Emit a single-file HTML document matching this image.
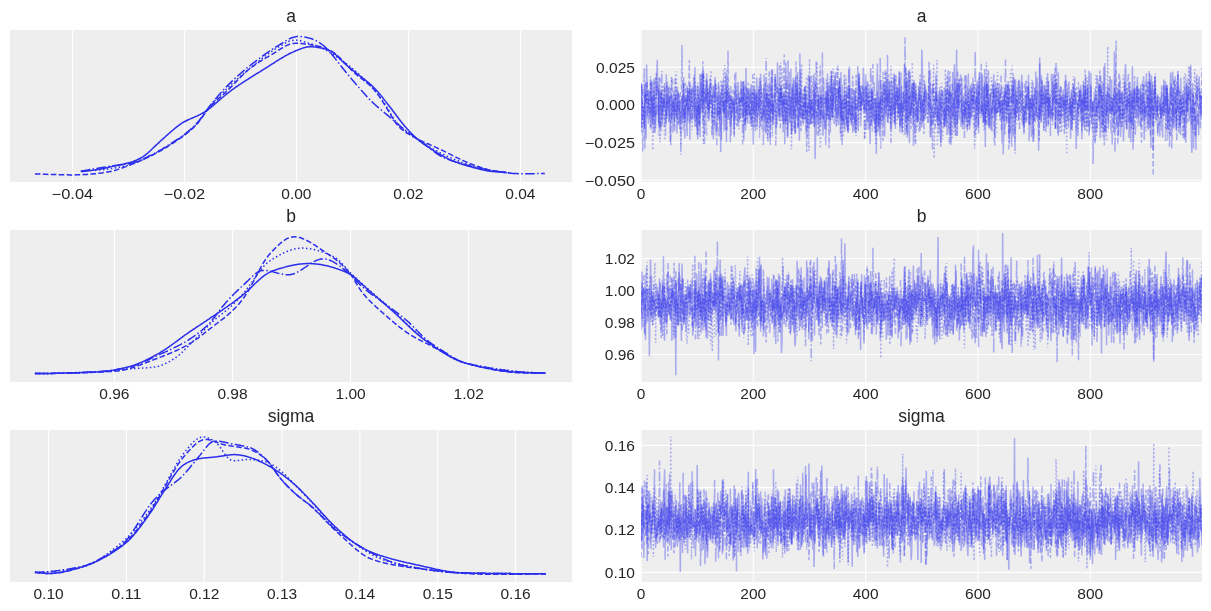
<!DOCTYPE html>
<html><head><meta charset="utf-8"><title>trace plot</title>
<style>html,body{margin:0;padding:0;background:#fff;width:1211px;height:611px;overflow:hidden}</style>
</head><body><svg width="1211" height="611" viewBox="0 0 1211 611" style="display:block;will-change:transform;font-family:'Liberation Sans',sans-serif"><defs><clipPath id="cL1"><rect x="10" y="30" width="562" height="152"/></clipPath><clipPath id="cR1"><rect x="641" y="30" width="561" height="152"/></clipPath><clipPath id="cL2"><rect x="10" y="230" width="562" height="152"/></clipPath><clipPath id="cR2"><rect x="641" y="230" width="561" height="152"/></clipPath><clipPath id="cL3"><rect x="10" y="430" width="562" height="152"/></clipPath><clipPath id="cR3"><rect x="641" y="430" width="561" height="152"/></clipPath></defs><rect x="10" y="30" width="562" height="152" fill="#eeeeee"/>
<line x1="72.40" y1="30" x2="72.40" y2="182" stroke="#fff" stroke-width="1.1"/>
<line x1="184.40" y1="30" x2="184.40" y2="182" stroke="#fff" stroke-width="1.1"/>
<line x1="296.40" y1="30" x2="296.40" y2="182" stroke="#fff" stroke-width="1.1"/>
<line x1="408.40" y1="30" x2="408.40" y2="182" stroke="#fff" stroke-width="1.1"/>
<line x1="520.40" y1="30" x2="520.40" y2="182" stroke="#fff" stroke-width="1.1"/>
<rect x="10" y="230" width="562" height="152" fill="#eeeeee"/>
<line x1="114.40" y1="230" x2="114.40" y2="382" stroke="#fff" stroke-width="1.1"/>
<line x1="232.50" y1="230" x2="232.50" y2="382" stroke="#fff" stroke-width="1.1"/>
<line x1="350.60" y1="230" x2="350.60" y2="382" stroke="#fff" stroke-width="1.1"/>
<line x1="468.70" y1="230" x2="468.70" y2="382" stroke="#fff" stroke-width="1.1"/>
<rect x="10" y="430" width="562" height="152" fill="#eeeeee"/>
<line x1="48.60" y1="430" x2="48.60" y2="582" stroke="#fff" stroke-width="1.1"/>
<line x1="126.43" y1="430" x2="126.43" y2="582" stroke="#fff" stroke-width="1.1"/>
<line x1="204.26" y1="430" x2="204.26" y2="582" stroke="#fff" stroke-width="1.1"/>
<line x1="282.09" y1="430" x2="282.09" y2="582" stroke="#fff" stroke-width="1.1"/>
<line x1="359.92" y1="430" x2="359.92" y2="582" stroke="#fff" stroke-width="1.1"/>
<line x1="437.75" y1="430" x2="437.75" y2="582" stroke="#fff" stroke-width="1.1"/>
<line x1="515.58" y1="430" x2="515.58" y2="582" stroke="#fff" stroke-width="1.1"/>
<rect x="641" y="30" width="561" height="152" fill="#eeeeee"/>
<line x1="641.00" y1="30" x2="641.00" y2="182" stroke="#fff" stroke-width="1.1"/>
<line x1="753.32" y1="30" x2="753.32" y2="182" stroke="#fff" stroke-width="1.1"/>
<line x1="865.64" y1="30" x2="865.64" y2="182" stroke="#fff" stroke-width="1.1"/>
<line x1="977.96" y1="30" x2="977.96" y2="182" stroke="#fff" stroke-width="1.1"/>
<line x1="1090.28" y1="30" x2="1090.28" y2="182" stroke="#fff" stroke-width="1.1"/>
<line x1="641" y1="67.38" x2="1202" y2="67.38" stroke="#fff" stroke-width="1.1"/>
<line x1="641" y1="105.00" x2="1202" y2="105.00" stroke="#fff" stroke-width="1.1"/>
<line x1="641" y1="142.62" x2="1202" y2="142.62" stroke="#fff" stroke-width="1.1"/>
<line x1="641" y1="180.25" x2="1202" y2="180.25" stroke="#fff" stroke-width="1.1"/>
<rect x="641" y="230" width="561" height="152" fill="#eeeeee"/>
<line x1="641.00" y1="230" x2="641.00" y2="382" stroke="#fff" stroke-width="1.1"/>
<line x1="753.32" y1="230" x2="753.32" y2="382" stroke="#fff" stroke-width="1.1"/>
<line x1="865.64" y1="230" x2="865.64" y2="382" stroke="#fff" stroke-width="1.1"/>
<line x1="977.96" y1="230" x2="977.96" y2="382" stroke="#fff" stroke-width="1.1"/>
<line x1="1090.28" y1="230" x2="1090.28" y2="382" stroke="#fff" stroke-width="1.1"/>
<line x1="641" y1="258.50" x2="1202" y2="258.50" stroke="#fff" stroke-width="1.1"/>
<line x1="641" y1="290.50" x2="1202" y2="290.50" stroke="#fff" stroke-width="1.1"/>
<line x1="641" y1="322.50" x2="1202" y2="322.50" stroke="#fff" stroke-width="1.1"/>
<line x1="641" y1="354.50" x2="1202" y2="354.50" stroke="#fff" stroke-width="1.1"/>
<rect x="641" y="430" width="561" height="152" fill="#eeeeee"/>
<line x1="641.00" y1="430" x2="641.00" y2="582" stroke="#fff" stroke-width="1.1"/>
<line x1="753.32" y1="430" x2="753.32" y2="582" stroke="#fff" stroke-width="1.1"/>
<line x1="865.64" y1="430" x2="865.64" y2="582" stroke="#fff" stroke-width="1.1"/>
<line x1="977.96" y1="430" x2="977.96" y2="582" stroke="#fff" stroke-width="1.1"/>
<line x1="1090.28" y1="430" x2="1090.28" y2="582" stroke="#fff" stroke-width="1.1"/>
<line x1="641" y1="445.33" x2="1202" y2="445.33" stroke="#fff" stroke-width="1.1"/>
<line x1="641" y1="487.67" x2="1202" y2="487.67" stroke="#fff" stroke-width="1.1"/>
<line x1="641" y1="530.00" x2="1202" y2="530.00" stroke="#fff" stroke-width="1.1"/>
<line x1="641" y1="572.33" x2="1202" y2="572.33" stroke="#fff" stroke-width="1.1"/>
<path d="M80.8 171.6 L81.8 171.5 L82.8 171.4 L83.8 171.4 L84.8 171.3 L85.8 171.2 L86.8 171.0 L87.8 170.9 L88.8 170.8 L89.8 170.7 L90.8 170.5 L91.8 170.4 L92.8 170.2 L93.8 170.1 L94.8 169.9 L95.8 169.8 L96.8 169.6 L97.8 169.5 L98.8 169.3 L99.8 169.1 L100.8 169.0 L101.8 168.8 L102.8 168.6 L103.8 168.4 L104.8 168.2 L105.8 168.0 L106.8 167.7 L107.8 167.5 L108.8 167.3 L109.8 167.1 L110.8 166.8 L111.8 166.6 L112.8 166.3 L113.8 166.1 L114.8 165.9 L115.8 165.6 L116.8 165.4 L117.8 165.2 L118.8 165.0 L119.8 164.8 L120.8 164.6 L121.8 164.4 L122.8 164.2 L123.8 164.0 L124.8 163.7 L125.8 163.5 L126.8 163.3 L127.8 163.1 L128.8 162.8 L129.8 162.6 L130.8 162.3 L131.8 161.9 L132.8 161.6 L133.8 161.2 L134.8 160.8 L135.8 160.4 L136.8 160.0 L137.8 159.5 L138.8 159.0 L139.8 158.5 L140.8 158.0 L141.8 157.4 L142.8 156.8 L143.8 156.1 L144.8 155.4 L145.8 154.6 L146.8 153.8 L147.8 153.0 L148.8 152.1 L149.8 151.2 L150.8 150.2 L151.8 149.3 L152.8 148.3 L153.8 147.3 L154.8 146.4 L155.8 145.4 L156.8 144.5 L157.8 143.6 L158.8 142.6 L159.8 141.7 L160.8 140.8 L161.8 139.9 L162.8 139.0 L163.8 138.1 L164.8 137.2 L165.8 136.3 L166.8 135.4 L167.8 134.5 L168.8 133.6 L169.8 132.8 L170.8 131.9 L171.8 131.0 L172.8 130.2 L173.8 129.3 L174.8 128.5 L175.8 127.7 L176.8 126.9 L177.8 126.1 L178.8 125.3 L179.8 124.6 L180.8 123.9 L181.8 123.2 L182.8 122.6 L183.8 122.0 L184.8 121.5 L185.8 121.0 L186.8 120.5 L187.8 120.0 L188.8 119.5 L189.8 119.1 L190.8 118.6 L191.8 118.2 L192.8 117.8 L193.8 117.4 L194.8 116.9 L195.8 116.5 L196.8 116.1 L197.8 115.6 L198.8 115.1 L199.8 114.7 L200.8 114.1 L201.8 113.6 L202.8 113.0 L203.8 112.5 L204.8 111.8 L205.8 111.2 L206.8 110.5 L207.8 109.8 L208.8 109.0 L209.8 108.3 L210.8 107.5 L211.8 106.7 L212.8 105.8 L213.8 105.0 L214.8 104.1 L215.8 103.3 L216.8 102.4 L217.8 101.5 L218.8 100.6 L219.8 99.8 L220.8 98.9 L221.8 98.0 L222.8 97.2 L223.8 96.3 L224.8 95.5 L225.8 94.6 L226.8 93.8 L227.8 93.1 L228.8 92.3 L229.8 91.5 L230.8 90.8 L231.8 90.0 L232.8 89.3 L233.8 88.6 L234.8 87.9 L235.8 87.2 L236.8 86.5 L237.8 85.9 L238.8 85.2 L239.8 84.5 L240.8 83.8 L241.8 83.2 L242.8 82.5 L243.8 81.9 L244.8 81.2 L245.8 80.6 L246.8 79.9 L247.8 79.3 L248.8 78.6 L249.8 78.0 L250.8 77.4 L251.8 76.7 L252.8 76.1 L253.8 75.5 L254.8 74.9 L255.8 74.2 L256.8 73.6 L257.8 73.0 L258.8 72.4 L259.8 71.8 L260.8 71.1 L261.8 70.5 L262.8 69.9 L263.8 69.3 L264.8 68.7 L265.8 68.0 L266.8 67.4 L267.8 66.8 L268.8 66.2 L269.8 65.5 L270.8 64.9 L271.8 64.2 L272.8 63.6 L273.8 63.0 L274.8 62.3 L275.8 61.7 L276.8 61.0 L277.8 60.4 L278.8 59.8 L279.8 59.2 L280.8 58.6 L281.8 58.0 L282.8 57.4 L283.8 56.8 L284.8 56.2 L285.8 55.6 L286.8 55.1 L287.8 54.6 L288.8 54.0 L289.8 53.5 L290.8 53.0 L291.8 52.6 L292.8 52.1 L293.8 51.7 L294.8 51.2 L295.8 50.8 L296.8 50.4 L297.8 50.0 L298.8 49.6 L299.8 49.2 L300.8 48.8 L301.8 48.4 L302.8 48.1 L303.8 47.8 L304.8 47.5 L305.8 47.3 L306.8 47.1 L307.8 46.9 L308.8 46.8 L309.8 46.8 L310.8 46.8 L311.8 46.8 L312.8 46.8 L313.8 46.9 L314.8 47.0 L315.8 47.1 L316.8 47.2 L317.8 47.4 L318.8 47.5 L319.8 47.7 L320.8 47.9 L321.8 48.1 L322.8 48.4 L323.8 48.6 L324.8 48.8 L325.8 49.1 L326.8 49.4 L327.8 49.8 L328.8 50.1 L329.8 50.6 L330.8 51.1 L331.8 51.7 L332.8 52.4 L333.8 53.1 L334.8 53.9 L335.8 54.8 L336.8 55.8 L337.8 56.8 L338.8 57.8 L339.8 58.8 L340.8 59.8 L341.8 60.8 L342.8 61.8 L343.8 62.7 L344.8 63.7 L345.8 64.5 L346.8 65.4 L347.8 66.3 L348.8 67.1 L349.8 67.9 L350.8 68.7 L351.8 69.5 L352.8 70.3 L353.8 71.1 L354.8 71.9 L355.8 72.7 L356.8 73.5 L357.8 74.2 L358.8 75.0 L359.8 75.8 L360.8 76.6 L361.8 77.4 L362.8 78.2 L363.8 78.9 L364.8 79.7 L365.8 80.5 L366.8 81.3 L367.8 82.1 L368.8 82.9 L369.8 83.7 L370.8 84.6 L371.8 85.5 L372.8 86.5 L373.8 87.5 L374.8 88.5 L375.8 89.6 L376.8 90.7 L377.8 91.8 L378.8 93.0 L379.8 94.1 L380.8 95.4 L381.8 96.6 L382.8 97.8 L383.8 99.1 L384.8 100.4 L385.8 101.6 L386.8 102.9 L387.8 104.2 L388.8 105.4 L389.8 106.7 L390.8 108.0 L391.8 109.3 L392.8 110.7 L393.8 112.0 L394.8 113.3 L395.8 114.7 L396.8 116.0 L397.8 117.3 L398.8 118.7 L399.8 120.0 L400.8 121.3 L401.8 122.5 L402.8 123.8 L403.8 125.0 L404.8 126.2 L405.8 127.3 L406.8 128.5 L407.8 129.6 L408.8 130.7 L409.8 131.7 L410.8 132.8 L411.8 133.8 L412.8 134.8 L413.8 135.8 L414.8 136.7 L415.8 137.6 L416.8 138.5 L417.8 139.4 L418.8 140.2 L419.8 141.1 L420.8 141.8 L421.8 142.6 L422.8 143.4 L423.8 144.1 L424.8 144.8 L425.8 145.5 L426.8 146.2 L427.8 146.8 L428.8 147.5 L429.8 148.2 L430.8 148.8 L431.8 149.4 L432.8 150.0 L433.8 150.7 L434.8 151.3 L435.8 151.9 L436.8 152.5 L437.8 153.1 L438.8 153.6 L439.8 154.2 L440.8 154.8 L441.8 155.4 L442.8 156.0 L443.8 156.5 L444.8 157.1 L445.8 157.6 L446.8 158.1 L447.8 158.6 L448.8 159.1 L449.8 159.6 L450.8 160.0 L451.8 160.5 L452.8 160.9 L453.8 161.3 L454.8 161.7 L455.8 162.1 L456.8 162.4 L457.8 162.8 L458.8 163.2 L459.8 163.5 L460.8 163.8 L461.8 164.2 L462.8 164.5 L463.8 164.8 L464.8 165.1 L465.8 165.4 L466.8 165.7 L467.8 166.0 L468.8 166.3 L469.8 166.6 L470.8 166.8 L471.8 167.1 L472.8 167.4 L473.8 167.6 L474.8 167.9 L475.8 168.1 L476.8 168.4 L477.8 168.6 L478.8 168.9 L479.8 169.2 L480.8 169.4 L481.8 169.6 L482.8 169.9 L483.8 170.1 L484.8 170.3 L485.8 170.5 L486.8 170.7 L487.8 170.9 L488.8 171.0 L489.8 171.2 L490.8 171.3 L491.8 171.4 L492.8 171.5 L493.8 171.6 L494.8 171.7 L495.8 171.7 L496.8 171.8 L497.8 171.8 L498.8 171.9 L499.8 171.9 L500.8 171.9 L501.8 171.9 L502.8 172.0 L503.8 172.0 L504.8 172.0 L505.7 172.0" fill="none" stroke="#2a2eec" stroke-width="1.5" clip-path="url(#cL1)"/>
<path d="M34.9 173.9 L35.9 173.9 L36.9 173.9 L37.9 174.0 L38.9 174.0 L39.9 174.0 L40.9 174.1 L41.9 174.1 L42.9 174.2 L43.9 174.2 L44.9 174.2 L45.9 174.3 L46.9 174.3 L47.9 174.4 L48.9 174.4 L49.9 174.4 L50.9 174.5 L51.9 174.5 L52.9 174.5 L53.9 174.5 L54.9 174.6 L55.9 174.6 L56.9 174.6 L57.9 174.6 L58.9 174.7 L59.9 174.7 L60.9 174.7 L61.9 174.7 L62.9 174.8 L63.9 174.8 L64.9 174.8 L65.9 174.8 L66.9 174.8 L67.9 174.8 L68.9 174.9 L69.9 174.9 L70.9 174.9 L71.9 174.9 L72.9 174.9 L73.9 174.9 L74.9 174.9 L75.9 174.8 L76.9 174.8 L77.9 174.8 L78.9 174.8 L79.9 174.7 L80.9 174.7 L81.9 174.6 L82.9 174.6 L83.9 174.5 L84.9 174.5 L85.9 174.4 L86.9 174.4 L87.9 174.3 L88.9 174.2 L89.9 174.2 L90.9 174.1 L91.9 174.0 L92.9 173.9 L93.9 173.8 L94.9 173.8 L95.9 173.7 L96.9 173.5 L97.9 173.4 L98.9 173.3 L99.9 173.2 L100.9 173.1 L101.9 172.9 L102.9 172.8 L103.9 172.6 L104.9 172.5 L105.9 172.3 L106.9 172.1 L107.9 172.0 L108.9 171.8 L109.9 171.6 L110.9 171.4 L111.9 171.1 L112.9 170.9 L113.9 170.6 L114.9 170.4 L115.9 170.1 L116.9 169.8 L117.9 169.4 L118.9 169.1 L119.9 168.8 L120.9 168.4 L121.9 168.1 L122.9 167.7 L123.9 167.3 L124.9 166.9 L125.9 166.6 L126.9 166.2 L127.9 165.8 L128.9 165.4 L129.9 165.0 L130.9 164.6 L131.9 164.3 L132.9 163.9 L133.9 163.5 L134.9 163.1 L135.9 162.6 L136.9 162.2 L137.9 161.8 L138.9 161.4 L139.9 161.0 L140.9 160.5 L141.9 160.1 L142.9 159.6 L143.9 159.2 L144.9 158.7 L145.9 158.2 L146.9 157.8 L147.9 157.3 L148.9 156.8 L149.9 156.3 L150.9 155.9 L151.9 155.4 L152.9 154.9 L153.9 154.4 L154.9 153.8 L155.9 153.3 L156.9 152.8 L157.9 152.2 L158.9 151.7 L159.9 151.1 L160.9 150.6 L161.9 150.0 L162.9 149.4 L163.9 148.8 L164.9 148.2 L165.9 147.6 L166.9 147.0 L167.9 146.4 L168.9 145.7 L169.9 145.1 L170.9 144.5 L171.9 143.8 L172.9 143.2 L173.9 142.6 L174.9 141.9 L175.9 141.2 L176.9 140.6 L177.9 139.9 L178.9 139.2 L179.9 138.5 L180.9 137.8 L181.9 137.1 L182.9 136.3 L183.9 135.6 L184.9 134.8 L185.9 134.0 L186.9 133.2 L187.9 132.4 L188.9 131.6 L189.9 130.8 L190.9 129.9 L191.9 129.0 L192.9 128.1 L193.9 127.1 L194.9 126.1 L195.9 125.1 L196.9 124.0 L197.9 122.9 L198.9 121.7 L199.9 120.4 L200.9 119.1 L201.9 117.8 L202.9 116.4 L203.9 114.9 L204.9 113.5 L205.9 112.2 L206.9 110.8 L207.9 109.6 L208.9 108.3 L209.9 107.2 L210.9 106.0 L211.9 105.0 L212.9 103.9 L213.9 102.9 L214.9 102.0 L215.9 101.0 L216.9 100.1 L217.9 99.1 L218.9 98.2 L219.9 97.3 L220.9 96.4 L221.9 95.6 L222.9 94.7 L223.9 93.8 L224.9 92.9 L225.9 91.9 L226.9 91.0 L227.9 90.1 L228.9 89.1 L229.9 88.1 L230.9 87.1 L231.9 86.1 L232.9 85.1 L233.9 84.0 L234.9 83.0 L235.9 81.9 L236.9 80.9 L237.9 79.8 L238.9 78.8 L239.9 77.7 L240.9 76.7 L241.9 75.7 L242.9 74.7 L243.9 73.8 L244.9 72.8 L245.9 71.9 L246.9 71.0 L247.9 70.2 L248.9 69.3 L249.9 68.6 L250.9 67.8 L251.9 67.0 L252.9 66.3 L253.9 65.6 L254.9 64.9 L255.9 64.2 L256.9 63.5 L257.9 62.9 L258.9 62.2 L259.9 61.6 L260.9 60.9 L261.9 60.3 L262.9 59.7 L263.9 59.1 L264.9 58.5 L265.9 57.9 L266.9 57.4 L267.9 56.8 L268.9 56.2 L269.9 55.6 L270.9 55.0 L271.9 54.4 L272.9 53.8 L273.9 53.2 L274.9 52.6 L275.9 52.0 L276.9 51.3 L277.9 50.7 L278.9 50.0 L279.9 49.4 L280.9 48.7 L281.9 48.1 L282.9 47.5 L283.9 46.9 L284.9 46.4 L285.9 45.8 L286.9 45.4 L287.9 44.9 L288.9 44.5 L289.9 44.2 L290.9 43.9 L291.9 43.7 L292.9 43.5 L293.9 43.4 L294.9 43.3 L295.9 43.2 L296.9 43.2 L297.9 43.3 L298.9 43.3 L299.9 43.4 L300.9 43.5 L301.9 43.6 L302.9 43.7 L303.9 43.8 L304.9 43.9 L305.9 44.0 L306.9 44.1 L307.9 44.3 L308.9 44.4 L309.9 44.6 L310.9 44.7 L311.9 44.9 L312.9 45.1 L313.9 45.2 L314.9 45.4 L315.9 45.7 L316.9 45.9 L317.9 46.1 L318.9 46.4 L319.9 46.6 L320.9 46.9 L321.9 47.2 L322.9 47.5 L323.9 47.9 L324.9 48.2 L325.9 48.6 L326.9 49.0 L327.9 49.4 L328.9 49.9 L329.9 50.3 L330.9 50.9 L331.9 51.5 L332.9 52.1 L333.9 52.8 L334.9 53.5 L335.9 54.3 L336.9 55.2 L337.9 56.0 L338.9 57.0 L339.9 57.9 L340.9 58.9 L341.9 59.9 L342.9 60.9 L343.9 62.0 L344.9 63.0 L345.9 64.1 L346.9 65.2 L347.9 66.2 L348.9 67.3 L349.9 68.3 L350.9 69.4 L351.9 70.4 L352.9 71.3 L353.9 72.3 L354.9 73.2 L355.9 74.1 L356.9 75.0 L357.9 75.8 L358.9 76.6 L359.9 77.4 L360.9 78.2 L361.9 78.9 L362.9 79.7 L363.9 80.4 L364.9 81.2 L365.9 82.0 L366.9 82.8 L367.9 83.6 L368.9 84.4 L369.9 85.3 L370.9 86.3 L371.9 87.3 L372.9 88.3 L373.9 89.4 L374.9 90.6 L375.9 91.8 L376.9 93.1 L377.9 94.5 L378.9 95.9 L379.9 97.4 L380.9 98.8 L381.9 100.4 L382.9 101.9 L383.9 103.5 L384.9 105.1 L385.9 106.7 L386.9 108.3 L387.9 110.0 L388.9 111.7 L389.9 113.4 L390.9 115.1 L391.9 116.9 L392.9 118.5 L393.9 120.2 L394.9 121.7 L395.9 123.1 L396.9 124.4 L397.9 125.6 L398.9 126.7 L399.9 127.7 L400.9 128.6 L401.9 129.4 L402.9 130.2 L403.9 130.9 L404.9 131.7 L405.9 132.3 L406.9 133.0 L407.9 133.6 L408.9 134.2 L409.9 134.8 L410.9 135.4 L411.9 136.0 L412.9 136.5 L413.9 137.1 L414.9 137.6 L415.9 138.1 L416.9 138.7 L417.9 139.2 L418.9 139.7 L419.9 140.2 L420.9 140.6 L421.9 141.1 L422.9 141.6 L423.9 142.0 L424.9 142.5 L425.9 142.9 L426.9 143.4 L427.9 143.8 L428.9 144.2 L429.9 144.7 L430.9 145.1 L431.9 145.5 L432.9 146.0 L433.9 146.4 L434.9 146.9 L435.9 147.4 L436.9 147.8 L437.9 148.3 L438.9 148.8 L439.9 149.3 L440.9 149.7 L441.9 150.2 L442.9 150.7 L443.9 151.2 L444.9 151.7 L445.9 152.2 L446.9 152.7 L447.9 153.2 L448.9 153.7 L449.9 154.2 L450.9 154.7 L451.9 155.2 L452.9 155.7 L453.9 156.2 L454.9 156.6 L455.9 157.1 L456.9 157.6 L457.9 158.1 L458.9 158.6 L459.9 159.0 L460.9 159.5 L461.9 160.0 L462.9 160.5 L463.9 160.9 L464.9 161.4 L465.9 161.8 L466.9 162.3 L467.9 162.7 L468.9 163.1 L469.9 163.5 L470.9 163.9 L471.9 164.3 L472.9 164.7 L473.9 165.0 L474.9 165.4 L475.9 165.8 L476.9 166.1 L477.9 166.5 L478.9 166.8 L479.9 167.2 L480.9 167.5 L481.9 167.8 L482.9 168.1 L483.9 168.4 L484.9 168.8 L485.9 169.0 L486.9 169.3 L487.9 169.6 L488.9 169.9 L489.9 170.1 L490.9 170.3 L491.9 170.6 L492.9 170.8 L493.9 171.0 L494.9 171.1 L495.9 171.3 L496.9 171.5 L497.9 171.6 L498.9 171.8 L499.9 171.9 L500.9 172.1 L501.9 172.2 L502.9 172.3 L503.9 172.5 L504.9 172.6 L505.9 172.7 L506.9 172.7 L507.9 172.8 L508.9 172.9 L509.9 172.9" fill="none" stroke="#2a2eec" stroke-width="1.5" stroke-dasharray="5.55 2.4" clip-path="url(#cL1)"/>
<path d="M95.0 170.4 L96.0 170.3 L97.0 170.3 L98.0 170.2 L99.0 170.1 L100.0 170.0 L101.0 169.9 L102.0 169.8 L103.0 169.7 L104.0 169.5 L105.0 169.4 L106.0 169.3 L107.0 169.2 L108.0 169.0 L109.0 168.9 L110.0 168.7 L111.0 168.6 L112.0 168.4 L113.0 168.3 L114.0 168.1 L115.0 167.9 L116.0 167.7 L117.0 167.6 L118.0 167.4 L119.0 167.2 L120.0 167.0 L121.0 166.8 L122.0 166.5 L123.0 166.3 L124.0 166.1 L125.0 165.9 L126.0 165.6 L127.0 165.4 L128.0 165.1 L129.0 164.8 L130.0 164.5 L131.0 164.2 L132.0 163.9 L133.0 163.6 L134.0 163.3 L135.0 162.9 L136.0 162.5 L137.0 162.1 L138.0 161.7 L139.0 161.3 L140.0 160.9 L141.0 160.4 L142.0 160.0 L143.0 159.5 L144.0 159.0 L145.0 158.5 L146.0 158.0 L147.0 157.6 L148.0 157.0 L149.0 156.5 L150.0 156.0 L151.0 155.5 L152.0 155.0 L153.0 154.5 L154.0 153.9 L155.0 153.4 L156.0 152.9 L157.0 152.3 L158.0 151.8 L159.0 151.2 L160.0 150.7 L161.0 150.1 L162.0 149.5 L163.0 148.9 L164.0 148.3 L165.0 147.7 L166.0 147.1 L167.0 146.4 L168.0 145.8 L169.0 145.2 L170.0 144.6 L171.0 143.9 L172.0 143.3 L173.0 142.7 L174.0 142.0 L175.0 141.4 L176.0 140.7 L177.0 140.1 L178.0 139.4 L179.0 138.8 L180.0 138.1 L181.0 137.4 L182.0 136.7 L183.0 135.9 L184.0 135.2 L185.0 134.4 L186.0 133.7 L187.0 132.9 L188.0 132.1 L189.0 131.2 L190.0 130.4 L191.0 129.5 L192.0 128.6 L193.0 127.7 L194.0 126.8 L195.0 125.8 L196.0 124.7 L197.0 123.6 L198.0 122.5 L199.0 121.3 L200.0 120.0 L201.0 118.7 L202.0 117.3 L203.0 115.9 L204.0 114.4 L205.0 113.0 L206.0 111.6 L207.0 110.2 L208.0 108.9 L209.0 107.6 L210.0 106.4 L211.0 105.2 L212.0 104.0 L213.0 102.8 L214.0 101.7 L215.0 100.6 L216.0 99.5 L217.0 98.5 L218.0 97.4 L219.0 96.4 L220.0 95.4 L221.0 94.4 L222.0 93.4 L223.0 92.4 L224.0 91.4 L225.0 90.4 L226.0 89.5 L227.0 88.5 L228.0 87.6 L229.0 86.6 L230.0 85.7 L231.0 84.7 L232.0 83.8 L233.0 82.9 L234.0 82.0 L235.0 81.1 L236.0 80.2 L237.0 79.3 L238.0 78.4 L239.0 77.5 L240.0 76.6 L241.0 75.7 L242.0 74.9 L243.0 74.0 L244.0 73.2 L245.0 72.3 L246.0 71.5 L247.0 70.7 L248.0 69.8 L249.0 69.0 L250.0 68.2 L251.0 67.4 L252.0 66.6 L253.0 65.8 L254.0 65.0 L255.0 64.2 L256.0 63.4 L257.0 62.6 L258.0 61.8 L259.0 61.0 L260.0 60.2 L261.0 59.4 L262.0 58.6 L263.0 57.8 L264.0 57.0 L265.0 56.2 L266.0 55.5 L267.0 54.7 L268.0 54.0 L269.0 53.2 L270.0 52.5 L271.0 51.8 L272.0 51.1 L273.0 50.5 L274.0 49.8 L275.0 49.2 L276.0 48.5 L277.0 47.9 L278.0 47.3 L279.0 46.7 L280.0 46.1 L281.0 45.6 L282.0 45.0 L283.0 44.4 L284.0 43.8 L285.0 43.3 L286.0 42.7 L287.0 42.2 L288.0 41.8 L289.0 41.3 L290.0 41.0 L291.0 40.7 L292.0 40.4 L293.0 40.3 L294.0 40.1 L295.0 40.1 L296.0 40.1 L297.0 40.2 L298.0 40.3 L299.0 40.4 L300.0 40.6 L301.0 40.9 L302.0 41.1 L303.0 41.4 L304.0 41.7 L305.0 42.0 L306.0 42.3 L307.0 42.6 L308.0 42.9 L309.0 43.3 L310.0 43.6 L311.0 43.9 L312.0 44.2 L313.0 44.5 L314.0 44.9 L315.0 45.2 L316.0 45.6 L317.0 46.0 L318.0 46.4 L319.0 46.8 L320.0 47.2 L321.0 47.7 L322.0 48.1 L323.0 48.6 L324.0 49.1 L325.0 49.7 L326.0 50.2 L327.0 50.8 L328.0 51.3 L329.0 51.9 L330.0 52.6 L331.0 53.2 L332.0 53.8 L333.0 54.4 L334.0 55.1 L335.0 55.8 L336.0 56.4 L337.0 57.1 L338.0 57.8 L339.0 58.5 L340.0 59.2 L341.0 59.9 L342.0 60.6 L343.0 61.3 L344.0 62.0 L345.0 62.8 L346.0 63.5 L347.0 64.3 L348.0 65.1 L349.0 65.9 L350.0 66.7 L351.0 67.5 L352.0 68.3 L353.0 69.1 L354.0 70.0 L355.0 70.8 L356.0 71.7 L357.0 72.6 L358.0 73.5 L359.0 74.4 L360.0 75.3 L361.0 76.2 L362.0 77.2 L363.0 78.1 L364.0 79.1 L365.0 80.1 L366.0 81.1 L367.0 82.1 L368.0 83.1 L369.0 84.2 L370.0 85.3 L371.0 86.3 L372.0 87.5 L373.0 88.6 L374.0 89.7 L375.0 90.9 L376.0 92.1 L377.0 93.3 L378.0 94.6 L379.0 95.8 L380.0 97.1 L381.0 98.4 L382.0 99.8 L383.0 101.2 L384.0 102.6 L385.0 104.1 L386.0 105.7 L387.0 107.3 L388.0 108.9 L389.0 110.6 L390.0 112.3 L391.0 114.1 L392.0 115.7 L393.0 117.4 L394.0 118.9 L395.0 120.4 L396.0 121.8 L397.0 123.1 L398.0 124.3 L399.0 125.4 L400.0 126.4 L401.0 127.3 L402.0 128.3 L403.0 129.1 L404.0 130.0 L405.0 130.8 L406.0 131.5 L407.0 132.3 L408.0 133.0 L409.0 133.7 L410.0 134.4 L411.0 135.1 L412.0 135.8 L413.0 136.5 L414.0 137.2 L415.0 137.9 L416.0 138.5 L417.0 139.2 L418.0 139.9 L419.0 140.5 L420.0 141.2 L421.0 141.8 L422.0 142.4 L423.0 143.0 L424.0 143.6 L425.0 144.3 L426.0 144.9 L427.0 145.4 L428.0 146.0 L429.0 146.6 L430.0 147.2 L431.0 147.8 L432.0 148.3 L433.0 148.9 L434.0 149.4 L435.0 150.0 L436.0 150.5 L437.0 151.0 L438.0 151.6 L439.0 152.1 L440.0 152.6 L441.0 153.1 L442.0 153.6 L443.0 154.1 L444.0 154.6 L445.0 155.1 L446.0 155.6 L447.0 156.1 L448.0 156.6 L449.0 157.0 L450.0 157.5 L451.0 157.9 L452.0 158.4 L453.0 158.8 L454.0 159.2 L455.0 159.6 L456.0 160.0 L457.0 160.4 L458.0 160.8 L459.0 161.2 L460.0 161.6 L461.0 162.0 L462.0 162.4 L463.0 162.7 L464.0 163.1 L465.0 163.4 L466.0 163.8 L467.0 164.1 L468.0 164.5 L469.0 164.8 L470.0 165.1 L471.0 165.4 L472.0 165.7 L473.0 166.0 L474.0 166.3 L475.0 166.6 L476.0 166.8 L477.0 167.1 L478.0 167.4 L479.0 167.6 L480.0 167.9 L481.0 168.2 L482.0 168.4 L483.0 168.6 L484.0 168.9 L485.0 169.1 L486.0 169.3 L487.0 169.6 L488.0 169.8 L489.0 170.0 L490.0 170.2 L491.0 170.4 L492.0 170.6 L493.0 170.7 L494.0 170.9 L495.0 171.1 L496.0 171.2 L497.0 171.4 L498.0 171.5 L499.0 171.7 L500.0 171.8 L501.0 172.0 L502.0 172.1 L503.0 172.2 L504.0 172.4 L505.0 172.5 L506.0 172.6 L507.0 172.7 L508.0 172.8 L509.0 172.8 L510.0 172.9" fill="none" stroke="#2a2eec" stroke-width="1.5" stroke-dasharray="1.5 2.475" clip-path="url(#cL1)"/>
<path d="M80.8 171.1 L81.8 171.0 L82.8 170.8 L83.8 170.7 L84.8 170.5 L85.8 170.3 L86.8 170.2 L87.8 170.0 L88.8 169.8 L89.8 169.6 L90.8 169.4 L91.8 169.3 L92.8 169.1 L93.8 168.9 L94.8 168.7 L95.8 168.5 L96.8 168.4 L97.8 168.2 L98.8 168.0 L99.8 167.9 L100.8 167.7 L101.8 167.5 L102.8 167.4 L103.8 167.2 L104.8 167.1 L105.8 166.9 L106.8 166.7 L107.8 166.6 L108.8 166.4 L109.8 166.3 L110.8 166.1 L111.8 166.0 L112.8 165.9 L113.8 165.7 L114.8 165.6 L115.8 165.5 L116.8 165.4 L117.8 165.3 L118.8 165.1 L119.8 165.0 L120.8 164.9 L121.8 164.8 L122.8 164.6 L123.8 164.5 L124.8 164.3 L125.8 164.2 L126.8 164.0 L127.8 163.9 L128.8 163.7 L129.8 163.5 L130.8 163.2 L131.8 163.0 L132.8 162.7 L133.8 162.5 L134.8 162.2 L135.8 161.8 L136.8 161.5 L137.8 161.1 L138.8 160.7 L139.8 160.4 L140.8 159.9 L141.8 159.5 L142.8 159.1 L143.8 158.6 L144.8 158.2 L145.8 157.7 L146.8 157.2 L147.8 156.7 L148.8 156.2 L149.8 155.7 L150.8 155.2 L151.8 154.7 L152.8 154.2 L153.8 153.7 L154.8 153.2 L155.8 152.7 L156.8 152.1 L157.8 151.6 L158.8 151.0 L159.8 150.4 L160.8 149.9 L161.8 149.3 L162.8 148.6 L163.8 148.0 L164.8 147.4 L165.8 146.7 L166.8 146.1 L167.8 145.5 L168.8 144.8 L169.8 144.2 L170.8 143.6 L171.8 142.9 L172.8 142.3 L173.8 141.6 L174.8 141.0 L175.8 140.4 L176.8 139.7 L177.8 139.1 L178.8 138.4 L179.8 137.7 L180.8 137.0 L181.8 136.3 L182.8 135.6 L183.8 134.8 L184.8 134.1 L185.8 133.3 L186.8 132.5 L187.8 131.7 L188.8 130.8 L189.8 130.0 L190.8 129.1 L191.8 128.2 L192.8 127.3 L193.8 126.3 L194.8 125.3 L195.8 124.3 L196.8 123.2 L197.8 122.1 L198.8 120.9 L199.8 119.6 L200.8 118.3 L201.8 117.0 L202.8 115.6 L203.8 114.2 L204.8 112.8 L205.8 111.4 L206.8 110.0 L207.8 108.6 L208.8 107.3 L209.8 106.0 L210.8 104.7 L211.8 103.4 L212.8 102.2 L213.8 101.0 L214.8 99.8 L215.8 98.6 L216.8 97.4 L217.8 96.2 L218.8 95.1 L219.8 94.0 L220.8 92.8 L221.8 91.7 L222.8 90.6 L223.8 89.5 L224.8 88.5 L225.8 87.4 L226.8 86.4 L227.8 85.4 L228.8 84.4 L229.8 83.4 L230.8 82.4 L231.8 81.4 L232.8 80.5 L233.8 79.5 L234.8 78.6 L235.8 77.7 L236.8 76.8 L237.8 75.9 L238.8 75.0 L239.8 74.1 L240.8 73.2 L241.8 72.4 L242.8 71.5 L243.8 70.7 L244.8 69.9 L245.8 69.0 L246.8 68.2 L247.8 67.4 L248.8 66.6 L249.8 65.8 L250.8 65.0 L251.8 64.2 L252.8 63.4 L253.8 62.6 L254.8 61.9 L255.8 61.1 L256.8 60.3 L257.8 59.6 L258.8 58.8 L259.8 58.1 L260.8 57.3 L261.8 56.6 L262.8 55.8 L263.8 55.1 L264.8 54.4 L265.8 53.7 L266.8 53.0 L267.8 52.3 L268.8 51.6 L269.8 50.9 L270.8 50.2 L271.8 49.6 L272.8 48.9 L273.8 48.3 L274.8 47.7 L275.8 47.0 L276.8 46.4 L277.8 45.8 L278.8 45.2 L279.8 44.6 L280.8 44.0 L281.8 43.4 L282.8 42.7 L283.8 42.1 L284.8 41.5 L285.8 40.9 L286.8 40.3 L287.8 39.7 L288.8 39.2 L289.8 38.7 L290.8 38.2 L291.8 37.8 L292.8 37.5 L293.8 37.2 L294.8 36.9 L295.8 36.7 L296.8 36.6 L297.8 36.5 L298.8 36.5 L299.8 36.5 L300.8 36.6 L301.8 36.7 L302.8 36.8 L303.8 36.9 L304.8 37.1 L305.8 37.2 L306.8 37.4 L307.8 37.7 L308.8 37.9 L309.8 38.2 L310.8 38.4 L311.8 38.8 L312.8 39.2 L313.8 39.6 L314.8 40.0 L315.8 40.5 L316.8 41.1 L317.8 41.7 L318.8 42.3 L319.8 42.9 L320.8 43.6 L321.8 44.3 L322.8 45.0 L323.8 45.8 L324.8 46.7 L325.8 47.6 L326.8 48.5 L327.8 49.6 L328.8 50.7 L329.8 51.8 L330.8 53.0 L331.8 54.2 L332.8 55.5 L333.8 56.8 L334.8 58.1 L335.8 59.4 L336.8 60.7 L337.8 62.0 L338.8 63.3 L339.8 64.6 L340.8 65.8 L341.8 67.1 L342.8 68.3 L343.8 69.5 L344.8 70.7 L345.8 71.9 L346.8 73.1 L347.8 74.4 L348.8 75.6 L349.8 76.8 L350.8 78.0 L351.8 79.2 L352.8 80.4 L353.8 81.5 L354.8 82.7 L355.8 83.9 L356.8 85.0 L357.8 86.2 L358.8 87.4 L359.8 88.5 L360.8 89.7 L361.8 90.8 L362.8 92.0 L363.8 93.1 L364.8 94.2 L365.8 95.3 L366.8 96.4 L367.8 97.5 L368.8 98.6 L369.8 99.6 L370.8 100.6 L371.8 101.6 L372.8 102.6 L373.8 103.5 L374.8 104.5 L375.8 105.4 L376.8 106.3 L377.8 107.1 L378.8 108.0 L379.8 108.8 L380.8 109.7 L381.8 110.5 L382.8 111.3 L383.8 112.1 L384.8 113.0 L385.8 113.8 L386.8 114.6 L387.8 115.4 L388.8 116.3 L389.8 117.1 L390.8 118.0 L391.8 118.8 L392.8 119.7 L393.8 120.6 L394.8 121.4 L395.8 122.3 L396.8 123.2 L397.8 124.0 L398.8 124.9 L399.8 125.7 L400.8 126.6 L401.8 127.4 L402.8 128.2 L403.8 129.0 L404.8 129.8 L405.8 130.6 L406.8 131.3 L407.8 132.1 L408.8 132.8 L409.8 133.5 L410.8 134.2 L411.8 134.9 L412.8 135.6 L413.8 136.3 L414.8 137.0 L415.8 137.7 L416.8 138.4 L417.8 139.0 L418.8 139.7 L419.8 140.5 L420.8 141.2 L421.8 141.9 L422.8 142.7 L423.8 143.4 L424.8 144.2 L425.8 145.0 L426.8 145.8 L427.8 146.6 L428.8 147.4 L429.8 148.3 L430.8 149.1 L431.8 149.9 L432.8 150.7 L433.8 151.5 L434.8 152.2 L435.8 152.9 L436.8 153.6 L437.8 154.3 L438.8 154.9 L439.8 155.5 L440.8 156.1 L441.8 156.6 L442.8 157.1 L443.8 157.6 L444.8 158.0 L445.8 158.4 L446.8 158.8 L447.8 159.2 L448.8 159.6 L449.8 160.0 L450.8 160.3 L451.8 160.7 L452.8 161.0 L453.8 161.3 L454.8 161.6 L455.8 161.9 L456.8 162.3 L457.8 162.5 L458.8 162.8 L459.8 163.1 L460.8 163.4 L461.8 163.7 L462.8 164.0 L463.8 164.2 L464.8 164.5 L465.8 164.8 L466.8 165.0 L467.8 165.3 L468.8 165.6 L469.8 165.8 L470.8 166.1 L471.8 166.3 L472.8 166.6 L473.8 166.8 L474.8 167.1 L475.8 167.3 L476.8 167.6 L477.8 167.8 L478.8 168.0 L479.8 168.3 L480.8 168.5 L481.8 168.7 L482.8 168.9 L483.8 169.1 L484.8 169.3 L485.8 169.5 L486.8 169.7 L487.8 169.9 L488.8 170.1 L489.8 170.3 L490.8 170.4 L491.8 170.6 L492.8 170.7 L493.8 170.9 L494.8 171.0 L495.8 171.2 L496.8 171.3 L497.8 171.5 L498.8 171.6 L499.8 171.8 L500.8 171.9 L501.8 172.1 L502.8 172.2 L503.8 172.3 L504.8 172.5 L505.8 172.6 L506.8 172.7 L507.8 172.8 L508.8 173.0 L509.8 173.1 L510.8 173.2 L511.8 173.3 L512.8 173.4 L513.8 173.4 L514.8 173.5 L515.8 173.6 L516.8 173.6 L517.8 173.7 L518.8 173.7 L519.8 173.7 L520.8 173.8 L521.8 173.8 L522.8 173.8 L523.8 173.8 L524.8 173.8 L525.8 173.8 L526.8 173.8 L527.8 173.8 L528.8 173.8 L529.8 173.8 L530.8 173.8 L531.8 173.7 L532.8 173.7 L533.8 173.7 L534.8 173.7 L535.8 173.7 L536.8 173.6 L537.8 173.6 L538.8 173.6 L539.8 173.5 L540.8 173.5 L541.8 173.5 L542.8 173.4 L543.8 173.4 L544.8 173.4" fill="none" stroke="#2a2eec" stroke-width="1.5" stroke-dasharray="9.6 2.4 1.5 2.4" clip-path="url(#cL1)"/>
<path d="M34.9 373.5 L35.9 373.5 L36.9 373.5 L37.9 373.5 L38.9 373.5 L39.9 373.5 L40.9 373.5 L41.9 373.5 L42.9 373.5 L43.9 373.5 L44.9 373.5 L45.9 373.4 L46.9 373.4 L47.9 373.4 L48.9 373.4 L49.9 373.4 L50.9 373.4 L51.9 373.4 L52.9 373.4 L53.9 373.3 L54.9 373.3 L55.9 373.3 L56.9 373.3 L57.9 373.3 L58.9 373.3 L59.9 373.2 L60.9 373.2 L61.9 373.2 L62.9 373.2 L63.9 373.1 L64.9 373.1 L65.9 373.1 L66.9 373.1 L67.9 373.0 L68.9 373.0 L69.9 373.0 L70.9 373.0 L71.9 372.9 L72.9 372.9 L73.9 372.9 L74.9 372.8 L75.9 372.8 L76.9 372.8 L77.9 372.7 L78.9 372.7 L79.9 372.7 L80.9 372.6 L81.9 372.6 L82.9 372.6 L83.9 372.5 L84.9 372.5 L85.9 372.4 L86.9 372.4 L87.9 372.4 L88.9 372.3 L89.9 372.3 L90.9 372.2 L91.9 372.2 L92.9 372.1 L93.9 372.1 L94.9 372.0 L95.9 372.0 L96.9 371.9 L97.9 371.9 L98.9 371.8 L99.9 371.8 L100.9 371.7 L101.9 371.6 L102.9 371.6 L103.9 371.5 L104.9 371.4 L105.9 371.3 L106.9 371.1 L107.9 371.0 L108.9 370.9 L109.9 370.7 L110.9 370.6 L111.9 370.4 L112.9 370.3 L113.9 370.1 L114.9 369.9 L115.9 369.7 L116.9 369.5 L117.9 369.3 L118.9 369.1 L119.9 368.9 L120.9 368.7 L121.9 368.4 L122.9 368.2 L123.9 368.0 L124.9 367.7 L125.9 367.5 L126.9 367.2 L127.9 367.0 L128.9 366.7 L129.9 366.4 L130.9 366.2 L131.9 365.9 L132.9 365.5 L133.9 365.2 L134.9 364.9 L135.9 364.5 L136.9 364.1 L137.9 363.8 L138.9 363.3 L139.9 362.9 L140.9 362.5 L141.9 362.1 L142.9 361.6 L143.9 361.1 L144.9 360.7 L145.9 360.2 L146.9 359.7 L147.9 359.2 L148.9 358.7 L149.9 358.1 L150.9 357.6 L151.9 357.1 L152.9 356.6 L153.9 356.0 L154.9 355.5 L155.9 354.9 L156.9 354.4 L157.9 353.8 L158.9 353.3 L159.9 352.7 L160.9 352.1 L161.9 351.5 L162.9 350.9 L163.9 350.2 L164.9 349.6 L165.9 348.9 L166.9 348.3 L167.9 347.6 L168.9 346.9 L169.9 346.2 L170.9 345.5 L171.9 344.7 L172.9 344.0 L173.9 343.3 L174.9 342.5 L175.9 341.8 L176.9 341.1 L177.9 340.3 L178.9 339.6 L179.9 338.8 L180.9 338.1 L181.9 337.4 L182.9 336.6 L183.9 335.9 L184.9 335.2 L185.9 334.5 L186.9 333.8 L187.9 333.1 L188.9 332.4 L189.9 331.7 L190.9 331.0 L191.9 330.4 L192.9 329.7 L193.9 329.0 L194.9 328.4 L195.9 327.7 L196.9 327.0 L197.9 326.4 L198.9 325.7 L199.9 325.1 L200.9 324.4 L201.9 323.7 L202.9 323.1 L203.9 322.4 L204.9 321.7 L205.9 321.1 L206.9 320.4 L207.9 319.7 L208.9 319.1 L209.9 318.4 L210.9 317.7 L211.9 317.0 L212.9 316.4 L213.9 315.7 L214.9 315.0 L215.9 314.3 L216.9 313.7 L217.9 313.0 L218.9 312.3 L219.9 311.6 L220.9 310.9 L221.9 310.3 L222.9 309.6 L223.9 308.9 L224.9 308.2 L225.9 307.5 L226.9 306.8 L227.9 306.1 L228.9 305.4 L229.9 304.7 L230.9 304.0 L231.9 303.3 L232.9 302.6 L233.9 301.9 L234.9 301.1 L235.9 300.4 L236.9 299.7 L237.9 298.9 L238.9 298.2 L239.9 297.4 L240.9 296.6 L241.9 295.8 L242.9 295.0 L243.9 294.1 L244.9 293.2 L245.9 292.3 L246.9 291.4 L247.9 290.5 L248.9 289.5 L249.9 288.6 L250.9 287.6 L251.9 286.6 L252.9 285.7 L253.9 284.7 L254.9 283.7 L255.9 282.8 L256.9 281.9 L257.9 280.9 L258.9 280.0 L259.9 279.1 L260.9 278.3 L261.9 277.4 L262.9 276.6 L263.9 275.9 L264.9 275.2 L265.9 274.5 L266.9 273.8 L267.9 273.2 L268.9 272.7 L269.9 272.1 L270.9 271.7 L271.9 271.2 L272.9 270.8 L273.9 270.5 L274.9 270.1 L275.9 269.8 L276.9 269.5 L277.9 269.1 L278.9 268.8 L279.9 268.5 L280.9 268.2 L281.9 267.9 L282.9 267.7 L283.9 267.4 L284.9 267.1 L285.9 266.8 L286.9 266.6 L287.9 266.3 L288.9 266.1 L289.9 265.9 L290.9 265.6 L291.9 265.4 L292.9 265.2 L293.9 265.0 L294.9 264.8 L295.9 264.7 L296.9 264.5 L297.9 264.3 L298.9 264.2 L299.9 264.1 L300.9 264.0 L301.9 263.9 L302.9 263.8 L303.9 263.7 L304.9 263.7 L305.9 263.6 L306.9 263.6 L307.9 263.6 L308.9 263.6 L309.9 263.6 L310.9 263.6 L311.9 263.7 L312.9 263.7 L313.9 263.8 L314.9 263.9 L315.9 264.0 L316.9 264.1 L317.9 264.2 L318.9 264.3 L319.9 264.5 L320.9 264.6 L321.9 264.8 L322.9 265.0 L323.9 265.2 L324.9 265.4 L325.9 265.6 L326.9 265.8 L327.9 266.1 L328.9 266.3 L329.9 266.6 L330.9 266.9 L331.9 267.1 L332.9 267.4 L333.9 267.7 L334.9 268.0 L335.9 268.4 L336.9 268.7 L337.9 269.0 L338.9 269.4 L339.9 269.7 L340.9 270.1 L341.9 270.5 L342.9 270.9 L343.9 271.3 L344.9 271.7 L345.9 272.1 L346.9 272.5 L347.9 273.0 L348.9 273.5 L349.9 274.0 L350.9 274.6 L351.9 275.2 L352.9 275.9 L353.9 276.7 L354.9 277.6 L355.9 278.5 L356.9 279.4 L357.9 280.4 L358.9 281.3 L359.9 282.3 L360.9 283.2 L361.9 284.1 L362.9 285.1 L363.9 285.9 L364.9 286.8 L365.9 287.7 L366.9 288.6 L367.9 289.5 L368.9 290.4 L369.9 291.2 L370.9 292.1 L371.9 293.0 L372.9 293.8 L373.9 294.7 L374.9 295.6 L375.9 296.4 L376.9 297.3 L377.9 298.2 L378.9 299.0 L379.9 299.9 L380.9 300.8 L381.9 301.7 L382.9 302.5 L383.9 303.4 L384.9 304.3 L385.9 305.1 L386.9 306.0 L387.9 306.9 L388.9 307.8 L389.9 308.6 L390.9 309.5 L391.9 310.4 L392.9 311.3 L393.9 312.2 L394.9 313.1 L395.9 314.0 L396.9 315.0 L397.9 315.9 L398.9 316.8 L399.9 317.8 L400.9 318.7 L401.9 319.7 L402.9 320.7 L403.9 321.6 L404.9 322.6 L405.9 323.5 L406.9 324.5 L407.9 325.5 L408.9 326.4 L409.9 327.4 L410.9 328.3 L411.9 329.2 L412.9 330.1 L413.9 331.1 L414.9 332.0 L415.9 332.8 L416.9 333.7 L417.9 334.6 L418.9 335.4 L419.9 336.2 L420.9 337.0 L421.9 337.8 L422.9 338.6 L423.9 339.3 L424.9 340.1 L425.9 340.8 L426.9 341.5 L427.9 342.2 L428.9 342.9 L429.9 343.6 L430.9 344.3 L431.9 345.0 L432.9 345.7 L433.9 346.4 L434.9 347.1 L435.9 347.7 L436.9 348.4 L437.9 349.1 L438.9 349.7 L439.9 350.4 L440.9 351.0 L441.9 351.7 L442.9 352.3 L443.9 352.9 L444.9 353.5 L445.9 354.1 L446.9 354.7 L447.9 355.3 L448.9 355.9 L449.9 356.4 L450.9 357.0 L451.9 357.5 L452.9 358.0 L453.9 358.5 L454.9 359.0 L455.9 359.5 L456.9 359.9 L457.9 360.4 L458.9 360.8 L459.9 361.2 L460.9 361.6 L461.9 361.9 L462.9 362.3 L463.9 362.6 L464.9 362.9 L465.9 363.2 L466.9 363.5 L467.9 363.8 L468.9 364.1 L469.9 364.3 L470.9 364.6 L471.9 364.8 L472.9 365.1 L473.9 365.3 L474.9 365.6 L475.9 365.8 L476.9 366.0 L477.9 366.3 L478.9 366.5 L479.9 366.7 L480.9 367.0 L481.9 367.2 L482.9 367.4 L483.9 367.6 L484.9 367.8 L485.9 368.0 L486.9 368.2 L487.9 368.4 L488.9 368.6 L489.9 368.8 L490.9 369.0 L491.9 369.2 L492.9 369.4 L493.9 369.5 L494.9 369.7 L495.9 369.9 L496.9 370.0 L497.9 370.2 L498.9 370.3 L499.9 370.5 L500.9 370.6 L501.9 370.8 L502.9 370.9 L503.9 371.0 L504.9 371.2 L505.9 371.3 L506.9 371.4 L507.9 371.5 L508.9 371.6 L509.9 371.7 L510.9 371.8 L511.9 371.9 L512.9 372.0 L513.9 372.0 L514.9 372.1 L515.9 372.2 L516.9 372.2 L517.9 372.3 L518.9 372.3 L519.9 372.4 L520.9 372.4 L521.9 372.5 L522.9 372.5 L523.9 372.5 L524.9 372.6 L525.9 372.6 L526.9 372.6 L527.9 372.7 L528.9 372.7 L529.9 372.7 L530.9 372.8 L531.9 372.8 L532.9 372.8 L533.9 372.8 L534.9 372.9 L535.9 372.9 L536.9 372.9 L537.9 372.9 L538.9 372.9 L539.9 372.9 L540.9 373.0 L541.9 373.0 L542.9 373.0 L543.9 373.0 L544.9 373.0 L545.9 373.0" fill="none" stroke="#2a2eec" stroke-width="1.5" clip-path="url(#cL2)"/>
<path d="M34.9 373.5 L35.9 373.5 L36.9 373.5 L37.9 373.5 L38.9 373.5 L39.9 373.5 L40.9 373.5 L41.9 373.5 L42.9 373.5 L43.9 373.5 L44.9 373.5 L45.9 373.5 L46.9 373.4 L47.9 373.4 L48.9 373.4 L49.9 373.4 L50.9 373.4 L51.9 373.4 L52.9 373.4 L53.9 373.4 L54.9 373.4 L55.9 373.3 L56.9 373.3 L57.9 373.3 L58.9 373.3 L59.9 373.3 L60.9 373.3 L61.9 373.2 L62.9 373.2 L63.9 373.2 L64.9 373.2 L65.9 373.2 L66.9 373.1 L67.9 373.1 L68.9 373.1 L69.9 373.1 L70.9 373.0 L71.9 373.0 L72.9 373.0 L73.9 373.0 L74.9 372.9 L75.9 372.9 L76.9 372.9 L77.9 372.9 L78.9 372.8 L79.9 372.8 L80.9 372.8 L81.9 372.7 L82.9 372.7 L83.9 372.7 L84.9 372.6 L85.9 372.6 L86.9 372.6 L87.9 372.5 L88.9 372.5 L89.9 372.4 L90.9 372.4 L91.9 372.4 L92.9 372.3 L93.9 372.3 L94.9 372.2 L95.9 372.2 L96.9 372.2 L97.9 372.1 L98.9 372.1 L99.9 372.0 L100.9 372.0 L101.9 371.9 L102.9 371.9 L103.9 371.8 L104.9 371.8 L105.9 371.7 L106.9 371.7 L107.9 371.6 L108.9 371.6 L109.9 371.5 L110.9 371.5 L111.9 371.4 L112.9 371.4 L113.9 371.3 L114.9 371.2 L115.9 371.1 L116.9 371.0 L117.9 370.9 L118.9 370.8 L119.9 370.7 L120.9 370.5 L121.9 370.3 L122.9 370.1 L123.9 369.9 L124.9 369.7 L125.9 369.5 L126.9 369.2 L127.9 369.0 L128.9 368.7 L129.9 368.4 L130.9 368.1 L131.9 367.8 L132.9 367.5 L133.9 367.2 L134.9 366.8 L135.9 366.5 L136.9 366.1 L137.9 365.8 L138.9 365.4 L139.9 365.1 L140.9 364.7 L141.9 364.3 L142.9 363.9 L143.9 363.5 L144.9 363.1 L145.9 362.8 L146.9 362.4 L147.9 362.0 L148.9 361.6 L149.9 361.2 L150.9 360.8 L151.9 360.4 L152.9 360.0 L153.9 359.6 L154.9 359.2 L155.9 358.8 L156.9 358.5 L157.9 358.1 L158.9 357.7 L159.9 357.3 L160.9 356.9 L161.9 356.6 L162.9 356.2 L163.9 355.8 L164.9 355.4 L165.9 355.0 L166.9 354.6 L167.9 354.2 L168.9 353.8 L169.9 353.4 L170.9 353.0 L171.9 352.5 L172.9 352.1 L173.9 351.7 L174.9 351.2 L175.9 350.8 L176.9 350.3 L177.9 349.9 L178.9 349.4 L179.9 348.9 L180.9 348.4 L181.9 347.9 L182.9 347.4 L183.9 346.9 L184.9 346.4 L185.9 345.8 L186.9 345.3 L187.9 344.7 L188.9 344.1 L189.9 343.5 L190.9 342.9 L191.9 342.3 L192.9 341.6 L193.9 340.9 L194.9 340.3 L195.9 339.5 L196.9 338.8 L197.9 338.1 L198.9 337.3 L199.9 336.6 L200.9 335.8 L201.9 335.0 L202.9 334.3 L203.9 333.5 L204.9 332.7 L205.9 331.9 L206.9 331.1 L207.9 330.3 L208.9 329.6 L209.9 328.8 L210.9 328.0 L211.9 327.3 L212.9 326.5 L213.9 325.7 L214.9 325.0 L215.9 324.2 L216.9 323.5 L217.9 322.7 L218.9 322.0 L219.9 321.2 L220.9 320.4 L221.9 319.7 L222.9 318.9 L223.9 318.1 L224.9 317.3 L225.9 316.5 L226.9 315.6 L227.9 314.8 L228.9 313.9 L229.9 313.0 L230.9 312.1 L231.9 311.2 L232.9 310.2 L233.9 309.2 L234.9 308.2 L235.9 307.2 L236.9 306.1 L237.9 305.0 L238.9 303.9 L239.9 302.7 L240.9 301.5 L241.9 300.3 L242.9 299.0 L243.9 297.6 L244.9 296.2 L245.9 294.7 L246.9 293.2 L247.9 291.6 L248.9 289.9 L249.9 288.1 L250.9 286.3 L251.9 284.4 L252.9 282.5 L253.9 280.6 L254.9 278.6 L255.9 276.7 L256.9 274.7 L257.9 272.8 L258.9 270.8 L259.9 269.0 L260.9 267.1 L261.9 265.3 L262.9 263.6 L263.9 262.0 L264.9 260.4 L265.9 258.9 L266.9 257.6 L267.9 256.2 L268.9 255.0 L269.9 253.8 L270.9 252.7 L271.9 251.6 L272.9 250.6 L273.9 249.6 L274.9 248.5 L275.9 247.5 L276.9 246.6 L277.9 245.6 L278.9 244.7 L279.9 243.8 L280.9 242.9 L281.9 242.1 L282.9 241.3 L283.9 240.6 L284.9 239.9 L285.9 239.3 L286.9 238.7 L287.9 238.2 L288.9 237.8 L289.9 237.5 L290.9 237.2 L291.9 237.0 L292.9 236.9 L293.9 236.8 L294.9 236.8 L295.9 236.9 L296.9 237.0 L297.9 237.2 L298.9 237.4 L299.9 237.6 L300.9 237.9 L301.9 238.3 L302.9 238.7 L303.9 239.1 L304.9 239.5 L305.9 240.0 L306.9 240.5 L307.9 241.0 L308.9 241.6 L309.9 242.1 L310.9 242.7 L311.9 243.3 L312.9 244.0 L313.9 244.6 L314.9 245.2 L315.9 245.9 L316.9 246.6 L317.9 247.2 L318.9 247.9 L319.9 248.6 L320.9 249.3 L321.9 250.0 L322.9 250.6 L323.9 251.3 L324.9 252.0 L325.9 252.6 L326.9 253.3 L327.9 254.0 L328.9 254.6 L329.9 255.3 L330.9 256.0 L331.9 256.7 L332.9 257.5 L333.9 258.2 L334.9 258.9 L335.9 259.7 L336.9 260.5 L337.9 261.3 L338.9 262.2 L339.9 263.0 L340.9 263.9 L341.9 264.8 L342.9 265.8 L343.9 266.7 L344.9 267.7 L345.9 268.8 L346.9 269.8 L347.9 271.0 L348.9 272.1 L349.9 273.4 L350.9 274.7 L351.9 276.2 L352.9 277.7 L353.9 279.3 L354.9 281.0 L355.9 282.7 L356.9 284.4 L357.9 286.0 L358.9 287.6 L359.9 289.2 L360.9 290.6 L361.9 291.9 L362.9 293.2 L363.9 294.5 L364.9 295.6 L365.9 296.8 L366.9 297.9 L367.9 299.0 L368.9 300.0 L369.9 301.0 L370.9 302.0 L371.9 303.0 L372.9 304.0 L373.9 304.9 L374.9 305.8 L375.9 306.8 L376.9 307.7 L377.9 308.6 L378.9 309.5 L379.9 310.3 L380.9 311.2 L381.9 312.1 L382.9 313.0 L383.9 313.9 L384.9 314.8 L385.9 315.6 L386.9 316.5 L387.9 317.4 L388.9 318.3 L389.9 319.1 L390.9 320.0 L391.9 320.8 L392.9 321.7 L393.9 322.5 L394.9 323.4 L395.9 324.2 L396.9 325.0 L397.9 325.8 L398.9 326.6 L399.9 327.4 L400.9 328.1 L401.9 328.9 L402.9 329.6 L403.9 330.4 L404.9 331.1 L405.9 331.8 L406.9 332.5 L407.9 333.1 L408.9 333.8 L409.9 334.4 L410.9 335.1 L411.9 335.7 L412.9 336.3 L413.9 336.9 L414.9 337.4 L415.9 338.0 L416.9 338.5 L417.9 339.1 L418.9 339.6 L419.9 340.1 L420.9 340.7 L421.9 341.2 L422.9 341.7 L423.9 342.2 L424.9 342.7 L425.9 343.2 L426.9 343.7 L427.9 344.2 L428.9 344.7 L429.9 345.2 L430.9 345.7 L431.9 346.3 L432.9 346.8 L433.9 347.3 L434.9 347.8 L435.9 348.4 L436.9 348.9 L437.9 349.5 L438.9 350.0 L439.9 350.6 L440.9 351.1 L441.9 351.7 L442.9 352.3 L443.9 352.9 L444.9 353.4 L445.9 354.0 L446.9 354.6 L447.9 355.1 L448.9 355.7 L449.9 356.3 L450.9 356.8 L451.9 357.3 L452.9 357.9 L453.9 358.4 L454.9 358.9 L455.9 359.4 L456.9 359.8 L457.9 360.3 L458.9 360.7 L459.9 361.1 L460.9 361.5 L461.9 361.9 L462.9 362.3 L463.9 362.6 L464.9 362.9 L465.9 363.2 L466.9 363.5 L467.9 363.8 L468.9 364.0 L469.9 364.3 L470.9 364.6 L471.9 364.8 L472.9 365.0 L473.9 365.3 L474.9 365.5 L475.9 365.8 L476.9 366.0 L477.9 366.3 L478.9 366.5 L479.9 366.7 L480.9 366.9 L481.9 367.2 L482.9 367.4 L483.9 367.6 L484.9 367.8 L485.9 368.1 L486.9 368.3 L487.9 368.5 L488.9 368.7 L489.9 368.9 L490.9 369.1 L491.9 369.3 L492.9 369.5 L493.9 369.7 L494.9 369.8 L495.9 370.0 L496.9 370.2 L497.9 370.4 L498.9 370.5 L499.9 370.7 L500.9 370.9 L501.9 371.0 L502.9 371.2 L503.9 371.3 L504.9 371.4 L505.9 371.6 L506.9 371.7 L507.9 371.8 L508.9 371.9 L509.9 372.0 L510.9 372.2 L511.9 372.2 L512.9 372.3 L513.9 372.4 L514.9 372.5 L515.9 372.6 L516.9 372.7 L517.9 372.7 L518.9 372.8 L519.9 372.8 L520.9 372.9 L521.9 372.9 L522.9 372.9 L523.9 373.0 L524.9 373.0 L525.9 373.0 L526.9 373.0 L527.9 373.0 L528.9 373.0 L529.9 373.0 L530.9 373.0 L531.9 373.0 L532.9 373.0 L533.9 373.0 L534.9 373.0 L535.9 373.0 L536.9 373.0 L537.9 373.0 L538.9 373.0 L539.9 373.0 L540.9 373.0 L541.9 373.0 L542.9 373.0 L543.9 373.0 L544.9 373.0 L545.9 373.0" fill="none" stroke="#2a2eec" stroke-width="1.5" stroke-dasharray="5.55 2.4" clip-path="url(#cL2)"/>
<path d="M34.9 373.5 L35.9 373.5 L36.9 373.5 L37.9 373.5 L38.9 373.5 L39.9 373.5 L40.9 373.5 L41.9 373.5 L42.9 373.5 L43.9 373.5 L44.9 373.4 L45.9 373.4 L46.9 373.4 L47.9 373.4 L48.9 373.4 L49.9 373.4 L50.9 373.4 L51.9 373.4 L52.9 373.3 L53.9 373.3 L54.9 373.3 L55.9 373.3 L56.9 373.3 L57.9 373.2 L58.9 373.2 L59.9 373.2 L60.9 373.2 L61.9 373.2 L62.9 373.1 L63.9 373.1 L64.9 373.1 L65.9 373.1 L66.9 373.0 L67.9 373.0 L68.9 373.0 L69.9 372.9 L70.9 372.9 L71.9 372.9 L72.9 372.9 L73.9 372.8 L74.9 372.8 L75.9 372.8 L76.9 372.7 L77.9 372.7 L78.9 372.7 L79.9 372.6 L80.9 372.6 L81.9 372.5 L82.9 372.5 L83.9 372.5 L84.9 372.4 L85.9 372.4 L86.9 372.4 L87.9 372.3 L88.9 372.3 L89.9 372.2 L90.9 372.2 L91.9 372.1 L92.9 372.1 L93.9 372.1 L94.9 372.0 L95.9 372.0 L96.9 371.9 L97.9 371.9 L98.9 371.8 L99.9 371.8 L100.9 371.7 L101.9 371.7 L102.9 371.6 L103.9 371.5 L104.9 371.5 L105.9 371.4 L106.9 371.3 L107.9 371.2 L108.9 371.1 L109.9 371.0 L110.9 370.9 L111.9 370.8 L112.9 370.6 L113.9 370.5 L114.9 370.4 L115.9 370.3 L116.9 370.2 L117.9 370.0 L118.9 369.9 L119.9 369.8 L120.9 369.7 L121.9 369.6 L122.9 369.5 L123.9 369.4 L124.9 369.2 L125.9 369.1 L126.9 369.1 L127.9 369.0 L128.9 368.9 L129.9 368.8 L130.9 368.7 L131.9 368.6 L132.9 368.6 L133.9 368.5 L134.9 368.5 L135.9 368.4 L136.9 368.4 L137.9 368.3 L138.9 368.3 L139.9 368.2 L140.9 368.2 L141.9 368.1 L142.9 368.1 L143.9 368.0 L144.9 367.9 L145.9 367.9 L146.9 367.8 L147.9 367.7 L148.9 367.7 L149.9 367.6 L150.9 367.5 L151.9 367.4 L152.9 367.3 L153.9 367.1 L154.9 367.0 L155.9 366.8 L156.9 366.6 L157.9 366.4 L158.9 366.1 L159.9 365.8 L160.9 365.4 L161.9 365.1 L162.9 364.7 L163.9 364.2 L164.9 363.8 L165.9 363.3 L166.9 362.8 L167.9 362.3 L168.9 361.8 L169.9 361.3 L170.9 360.7 L171.9 360.1 L172.9 359.5 L173.9 358.9 L174.9 358.3 L175.9 357.5 L176.9 356.8 L177.9 356.0 L178.9 355.2 L179.9 354.3 L180.9 353.4 L181.9 352.5 L182.9 351.5 L183.9 350.5 L184.9 349.5 L185.9 348.5 L186.9 347.5 L187.9 346.5 L188.9 345.5 L189.9 344.5 L190.9 343.5 L191.9 342.5 L192.9 341.5 L193.9 340.5 L194.9 339.5 L195.9 338.5 L196.9 337.5 L197.9 336.5 L198.9 335.4 L199.9 334.4 L200.9 333.4 L201.9 332.3 L202.9 331.3 L203.9 330.3 L204.9 329.2 L205.9 328.2 L206.9 327.2 L207.9 326.2 L208.9 325.2 L209.9 324.2 L210.9 323.3 L211.9 322.3 L212.9 321.4 L213.9 320.5 L214.9 319.6 L215.9 318.8 L216.9 317.9 L217.9 317.1 L218.9 316.3 L219.9 315.5 L220.9 314.7 L221.9 313.9 L222.9 313.2 L223.9 312.4 L224.9 311.6 L225.9 310.8 L226.9 310.0 L227.9 309.1 L228.9 308.3 L229.9 307.4 L230.9 306.5 L231.9 305.5 L232.9 304.6 L233.9 303.6 L234.9 302.6 L235.9 301.6 L236.9 300.5 L237.9 299.5 L238.9 298.4 L239.9 297.3 L240.9 296.2 L241.9 295.1 L242.9 293.9 L243.9 292.7 L244.9 291.5 L245.9 290.3 L246.9 289.0 L247.9 287.7 L248.9 286.3 L249.9 284.9 L250.9 283.5 L251.9 282.1 L252.9 280.6 L253.9 279.2 L254.9 277.8 L255.9 276.3 L256.9 274.9 L257.9 273.5 L258.9 272.1 L259.9 270.8 L260.9 269.5 L261.9 268.3 L262.9 267.1 L263.9 266.0 L264.9 265.0 L265.9 264.0 L266.9 263.1 L267.9 262.3 L268.9 261.5 L269.9 260.8 L270.9 260.1 L271.9 259.4 L272.9 258.8 L273.9 258.2 L274.9 257.6 L275.9 257.0 L276.9 256.5 L277.9 255.9 L278.9 255.3 L279.9 254.8 L280.9 254.3 L281.9 253.8 L282.9 253.3 L283.9 252.8 L284.9 252.3 L285.9 251.9 L286.9 251.5 L287.9 251.1 L288.9 250.7 L289.9 250.3 L290.9 250.0 L291.9 249.7 L292.9 249.4 L293.9 249.1 L294.9 248.9 L295.9 248.7 L296.9 248.5 L297.9 248.4 L298.9 248.3 L299.9 248.2 L300.9 248.1 L301.9 248.1 L302.9 248.1 L303.9 248.2 L304.9 248.2 L305.9 248.3 L306.9 248.4 L307.9 248.5 L308.9 248.6 L309.9 248.8 L310.9 248.9 L311.9 249.1 L312.9 249.3 L313.9 249.6 L314.9 249.8 L315.9 250.1 L316.9 250.3 L317.9 250.6 L318.9 250.9 L319.9 251.2 L320.9 251.5 L321.9 251.9 L322.9 252.2 L323.9 252.6 L324.9 253.0 L325.9 253.4 L326.9 253.7 L327.9 254.2 L328.9 254.6 L329.9 255.0 L330.9 255.4 L331.9 255.9 L332.9 256.4 L333.9 256.9 L334.9 257.5 L335.9 258.2 L336.9 258.9 L337.9 259.7 L338.9 260.5 L339.9 261.5 L340.9 262.5 L341.9 263.5 L342.9 264.6 L343.9 265.7 L344.9 266.8 L345.9 268.0 L346.9 269.1 L347.9 270.2 L348.9 271.3 L349.9 272.3 L350.9 273.4 L351.9 274.3 L352.9 275.3 L353.9 276.3 L354.9 277.2 L355.9 278.1 L356.9 279.1 L357.9 280.0 L358.9 280.9 L359.9 281.8 L360.9 282.7 L361.9 283.6 L362.9 284.5 L363.9 285.4 L364.9 286.3 L365.9 287.1 L366.9 288.0 L367.9 288.9 L368.9 289.8 L369.9 290.6 L370.9 291.5 L371.9 292.4 L372.9 293.2 L373.9 294.1 L374.9 295.0 L375.9 295.8 L376.9 296.7 L377.9 297.6 L378.9 298.4 L379.9 299.3 L380.9 300.2 L381.9 301.0 L382.9 301.9 L383.9 302.8 L384.9 303.6 L385.9 304.5 L386.9 305.4 L387.9 306.3 L388.9 307.1 L389.9 308.0 L390.9 308.9 L391.9 309.8 L392.9 310.7 L393.9 311.6 L394.9 312.5 L395.9 313.5 L396.9 314.4 L397.9 315.3 L398.9 316.3 L399.9 317.2 L400.9 318.2 L401.9 319.1 L402.9 320.1 L403.9 321.1 L404.9 322.0 L405.9 323.0 L406.9 323.9 L407.9 324.9 L408.9 325.8 L409.9 326.8 L410.9 327.7 L411.9 328.7 L412.9 329.6 L413.9 330.5 L414.9 331.4 L415.9 332.3 L416.9 333.2 L417.9 334.0 L418.9 334.9 L419.9 335.7 L420.9 336.5 L421.9 337.3 L422.9 338.1 L423.9 338.8 L424.9 339.6 L425.9 340.3 L426.9 341.1 L427.9 341.8 L428.9 342.5 L429.9 343.2 L430.9 343.9 L431.9 344.6 L432.9 345.4 L433.9 346.1 L434.9 346.8 L435.9 347.5 L436.9 348.2 L437.9 348.9 L438.9 349.6 L439.9 350.3 L440.9 350.9 L441.9 351.6 L442.9 352.3 L443.9 352.9 L444.9 353.6 L445.9 354.2 L446.9 354.8 L447.9 355.4 L448.9 356.0 L449.9 356.6 L450.9 357.1 L451.9 357.7 L452.9 358.2 L453.9 358.7 L454.9 359.2 L455.9 359.7 L456.9 360.1 L457.9 360.6 L458.9 361.0 L459.9 361.4 L460.9 361.7 L461.9 362.1 L462.9 362.4 L463.9 362.7 L464.9 363.0 L465.9 363.2 L466.9 363.5 L467.9 363.7 L468.9 363.9 L469.9 364.1 L470.9 364.4 L471.9 364.6 L472.9 364.8 L473.9 365.0 L474.9 365.2 L475.9 365.4 L476.9 365.6 L477.9 365.8 L478.9 365.9 L479.9 366.1 L480.9 366.3 L481.9 366.5 L482.9 366.7 L483.9 366.9 L484.9 367.0 L485.9 367.2 L486.9 367.4 L487.9 367.6 L488.9 367.7 L489.9 367.9 L490.9 368.1 L491.9 368.2 L492.9 368.4 L493.9 368.6 L494.9 368.7 L495.9 368.9 L496.9 369.0 L497.9 369.2 L498.9 369.3 L499.9 369.5 L500.9 369.6 L501.9 369.7 L502.9 369.9 L503.9 370.0 L504.9 370.1 L505.9 370.3 L506.9 370.4 L507.9 370.5 L508.9 370.6 L509.9 370.8 L510.9 370.9 L511.9 371.0 L512.9 371.1 L513.9 371.2 L514.9 371.3 L515.9 371.4 L516.9 371.5 L517.9 371.6 L518.9 371.7 L519.9 371.8 L520.9 371.9 L521.9 372.0 L522.9 372.0 L523.9 372.1 L524.9 372.2 L525.9 372.3 L526.9 372.3 L527.9 372.4 L528.9 372.5 L529.9 372.5 L530.9 372.6 L531.9 372.6 L532.9 372.7 L533.9 372.7 L534.9 372.8 L535.9 372.8 L536.9 372.8 L537.9 372.9 L538.9 372.9 L539.9 372.9 L540.9 372.9 L541.9 373.0 L542.9 373.0 L543.9 373.0 L544.9 373.0 L545.9 373.0" fill="none" stroke="#2a2eec" stroke-width="1.5" stroke-dasharray="1.5 2.475" clip-path="url(#cL2)"/>
<path d="M34.9 373.5 L35.9 373.5 L36.9 373.5 L37.9 373.5 L38.9 373.5 L39.9 373.5 L40.9 373.5 L41.9 373.5 L42.9 373.5 L43.9 373.5 L44.9 373.4 L45.9 373.4 L46.9 373.4 L47.9 373.4 L48.9 373.4 L49.9 373.4 L50.9 373.4 L51.9 373.3 L52.9 373.3 L53.9 373.3 L54.9 373.3 L55.9 373.3 L56.9 373.2 L57.9 373.2 L58.9 373.2 L59.9 373.2 L60.9 373.1 L61.9 373.1 L62.9 373.1 L63.9 373.1 L64.9 373.0 L65.9 373.0 L66.9 373.0 L67.9 372.9 L68.9 372.9 L69.9 372.9 L70.9 372.8 L71.9 372.8 L72.9 372.8 L73.9 372.7 L74.9 372.7 L75.9 372.6 L76.9 372.6 L77.9 372.6 L78.9 372.5 L79.9 372.5 L80.9 372.4 L81.9 372.4 L82.9 372.4 L83.9 372.3 L84.9 372.3 L85.9 372.2 L86.9 372.2 L87.9 372.1 L88.9 372.1 L89.9 372.0 L90.9 372.0 L91.9 371.9 L92.9 371.9 L93.9 371.8 L94.9 371.8 L95.9 371.7 L96.9 371.7 L97.9 371.6 L98.9 371.5 L99.9 371.5 L100.9 371.4 L101.9 371.3 L102.9 371.3 L103.9 371.2 L104.9 371.1 L105.9 371.0 L106.9 370.9 L107.9 370.8 L108.9 370.7 L109.9 370.5 L110.9 370.4 L111.9 370.3 L112.9 370.1 L113.9 370.0 L114.9 369.8 L115.9 369.7 L116.9 369.5 L117.9 369.3 L118.9 369.1 L119.9 369.0 L120.9 368.8 L121.9 368.6 L122.9 368.4 L123.9 368.2 L124.9 368.0 L125.9 367.8 L126.9 367.5 L127.9 367.3 L128.9 367.1 L129.9 366.8 L130.9 366.6 L131.9 366.3 L132.9 366.0 L133.9 365.7 L134.9 365.4 L135.9 365.1 L136.9 364.7 L137.9 364.3 L138.9 364.0 L139.9 363.6 L140.9 363.1 L141.9 362.7 L142.9 362.3 L143.9 361.8 L144.9 361.4 L145.9 360.9 L146.9 360.5 L147.9 360.0 L148.9 359.5 L149.9 359.1 L150.9 358.6 L151.9 358.1 L152.9 357.6 L153.9 357.2 L154.9 356.7 L155.9 356.2 L156.9 355.7 L157.9 355.3 L158.9 354.8 L159.9 354.4 L160.9 353.9 L161.9 353.4 L162.9 353.0 L163.9 352.5 L164.9 352.1 L165.9 351.6 L166.9 351.2 L167.9 350.7 L168.9 350.2 L169.9 349.8 L170.9 349.3 L171.9 348.8 L172.9 348.4 L173.9 347.9 L174.9 347.4 L175.9 346.9 L176.9 346.4 L177.9 345.9 L178.9 345.4 L179.9 344.8 L180.9 344.3 L181.9 343.7 L182.9 343.2 L183.9 342.6 L184.9 342.1 L185.9 341.5 L186.9 340.9 L187.9 340.3 L188.9 339.6 L189.9 339.0 L190.9 338.4 L191.9 337.7 L192.9 337.0 L193.9 336.3 L194.9 335.6 L195.9 334.9 L196.9 334.2 L197.9 333.4 L198.9 332.7 L199.9 331.9 L200.9 331.1 L201.9 330.3 L202.9 329.4 L203.9 328.5 L204.9 327.7 L205.9 326.7 L206.9 325.8 L207.9 324.8 L208.9 323.8 L209.9 322.8 L210.9 321.7 L211.9 320.5 L212.9 319.3 L213.9 318.0 L214.9 316.7 L215.9 315.3 L216.9 314.0 L217.9 312.6 L218.9 311.2 L219.9 309.9 L220.9 308.6 L221.9 307.3 L222.9 306.1 L223.9 304.9 L224.9 303.7 L225.9 302.6 L226.9 301.5 L227.9 300.4 L228.9 299.3 L229.9 298.2 L230.9 297.1 L231.9 296.1 L232.9 295.1 L233.9 294.1 L234.9 293.0 L235.9 292.1 L236.9 291.1 L237.9 290.1 L238.9 289.2 L239.9 288.2 L240.9 287.3 L241.9 286.3 L242.9 285.4 L243.9 284.5 L244.9 283.6 L245.9 282.6 L246.9 281.6 L247.9 280.7 L248.9 279.7 L249.9 278.7 L250.9 277.7 L251.9 276.8 L252.9 275.8 L253.9 274.9 L254.9 274.1 L255.9 273.3 L256.9 272.7 L257.9 272.0 L258.9 271.5 L259.9 271.1 L260.9 270.8 L261.9 270.6 L262.9 270.5 L263.9 270.4 L264.9 270.4 L265.9 270.5 L266.9 270.6 L267.9 270.8 L268.9 270.9 L269.9 271.1 L270.9 271.4 L271.9 271.6 L272.9 271.8 L273.9 272.1 L274.9 272.4 L275.9 272.6 L276.9 272.9 L277.9 273.2 L278.9 273.4 L279.9 273.6 L280.9 273.9 L281.9 274.1 L282.9 274.3 L283.9 274.4 L284.9 274.6 L285.9 274.7 L286.9 274.7 L287.9 274.8 L288.9 274.7 L289.9 274.7 L290.9 274.5 L291.9 274.3 L292.9 274.1 L293.9 273.7 L294.9 273.4 L295.9 272.9 L296.9 272.5 L297.9 271.9 L298.9 271.4 L299.9 270.8 L300.9 270.2 L301.9 269.5 L302.9 268.9 L303.9 268.2 L304.9 267.5 L305.9 266.8 L306.9 266.1 L307.9 265.4 L308.9 264.7 L309.9 264.1 L310.9 263.4 L311.9 262.8 L312.9 262.2 L313.9 261.7 L314.9 261.1 L315.9 260.7 L316.9 260.2 L317.9 259.9 L318.9 259.6 L319.9 259.3 L320.9 259.1 L321.9 259.0 L322.9 258.9 L323.9 258.9 L324.9 259.0 L325.9 259.1 L326.9 259.3 L327.9 259.6 L328.9 259.9 L329.9 260.3 L330.9 260.7 L331.9 261.2 L332.9 261.7 L333.9 262.2 L334.9 262.8 L335.9 263.4 L336.9 264.1 L337.9 264.7 L338.9 265.5 L339.9 266.2 L340.9 266.9 L341.9 267.7 L342.9 268.5 L343.9 269.3 L344.9 270.1 L345.9 270.9 L346.9 271.7 L347.9 272.6 L348.9 273.4 L349.9 274.3 L350.9 275.2 L351.9 276.2 L352.9 277.2 L353.9 278.2 L354.9 279.3 L355.9 280.4 L356.9 281.4 L357.9 282.5 L358.9 283.6 L359.9 284.6 L360.9 285.5 L361.9 286.5 L362.9 287.4 L363.9 288.2 L364.9 289.1 L365.9 289.9 L366.9 290.7 L367.9 291.5 L368.9 292.3 L369.9 293.0 L370.9 293.8 L371.9 294.5 L372.9 295.3 L373.9 296.0 L374.9 296.7 L375.9 297.4 L376.9 298.1 L377.9 298.8 L378.9 299.5 L379.9 300.2 L380.9 300.9 L381.9 301.6 L382.9 302.3 L383.9 303.0 L384.9 303.7 L385.9 304.4 L386.9 305.1 L387.9 305.8 L388.9 306.6 L389.9 307.3 L390.9 308.1 L391.9 308.8 L392.9 309.6 L393.9 310.3 L394.9 311.1 L395.9 311.9 L396.9 312.6 L397.9 313.4 L398.9 314.2 L399.9 315.0 L400.9 315.7 L401.9 316.5 L402.9 317.3 L403.9 318.2 L404.9 319.0 L405.9 319.8 L406.9 320.7 L407.9 321.5 L408.9 322.4 L409.9 323.4 L410.9 324.3 L411.9 325.3 L412.9 326.3 L413.9 327.3 L414.9 328.4 L415.9 329.4 L416.9 330.5 L417.9 331.5 L418.9 332.5 L419.9 333.6 L420.9 334.6 L421.9 335.6 L422.9 336.5 L423.9 337.4 L424.9 338.3 L425.9 339.2 L426.9 340.0 L427.9 340.8 L428.9 341.6 L429.9 342.3 L430.9 343.1 L431.9 343.8 L432.9 344.5 L433.9 345.2 L434.9 345.9 L435.9 346.5 L436.9 347.2 L437.9 347.8 L438.9 348.5 L439.9 349.1 L440.9 349.7 L441.9 350.4 L442.9 351.0 L443.9 351.6 L444.9 352.3 L445.9 352.9 L446.9 353.5 L447.9 354.2 L448.9 354.8 L449.9 355.4 L450.9 356.1 L451.9 356.7 L452.9 357.3 L453.9 357.9 L454.9 358.5 L455.9 359.0 L456.9 359.6 L457.9 360.1 L458.9 360.6 L459.9 361.0 L460.9 361.5 L461.9 361.9 L462.9 362.2 L463.9 362.6 L464.9 362.9 L465.9 363.2 L466.9 363.5 L467.9 363.7 L468.9 363.9 L469.9 364.2 L470.9 364.4 L471.9 364.6 L472.9 364.8 L473.9 365.0 L474.9 365.2 L475.9 365.4 L476.9 365.6 L477.9 365.8 L478.9 366.0 L479.9 366.2 L480.9 366.4 L481.9 366.6 L482.9 366.8 L483.9 366.9 L484.9 367.1 L485.9 367.3 L486.9 367.5 L487.9 367.7 L488.9 367.8 L489.9 368.0 L490.9 368.2 L491.9 368.3 L492.9 368.5 L493.9 368.6 L494.9 368.8 L495.9 369.0 L496.9 369.1 L497.9 369.3 L498.9 369.4 L499.9 369.5 L500.9 369.7 L501.9 369.8 L502.9 370.0 L503.9 370.1 L504.9 370.2 L505.9 370.4 L506.9 370.5 L507.9 370.6 L508.9 370.7 L509.9 370.8 L510.9 370.9 L511.9 371.1 L512.9 371.2 L513.9 371.3 L514.9 371.4 L515.9 371.5 L516.9 371.6 L517.9 371.7 L518.9 371.7 L519.9 371.8 L520.9 371.9 L521.9 372.0 L522.9 372.1 L523.9 372.2 L524.9 372.2 L525.9 372.3 L526.9 372.4 L527.9 372.4 L528.9 372.5 L529.9 372.5 L530.9 372.6 L531.9 372.6 L532.9 372.7 L533.9 372.7 L534.9 372.8 L535.9 372.8 L536.9 372.8 L537.9 372.9 L538.9 372.9 L539.9 372.9 L540.9 372.9 L541.9 373.0 L542.9 373.0 L543.9 373.0 L544.9 373.0 L545.9 373.0" fill="none" stroke="#2a2eec" stroke-width="1.5" stroke-dasharray="9.6 2.4 1.5 2.4" clip-path="url(#cL2)"/>
<path d="M34.9 572.5 L35.9 572.6 L36.9 572.6 L37.9 572.7 L38.9 572.8 L39.9 572.9 L40.9 573.0 L41.9 573.1 L42.9 573.2 L43.9 573.3 L44.9 573.3 L45.9 573.4 L46.9 573.4 L47.9 573.4 L48.9 573.4 L49.9 573.4 L50.9 573.4 L51.9 573.4 L52.9 573.3 L53.9 573.3 L54.9 573.2 L55.9 573.1 L56.9 573.0 L57.9 572.8 L58.9 572.7 L59.9 572.5 L60.9 572.4 L61.9 572.2 L62.9 572.0 L63.9 571.8 L64.9 571.5 L65.9 571.3 L66.9 571.1 L67.9 570.8 L68.9 570.6 L69.9 570.3 L70.9 570.1 L71.9 569.8 L72.9 569.5 L73.9 569.2 L74.9 568.9 L75.9 568.6 L76.9 568.4 L77.9 568.1 L78.9 567.8 L79.9 567.5 L80.9 567.2 L81.9 566.9 L82.9 566.6 L83.9 566.2 L84.9 565.9 L85.9 565.6 L86.9 565.2 L87.9 564.9 L88.9 564.5 L89.9 564.1 L90.9 563.8 L91.9 563.4 L92.9 562.9 L93.9 562.5 L94.9 562.1 L95.9 561.6 L96.9 561.2 L97.9 560.7 L98.9 560.2 L99.9 559.7 L100.9 559.2 L101.9 558.7 L102.9 558.2 L103.9 557.6 L104.9 557.1 L105.9 556.5 L106.9 556.0 L107.9 555.4 L108.9 554.8 L109.9 554.2 L110.9 553.6 L111.9 552.9 L112.9 552.3 L113.9 551.7 L114.9 551.0 L115.9 550.3 L116.9 549.7 L117.9 549.0 L118.9 548.3 L119.9 547.5 L120.9 546.8 L121.9 546.1 L122.9 545.3 L123.9 544.5 L124.9 543.7 L125.9 542.9 L126.9 542.0 L127.9 541.1 L128.9 540.2 L129.9 539.2 L130.9 538.2 L131.9 537.1 L132.9 536.0 L133.9 534.8 L134.9 533.6 L135.9 532.4 L136.9 531.2 L137.9 529.9 L138.9 528.6 L139.9 527.3 L140.9 526.0 L141.9 524.6 L142.9 523.3 L143.9 521.9 L144.9 520.5 L145.9 519.1 L146.9 517.7 L147.9 516.3 L148.9 514.9 L149.9 513.4 L150.9 512.0 L151.9 510.5 L152.9 509.0 L153.9 507.4 L154.9 505.8 L155.9 504.2 L156.9 502.6 L157.9 501.0 L158.9 499.3 L159.9 497.7 L160.9 496.1 L161.9 494.4 L162.9 492.8 L163.9 491.2 L164.9 489.7 L165.9 488.1 L166.9 486.5 L167.9 485.0 L168.9 483.4 L169.9 481.9 L170.9 480.3 L171.9 478.7 L172.9 477.2 L173.9 475.7 L174.9 474.3 L175.9 472.9 L176.9 471.5 L177.9 470.3 L178.9 469.1 L179.9 468.1 L180.9 467.1 L181.9 466.2 L182.9 465.4 L183.9 464.7 L184.9 464.1 L185.9 463.5 L186.9 462.9 L187.9 462.4 L188.9 461.9 L189.9 461.5 L190.9 461.1 L191.9 460.7 L192.9 460.3 L193.9 460.0 L194.9 459.7 L195.9 459.4 L196.9 459.2 L197.9 458.9 L198.9 458.7 L199.9 458.6 L200.9 458.4 L201.9 458.3 L202.9 458.1 L203.9 458.0 L204.9 457.9 L205.9 457.8 L206.9 457.7 L207.9 457.7 L208.9 457.6 L209.9 457.5 L210.9 457.4 L211.9 457.3 L212.9 457.2 L213.9 457.1 L214.9 457.0 L215.9 456.9 L216.9 456.8 L217.9 456.6 L218.9 456.5 L219.9 456.3 L220.9 456.2 L221.9 456.0 L222.9 455.9 L223.9 455.7 L224.9 455.6 L225.9 455.4 L226.9 455.3 L227.9 455.1 L228.9 455.0 L229.9 454.9 L230.9 454.8 L231.9 454.7 L232.9 454.7 L233.9 454.6 L234.9 454.6 L235.9 454.7 L236.9 454.7 L237.9 454.8 L238.9 454.9 L239.9 455.0 L240.9 455.2 L241.9 455.4 L242.9 455.6 L243.9 455.8 L244.9 456.0 L245.9 456.3 L246.9 456.6 L247.9 456.8 L248.9 457.1 L249.9 457.4 L250.9 457.7 L251.9 458.1 L252.9 458.4 L253.9 458.8 L254.9 459.2 L255.9 459.6 L256.9 460.1 L257.9 460.5 L258.9 461.0 L259.9 461.5 L260.9 461.9 L261.9 462.4 L262.9 462.9 L263.9 463.4 L264.9 463.9 L265.9 464.4 L266.9 464.9 L267.9 465.4 L268.9 466.0 L269.9 466.5 L270.9 467.1 L271.9 467.7 L272.9 468.3 L273.9 468.9 L274.9 469.6 L275.9 470.2 L276.9 470.9 L277.9 471.5 L278.9 472.2 L279.9 472.9 L280.9 473.6 L281.9 474.3 L282.9 475.0 L283.9 475.8 L284.9 476.5 L285.9 477.3 L286.9 478.1 L287.9 478.9 L288.9 479.6 L289.9 480.5 L290.9 481.3 L291.9 482.1 L292.9 483.0 L293.9 483.8 L294.9 484.7 L295.9 485.6 L296.9 486.5 L297.9 487.5 L298.9 488.4 L299.9 489.4 L300.9 490.4 L301.9 491.4 L302.9 492.5 L303.9 493.5 L304.9 494.5 L305.9 495.6 L306.9 496.6 L307.9 497.7 L308.9 498.7 L309.9 499.8 L310.9 500.8 L311.9 501.9 L312.9 503.0 L313.9 504.0 L314.9 505.1 L315.9 506.2 L316.9 507.3 L317.9 508.4 L318.9 509.5 L319.9 510.6 L320.9 511.8 L321.9 512.9 L322.9 514.0 L323.9 515.1 L324.9 516.2 L325.9 517.3 L326.9 518.4 L327.9 519.5 L328.9 520.5 L329.9 521.6 L330.9 522.6 L331.9 523.6 L332.9 524.6 L333.9 525.5 L334.9 526.5 L335.9 527.4 L336.9 528.3 L337.9 529.2 L338.9 530.2 L339.9 531.1 L340.9 532.0 L341.9 532.8 L342.9 533.7 L343.9 534.6 L344.9 535.5 L345.9 536.3 L346.9 537.1 L347.9 538.0 L348.9 538.8 L349.9 539.6 L350.9 540.3 L351.9 541.1 L352.9 541.8 L353.9 542.6 L354.9 543.3 L355.9 543.9 L356.9 544.6 L357.9 545.2 L358.9 545.9 L359.9 546.5 L360.9 547.0 L361.9 547.6 L362.9 548.1 L363.9 548.7 L364.9 549.2 L365.9 549.7 L366.9 550.2 L367.9 550.6 L368.9 551.1 L369.9 551.5 L370.9 552.0 L371.9 552.4 L372.9 552.8 L373.9 553.2 L374.9 553.6 L375.9 554.0 L376.9 554.3 L377.9 554.7 L378.9 555.0 L379.9 555.4 L380.9 555.7 L381.9 556.0 L382.9 556.3 L383.9 556.6 L384.9 556.9 L385.9 557.3 L386.9 557.5 L387.9 557.8 L388.9 558.1 L389.9 558.4 L390.9 558.7 L391.9 559.0 L392.9 559.2 L393.9 559.5 L394.9 559.8 L395.9 560.0 L396.9 560.3 L397.9 560.5 L398.9 560.8 L399.9 561.0 L400.9 561.3 L401.9 561.5 L402.9 561.7 L403.9 562.0 L404.9 562.2 L405.9 562.4 L406.9 562.7 L407.9 562.9 L408.9 563.1 L409.9 563.3 L410.9 563.6 L411.9 563.8 L412.9 564.0 L413.9 564.2 L414.9 564.4 L415.9 564.7 L416.9 564.9 L417.9 565.1 L418.9 565.3 L419.9 565.5 L420.9 565.8 L421.9 566.0 L422.9 566.2 L423.9 566.5 L424.9 566.7 L425.9 566.9 L426.9 567.1 L427.9 567.4 L428.9 567.6 L429.9 567.8 L430.9 568.1 L431.9 568.3 L432.9 568.5 L433.9 568.7 L434.9 568.9 L435.9 569.2 L436.9 569.4 L437.9 569.6 L438.9 569.8 L439.9 570.0 L440.9 570.2 L441.9 570.4 L442.9 570.6 L443.9 570.7 L444.9 570.9 L445.9 571.1 L446.9 571.3 L447.9 571.4 L448.9 571.6 L449.9 571.7 L450.9 571.9 L451.9 572.0 L452.9 572.1 L453.9 572.3 L454.9 572.4 L455.9 572.5 L456.9 572.6 L457.9 572.6 L458.9 572.7 L459.9 572.8 L460.9 572.8 L461.9 572.9 L462.9 572.9 L463.9 573.0 L464.9 573.0 L465.9 573.0 L466.9 573.1 L467.9 573.1 L468.9 573.1 L469.9 573.1 L470.9 573.1 L471.9 573.1 L472.9 573.2 L473.9 573.2 L474.9 573.2 L475.9 573.2 L476.9 573.2 L477.9 573.3 L478.9 573.3 L479.9 573.3 L480.9 573.3 L481.9 573.3 L482.9 573.3 L483.9 573.3 L484.9 573.4 L485.9 573.4 L486.9 573.4 L487.9 573.4 L488.9 573.4 L489.9 573.4 L490.9 573.4 L491.9 573.5 L492.9 573.5 L493.9 573.5 L494.9 573.5 L495.9 573.5 L496.9 573.5 L497.9 573.5 L498.9 573.5 L499.9 573.6 L500.9 573.6 L501.9 573.6 L502.9 573.6 L503.9 573.6 L504.9 573.6 L505.9 573.6 L506.9 573.6 L507.9 573.6 L508.9 573.6 L509.9 573.6 L510.9 573.7 L511.9 573.7 L512.9 573.7 L513.9 573.7 L514.9 573.7 L515.9 573.7 L516.9 573.7 L517.9 573.7 L518.9 573.7 L519.9 573.7 L520.9 573.7 L521.9 573.7 L522.9 573.7 L523.9 573.7 L524.9 573.7 L525.9 573.8 L526.9 573.8 L527.9 573.8 L528.9 573.8 L529.9 573.8 L530.9 573.8 L531.9 573.8 L532.9 573.8 L533.9 573.8 L534.9 573.8 L535.9 573.8 L536.9 573.8 L537.9 573.8 L538.9 573.8 L539.9 573.8 L540.9 573.8 L541.9 573.8 L542.9 573.8 L543.9 573.8 L544.9 573.8 L545.9 573.8" fill="none" stroke="#2a2eec" stroke-width="1.5" clip-path="url(#cL3)"/>
<path d="M34.9 572.5 L35.9 572.6 L36.9 572.6 L37.9 572.7 L38.9 572.8 L39.9 572.9 L40.9 573.0 L41.9 573.1 L42.9 573.2 L43.9 573.3 L44.9 573.3 L45.9 573.4 L46.9 573.4 L47.9 573.4 L48.9 573.4 L49.9 573.4 L50.9 573.4 L51.9 573.4 L52.9 573.3 L53.9 573.3 L54.9 573.2 L55.9 573.1 L56.9 573.0 L57.9 572.9 L58.9 572.7 L59.9 572.6 L60.9 572.4 L61.9 572.2 L62.9 572.0 L63.9 571.8 L64.9 571.6 L65.9 571.4 L66.9 571.2 L67.9 570.9 L68.9 570.7 L69.9 570.4 L70.9 570.2 L71.9 569.9 L72.9 569.7 L73.9 569.4 L74.9 569.1 L75.9 568.8 L76.9 568.5 L77.9 568.2 L78.9 568.0 L79.9 567.7 L80.9 567.4 L81.9 567.1 L82.9 566.7 L83.9 566.4 L84.9 566.1 L85.9 565.8 L86.9 565.4 L87.9 565.0 L88.9 564.7 L89.9 564.3 L90.9 563.9 L91.9 563.4 L92.9 563.0 L93.9 562.5 L94.9 562.1 L95.9 561.6 L96.9 561.1 L97.9 560.6 L98.9 560.1 L99.9 559.6 L100.9 559.0 L101.9 558.5 L102.9 557.9 L103.9 557.3 L104.9 556.7 L105.9 556.1 L106.9 555.5 L107.9 554.9 L108.9 554.2 L109.9 553.6 L110.9 552.9 L111.9 552.3 L112.9 551.6 L113.9 550.9 L114.9 550.2 L115.9 549.5 L116.9 548.8 L117.9 548.0 L118.9 547.3 L119.9 546.5 L120.9 545.8 L121.9 545.0 L122.9 544.2 L123.9 543.4 L124.9 542.5 L125.9 541.7 L126.9 540.8 L127.9 539.8 L128.9 538.8 L129.9 537.8 L130.9 536.8 L131.9 535.7 L132.9 534.6 L133.9 533.4 L134.9 532.2 L135.9 531.0 L136.9 529.8 L137.9 528.5 L138.9 527.2 L139.9 525.9 L140.9 524.5 L141.9 523.2 L142.9 521.8 L143.9 520.4 L144.9 519.0 L145.9 517.6 L146.9 516.2 L147.9 514.8 L148.9 513.3 L149.9 511.8 L150.9 510.3 L151.9 508.8 L152.9 507.2 L153.9 505.6 L154.9 503.9 L155.9 502.2 L156.9 500.5 L157.9 498.8 L158.9 497.1 L159.9 495.3 L160.9 493.5 L161.9 491.8 L162.9 490.1 L163.9 488.3 L164.9 486.6 L165.9 484.9 L166.9 483.1 L167.9 481.4 L168.9 479.7 L169.9 477.9 L170.9 476.2 L171.9 474.5 L172.9 472.7 L173.9 471.0 L174.9 469.4 L175.9 467.7 L176.9 466.1 L177.9 464.6 L178.9 463.1 L179.9 461.7 L180.9 460.3 L181.9 459.0 L182.9 457.8 L183.9 456.5 L184.9 455.4 L185.9 454.2 L186.9 453.1 L187.9 451.9 L188.9 450.8 L189.9 449.7 L190.9 448.7 L191.9 447.6 L192.9 446.6 L193.9 445.7 L194.9 444.8 L195.9 443.9 L196.9 443.1 L197.9 442.4 L198.9 441.7 L199.9 441.1 L200.9 440.6 L201.9 440.2 L202.9 439.8 L203.9 439.6 L204.9 439.5 L205.9 439.4 L206.9 439.4 L207.9 439.5 L208.9 439.7 L209.9 439.9 L210.9 440.1 L211.9 440.4 L212.9 440.8 L213.9 441.1 L214.9 441.5 L215.9 441.9 L216.9 442.3 L217.9 442.7 L218.9 443.1 L219.9 443.4 L220.9 443.8 L221.9 444.1 L222.9 444.4 L223.9 444.6 L224.9 444.9 L225.9 445.1 L226.9 445.3 L227.9 445.5 L228.9 445.6 L229.9 445.8 L230.9 445.9 L231.9 446.1 L232.9 446.2 L233.9 446.4 L234.9 446.5 L235.9 446.6 L236.9 446.8 L237.9 446.9 L238.9 447.0 L239.9 447.2 L240.9 447.4 L241.9 447.5 L242.9 447.7 L243.9 447.9 L244.9 448.1 L245.9 448.3 L246.9 448.6 L247.9 448.8 L248.9 449.1 L249.9 449.5 L250.9 449.8 L251.9 450.2 L252.9 450.7 L253.9 451.1 L254.9 451.6 L255.9 452.2 L256.9 452.7 L257.9 453.3 L258.9 453.9 L259.9 454.6 L260.9 455.3 L261.9 456.0 L262.9 456.8 L263.9 457.6 L264.9 458.5 L265.9 459.4 L266.9 460.5 L267.9 461.6 L268.9 462.8 L269.9 464.0 L270.9 465.3 L271.9 466.7 L272.9 468.1 L273.9 469.5 L274.9 470.9 L275.9 472.3 L276.9 473.7 L277.9 475.1 L278.9 476.4 L279.9 477.7 L280.9 478.9 L281.9 480.1 L282.9 481.2 L283.9 482.3 L284.9 483.4 L285.9 484.5 L286.9 485.5 L287.9 486.5 L288.9 487.6 L289.9 488.6 L290.9 489.5 L291.9 490.5 L292.9 491.4 L293.9 492.4 L294.9 493.3 L295.9 494.2 L296.9 495.0 L297.9 495.9 L298.9 496.7 L299.9 497.5 L300.9 498.3 L301.9 499.1 L302.9 499.8 L303.9 500.6 L304.9 501.4 L305.9 502.1 L306.9 502.9 L307.9 503.7 L308.9 504.5 L309.9 505.3 L310.9 506.2 L311.9 507.1 L312.9 508.0 L313.9 508.9 L314.9 509.8 L315.9 510.8 L316.9 511.8 L317.9 512.7 L318.9 513.7 L319.9 514.8 L320.9 515.8 L321.9 516.8 L322.9 517.8 L323.9 518.9 L324.9 519.9 L325.9 520.9 L326.9 522.0 L327.9 523.0 L328.9 524.0 L329.9 525.1 L330.9 526.1 L331.9 527.1 L332.9 528.1 L333.9 529.1 L334.9 530.0 L335.9 531.0 L336.9 531.9 L337.9 532.8 L338.9 533.8 L339.9 534.7 L340.9 535.6 L341.9 536.5 L342.9 537.4 L343.9 538.3 L344.9 539.2 L345.9 540.1 L346.9 541.0 L347.9 541.9 L348.9 542.9 L349.9 543.8 L350.9 544.7 L351.9 545.6 L352.9 546.5 L353.9 547.4 L354.9 548.2 L355.9 549.1 L356.9 549.9 L357.9 550.7 L358.9 551.5 L359.9 552.3 L360.9 553.1 L361.9 553.8 L362.9 554.5 L363.9 555.2 L364.9 555.8 L365.9 556.4 L366.9 557.0 L367.9 557.5 L368.9 558.0 L369.9 558.4 L370.9 558.9 L371.9 559.2 L372.9 559.6 L373.9 559.9 L374.9 560.3 L375.9 560.6 L376.9 560.9 L377.9 561.2 L378.9 561.5 L379.9 561.7 L380.9 562.0 L381.9 562.3 L382.9 562.5 L383.9 562.8 L384.9 563.0 L385.9 563.2 L386.9 563.5 L387.9 563.7 L388.9 563.9 L389.9 564.1 L390.9 564.3 L391.9 564.5 L392.9 564.7 L393.9 564.9 L394.9 565.1 L395.9 565.3 L396.9 565.5 L397.9 565.6 L398.9 565.8 L399.9 566.0 L400.9 566.1 L401.9 566.3 L402.9 566.4 L403.9 566.6 L404.9 566.7 L405.9 566.9 L406.9 567.0 L407.9 567.2 L408.9 567.3 L409.9 567.4 L410.9 567.6 L411.9 567.7 L412.9 567.8 L413.9 567.9 L414.9 568.1 L415.9 568.2 L416.9 568.3 L417.9 568.4 L418.9 568.6 L419.9 568.7 L420.9 568.8 L421.9 568.9 L422.9 569.1 L423.9 569.2 L424.9 569.3 L425.9 569.4 L426.9 569.6 L427.9 569.7 L428.9 569.8 L429.9 569.9 L430.9 570.0 L431.9 570.2 L432.9 570.3 L433.9 570.4 L434.9 570.5 L435.9 570.6 L436.9 570.7 L437.9 570.9 L438.9 571.0 L439.9 571.1 L440.9 571.2 L441.9 571.3 L442.9 571.4 L443.9 571.5 L444.9 571.6 L445.9 571.7 L446.9 571.8 L447.9 571.9 L448.9 572.0 L449.9 572.1 L450.9 572.2 L451.9 572.3 L452.9 572.4 L453.9 572.5 L454.9 572.6 L455.9 572.7 L456.9 572.8 L457.9 572.9 L458.9 572.9 L459.9 573.0 L460.9 573.1 L461.9 573.2 L462.9 573.3 L463.9 573.3 L464.9 573.4 L465.9 573.5 L466.9 573.5 L467.9 573.6 L468.9 573.7 L469.9 573.7 L470.9 573.8 L471.9 573.8 L472.9 573.9 L473.9 573.9 L474.9 574.0 L475.9 574.0 L476.9 574.0 L477.9 574.1 L478.9 574.1 L479.9 574.1 L480.9 574.2 L481.9 574.2 L482.9 574.2 L483.9 574.2 L484.9 574.3 L485.9 574.3 L486.9 574.3 L487.9 574.3 L488.9 574.3 L489.9 574.3 L490.9 574.3 L491.9 574.3 L492.9 574.3 L493.9 574.3 L494.9 574.3 L495.9 574.3 L496.9 574.3 L497.9 574.3 L498.9 574.3 L499.9 574.3 L500.9 574.3 L501.9 574.3 L502.9 574.3 L503.9 574.3 L504.9 574.3 L505.9 574.3 L506.9 574.3 L507.9 574.3 L508.9 574.3 L509.9 574.3 L510.9 574.3 L511.9 574.3 L512.9 574.3 L513.9 574.3 L514.9 574.3 L515.9 574.2 L516.9 574.2 L517.9 574.2 L518.9 574.2 L519.9 574.2 L520.9 574.2 L521.9 574.2 L522.9 574.2 L523.9 574.2 L524.9 574.2 L525.9 574.2 L526.9 574.2 L527.9 574.1 L528.9 574.1 L529.9 574.1 L530.9 574.1 L531.9 574.1 L532.9 574.1 L533.9 574.1 L534.9 574.0 L535.9 574.0 L536.9 574.0 L537.9 574.0 L538.9 574.0 L539.9 573.9 L540.9 573.9 L541.9 573.9 L542.9 573.9 L543.9 573.9 L544.9 573.8 L545.9 573.8" fill="none" stroke="#2a2eec" stroke-width="1.5" stroke-dasharray="5.55 2.4" clip-path="url(#cL3)"/>
<path d="M34.9 572.3 L35.9 572.3 L36.9 572.3 L37.9 572.2 L38.9 572.2 L39.9 572.2 L40.9 572.2 L41.9 572.1 L42.9 572.1 L43.9 572.0 L44.9 572.0 L45.9 571.9 L46.9 571.9 L47.9 571.8 L48.9 571.7 L49.9 571.6 L50.9 571.6 L51.9 571.5 L52.9 571.4 L53.9 571.3 L54.9 571.2 L55.9 571.1 L56.9 571.0 L57.9 570.9 L58.9 570.7 L59.9 570.6 L60.9 570.5 L61.9 570.4 L62.9 570.2 L63.9 570.1 L64.9 569.9 L65.9 569.8 L66.9 569.7 L67.9 569.5 L68.9 569.3 L69.9 569.2 L70.9 569.0 L71.9 568.9 L72.9 568.7 L73.9 568.5 L74.9 568.3 L75.9 568.2 L76.9 568.0 L77.9 567.8 L78.9 567.6 L79.9 567.4 L80.9 567.2 L81.9 567.0 L82.9 566.8 L83.9 566.5 L84.9 566.2 L85.9 565.9 L86.9 565.6 L87.9 565.2 L88.9 564.9 L89.9 564.5 L90.9 564.0 L91.9 563.6 L92.9 563.1 L93.9 562.6 L94.9 562.0 L95.9 561.5 L96.9 560.9 L97.9 560.3 L98.9 559.7 L99.9 559.1 L100.9 558.4 L101.9 557.7 L102.9 557.1 L103.9 556.4 L104.9 555.7 L105.9 554.9 L106.9 554.2 L107.9 553.5 L108.9 552.7 L109.9 551.9 L110.9 551.2 L111.9 550.4 L112.9 549.6 L113.9 548.8 L114.9 548.0 L115.9 547.3 L116.9 546.5 L117.9 545.7 L118.9 544.8 L119.9 544.0 L120.9 543.2 L121.9 542.3 L122.9 541.4 L123.9 540.5 L124.9 539.6 L125.9 538.7 L126.9 537.7 L127.9 536.7 L128.9 535.7 L129.9 534.7 L130.9 533.6 L131.9 532.5 L132.9 531.4 L133.9 530.3 L134.9 529.2 L135.9 528.0 L136.9 526.8 L137.9 525.6 L138.9 524.4 L139.9 523.2 L140.9 521.9 L141.9 520.7 L142.9 519.4 L143.9 518.1 L144.9 516.8 L145.9 515.5 L146.9 514.1 L147.9 512.8 L148.9 511.4 L149.9 510.0 L150.9 508.5 L151.9 507.0 L152.9 505.5 L153.9 503.9 L154.9 502.3 L155.9 500.7 L156.9 499.0 L157.9 497.3 L158.9 495.6 L159.9 493.8 L160.9 492.1 L161.9 490.3 L162.9 488.5 L163.9 486.8 L164.9 485.0 L165.9 483.2 L166.9 481.5 L167.9 479.7 L168.9 477.9 L169.9 476.1 L170.9 474.2 L171.9 472.4 L172.9 470.6 L173.9 468.7 L174.9 467.0 L175.9 465.2 L176.9 463.5 L177.9 461.8 L178.9 460.2 L179.9 458.7 L180.9 457.2 L181.9 455.8 L182.9 454.4 L183.9 453.1 L184.9 451.8 L185.9 450.6 L186.9 449.3 L187.9 448.1 L188.9 446.9 L189.9 445.7 L190.9 444.6 L191.9 443.5 L192.9 442.5 L193.9 441.5 L194.9 440.6 L195.9 439.8 L196.9 439.1 L197.9 438.4 L198.9 437.9 L199.9 437.5 L200.9 437.2 L201.9 437.0 L202.9 437.0 L203.9 437.0 L204.9 437.1 L205.9 437.3 L206.9 437.6 L207.9 437.9 L208.9 438.3 L209.9 438.7 L210.9 439.2 L211.9 439.7 L212.9 440.3 L213.9 440.9 L214.9 441.6 L215.9 442.5 L216.9 443.4 L217.9 444.5 L218.9 445.7 L219.9 447.0 L220.9 448.3 L221.9 449.8 L222.9 451.3 L223.9 452.8 L224.9 454.2 L225.9 455.5 L226.9 456.8 L227.9 457.8 L228.9 458.7 L229.9 459.5 L230.9 460.0 L231.9 460.4 L232.9 460.6 L233.9 460.7 L234.9 460.7 L235.9 460.7 L236.9 460.6 L237.9 460.5 L238.9 460.4 L239.9 460.3 L240.9 460.1 L241.9 460.0 L242.9 459.9 L243.9 459.8 L244.9 459.7 L245.9 459.6 L246.9 459.5 L247.9 459.5 L248.9 459.5 L249.9 459.5 L250.9 459.5 L251.9 459.6 L252.9 459.6 L253.9 459.7 L254.9 459.8 L255.9 459.9 L256.9 460.0 L257.9 460.1 L258.9 460.3 L259.9 460.4 L260.9 460.6 L261.9 460.7 L262.9 460.9 L263.9 461.1 L264.9 461.4 L265.9 461.7 L266.9 462.0 L267.9 462.4 L268.9 462.9 L269.9 463.4 L270.9 463.9 L271.9 464.5 L272.9 465.1 L273.9 465.8 L274.9 466.5 L275.9 467.2 L276.9 467.9 L277.9 468.7 L278.9 469.4 L279.9 470.2 L280.9 471.0 L281.9 471.8 L282.9 472.7 L283.9 473.6 L284.9 474.5 L285.9 475.5 L286.9 476.4 L287.9 477.5 L288.9 478.5 L289.9 479.5 L290.9 480.6 L291.9 481.7 L292.9 482.7 L293.9 483.8 L294.9 484.8 L295.9 485.9 L296.9 486.9 L297.9 488.0 L298.9 489.0 L299.9 490.0 L300.9 491.0 L301.9 492.0 L302.9 493.1 L303.9 494.1 L304.9 495.1 L305.9 496.1 L306.9 497.1 L307.9 498.2 L308.9 499.2 L309.9 500.3 L310.9 501.3 L311.9 502.4 L312.9 503.5 L313.9 504.6 L314.9 505.7 L315.9 506.8 L316.9 507.9 L317.9 509.1 L318.9 510.2 L319.9 511.4 L320.9 512.5 L321.9 513.7 L322.9 514.8 L323.9 516.0 L324.9 517.1 L325.9 518.2 L326.9 519.4 L327.9 520.5 L328.9 521.6 L329.9 522.6 L330.9 523.7 L331.9 524.7 L332.9 525.7 L333.9 526.7 L334.9 527.7 L335.9 528.6 L336.9 529.5 L337.9 530.4 L338.9 531.2 L339.9 532.1 L340.9 532.9 L341.9 533.7 L342.9 534.5 L343.9 535.3 L344.9 536.0 L345.9 536.8 L346.9 537.6 L347.9 538.4 L348.9 539.1 L349.9 539.9 L350.9 540.6 L351.9 541.4 L352.9 542.1 L353.9 542.8 L354.9 543.6 L355.9 544.3 L356.9 545.0 L357.9 545.7 L358.9 546.4 L359.9 547.1 L360.9 547.8 L361.9 548.4 L362.9 549.1 L363.9 549.7 L364.9 550.4 L365.9 551.0 L366.9 551.6 L367.9 552.2 L368.9 552.8 L369.9 553.4 L370.9 554.0 L371.9 554.5 L372.9 555.1 L373.9 555.6 L374.9 556.1 L375.9 556.6 L376.9 557.1 L377.9 557.6 L378.9 558.0 L379.9 558.4 L380.9 558.9 L381.9 559.3 L382.9 559.6 L383.9 560.0 L384.9 560.4 L385.9 560.7 L386.9 561.0 L387.9 561.3 L388.9 561.6 L389.9 561.9 L390.9 562.1 L391.9 562.4 L392.9 562.6 L393.9 562.9 L394.9 563.1 L395.9 563.4 L396.9 563.6 L397.9 563.8 L398.9 564.1 L399.9 564.3 L400.9 564.5 L401.9 564.7 L402.9 565.0 L403.9 565.2 L404.9 565.4 L405.9 565.6 L406.9 565.8 L407.9 566.0 L408.9 566.3 L409.9 566.5 L410.9 566.7 L411.9 566.9 L412.9 567.1 L413.9 567.3 L414.9 567.5 L415.9 567.7 L416.9 567.8 L417.9 568.0 L418.9 568.2 L419.9 568.4 L420.9 568.6 L421.9 568.7 L422.9 568.9 L423.9 569.1 L424.9 569.2 L425.9 569.4 L426.9 569.6 L427.9 569.7 L428.9 569.9 L429.9 570.0 L430.9 570.2 L431.9 570.3 L432.9 570.5 L433.9 570.6 L434.9 570.7 L435.9 570.9 L436.9 571.0 L437.9 571.1 L438.9 571.2 L439.9 571.3 L440.9 571.5 L441.9 571.6 L442.9 571.7 L443.9 571.8 L444.9 571.9 L445.9 572.0 L446.9 572.1 L447.9 572.1 L448.9 572.2 L449.9 572.3 L450.9 572.4 L451.9 572.4 L452.9 572.5 L453.9 572.6 L454.9 572.6 L455.9 572.7 L456.9 572.7 L457.9 572.8 L458.9 572.8 L459.9 572.9 L460.9 572.9 L461.9 572.9 L462.9 573.0 L463.9 573.0 L464.9 573.0 L465.9 573.0 L466.9 573.1 L467.9 573.1 L468.9 573.1 L469.9 573.1 L470.9 573.1 L471.9 573.1 L472.9 573.2 L473.9 573.2 L474.9 573.2 L475.9 573.2 L476.9 573.2 L477.9 573.2 L478.9 573.3 L479.9 573.3 L480.9 573.3 L481.9 573.3 L482.9 573.3 L483.9 573.3 L484.9 573.3 L485.9 573.4 L486.9 573.4 L487.9 573.4 L488.9 573.4 L489.9 573.4 L490.9 573.4 L491.9 573.4 L492.9 573.5 L493.9 573.5 L494.9 573.5 L495.9 573.5 L496.9 573.5 L497.9 573.5 L498.9 573.5 L499.9 573.5 L500.9 573.5 L501.9 573.6 L502.9 573.6 L503.9 573.6 L504.9 573.6 L505.9 573.6 L506.9 573.6 L507.9 573.6 L508.9 573.6 L509.9 573.6 L510.9 573.6 L511.9 573.7 L512.9 573.7 L513.9 573.7 L514.9 573.7 L515.9 573.7 L516.9 573.7 L517.9 573.7 L518.9 573.7 L519.9 573.7 L520.9 573.7 L521.9 573.7 L522.9 573.7 L523.9 573.7 L524.9 573.7 L525.9 573.7 L526.9 573.8 L527.9 573.8 L528.9 573.8 L529.9 573.8 L530.9 573.8 L531.9 573.8 L532.9 573.8 L533.9 573.8 L534.9 573.8 L535.9 573.8 L536.9 573.8 L537.9 573.8 L538.9 573.8 L539.9 573.8 L540.9 573.8 L541.9 573.8 L542.9 573.8 L543.9 573.8 L544.9 573.8 L545.9 573.8" fill="none" stroke="#2a2eec" stroke-width="1.5" stroke-dasharray="1.5 2.475" clip-path="url(#cL3)"/>
<path d="M34.9 572.3 L35.9 572.3 L36.9 572.3 L37.9 572.2 L38.9 572.2 L39.9 572.2 L40.9 572.2 L41.9 572.1 L42.9 572.1 L43.9 572.0 L44.9 572.0 L45.9 571.9 L46.9 571.8 L47.9 571.7 L48.9 571.7 L49.9 571.6 L50.9 571.5 L51.9 571.4 L52.9 571.3 L53.9 571.2 L54.9 571.1 L55.9 570.9 L56.9 570.8 L57.9 570.7 L58.9 570.6 L59.9 570.4 L60.9 570.3 L61.9 570.1 L62.9 570.0 L63.9 569.8 L64.9 569.7 L65.9 569.5 L66.9 569.4 L67.9 569.2 L68.9 569.0 L69.9 568.8 L70.9 568.7 L71.9 568.5 L72.9 568.3 L73.9 568.1 L74.9 567.9 L75.9 567.7 L76.9 567.6 L77.9 567.4 L78.9 567.2 L79.9 566.9 L80.9 566.7 L81.9 566.5 L82.9 566.3 L83.9 566.0 L84.9 565.7 L85.9 565.4 L86.9 565.1 L87.9 564.7 L88.9 564.3 L89.9 563.9 L90.9 563.5 L91.9 563.1 L92.9 562.6 L93.9 562.1 L94.9 561.6 L95.9 561.1 L96.9 560.6 L97.9 560.1 L98.9 559.5 L99.9 558.9 L100.9 558.4 L101.9 557.8 L102.9 557.2 L103.9 556.6 L104.9 556.0 L105.9 555.4 L106.9 554.8 L107.9 554.3 L108.9 553.7 L109.9 553.1 L110.9 552.5 L111.9 551.8 L112.9 551.2 L113.9 550.6 L114.9 550.0 L115.9 549.3 L116.9 548.6 L117.9 547.9 L118.9 547.2 L119.9 546.5 L120.9 545.7 L121.9 544.9 L122.9 544.0 L123.9 543.0 L124.9 542.0 L125.9 541.0 L126.9 539.8 L127.9 538.6 L128.9 537.3 L129.9 535.9 L130.9 534.5 L131.9 532.9 L132.9 531.4 L133.9 529.8 L134.9 528.2 L135.9 526.6 L136.9 525.0 L137.9 523.4 L138.9 521.8 L139.9 520.2 L140.9 518.7 L141.9 517.1 L142.9 515.5 L143.9 513.9 L144.9 512.3 L145.9 510.8 L146.9 509.2 L147.9 507.8 L148.9 506.3 L149.9 505.0 L150.9 503.7 L151.9 502.4 L152.9 501.3 L153.9 500.1 L154.9 499.1 L155.9 498.0 L156.9 497.1 L157.9 496.1 L158.9 495.2 L159.9 494.3 L160.9 493.4 L161.9 492.5 L162.9 491.7 L163.9 490.9 L164.9 490.0 L165.9 489.2 L166.9 488.4 L167.9 487.6 L168.9 486.9 L169.9 486.1 L170.9 485.4 L171.9 484.6 L172.9 483.9 L173.9 483.2 L174.9 482.4 L175.9 481.7 L176.9 480.9 L177.9 480.1 L178.9 479.3 L179.9 478.4 L180.9 477.5 L181.9 476.5 L182.9 475.5 L183.9 474.4 L184.9 473.4 L185.9 472.3 L186.9 471.1 L187.9 469.9 L188.9 468.8 L189.9 467.5 L190.9 466.3 L191.9 465.1 L192.9 463.9 L193.9 462.7 L194.9 461.5 L195.9 460.2 L196.9 459.0 L197.9 457.8 L198.9 456.6 L199.9 455.4 L200.9 454.1 L201.9 452.8 L202.9 451.5 L203.9 450.2 L204.9 448.9 L205.9 447.6 L206.9 446.4 L207.9 445.2 L208.9 444.2 L209.9 443.3 L210.9 442.5 L211.9 442.0 L212.9 441.5 L213.9 441.2 L214.9 441.0 L215.9 441.0 L216.9 441.0 L217.9 441.0 L218.9 441.2 L219.9 441.3 L220.9 441.5 L221.9 441.7 L222.9 441.9 L223.9 442.1 L224.9 442.3 L225.9 442.6 L226.9 442.8 L227.9 443.0 L228.9 443.2 L229.9 443.5 L230.9 443.7 L231.9 443.9 L232.9 444.1 L233.9 444.3 L234.9 444.4 L235.9 444.6 L236.9 444.8 L237.9 445.0 L238.9 445.1 L239.9 445.3 L240.9 445.5 L241.9 445.7 L242.9 445.9 L243.9 446.1 L244.9 446.3 L245.9 446.5 L246.9 446.8 L247.9 447.1 L248.9 447.3 L249.9 447.7 L250.9 448.0 L251.9 448.4 L252.9 448.9 L253.9 449.4 L254.9 450.0 L255.9 450.6 L256.9 451.3 L257.9 452.0 L258.9 452.8 L259.9 453.6 L260.9 454.5 L261.9 455.4 L262.9 456.3 L263.9 457.3 L264.9 458.3 L265.9 459.3 L266.9 460.4 L267.9 461.5 L268.9 462.6 L269.9 463.9 L270.9 465.1 L271.9 466.5 L272.9 467.9 L273.9 469.3 L274.9 470.7 L275.9 472.1 L276.9 473.6 L277.9 474.9 L278.9 476.3 L279.9 477.6 L280.9 478.9 L281.9 480.1 L282.9 481.2 L283.9 482.4 L284.9 483.5 L285.9 484.6 L286.9 485.6 L287.9 486.6 L288.9 487.6 L289.9 488.6 L290.9 489.6 L291.9 490.6 L292.9 491.5 L293.9 492.4 L294.9 493.3 L295.9 494.2 L296.9 495.0 L297.9 495.9 L298.9 496.7 L299.9 497.5 L300.9 498.2 L301.9 499.0 L302.9 499.7 L303.9 500.5 L304.9 501.2 L305.9 501.9 L306.9 502.7 L307.9 503.5 L308.9 504.2 L309.9 505.0 L310.9 505.9 L311.9 506.7 L312.9 507.6 L313.9 508.5 L314.9 509.5 L315.9 510.4 L316.9 511.4 L317.9 512.4 L318.9 513.4 L319.9 514.4 L320.9 515.4 L321.9 516.5 L322.9 517.5 L323.9 518.5 L324.9 519.6 L325.9 520.6 L326.9 521.6 L327.9 522.6 L328.9 523.6 L329.9 524.6 L330.9 525.5 L331.9 526.5 L332.9 527.4 L333.9 528.3 L334.9 529.1 L335.9 530.0 L336.9 530.8 L337.9 531.6 L338.9 532.3 L339.9 533.1 L340.9 533.8 L341.9 534.5 L342.9 535.2 L343.9 535.8 L344.9 536.5 L345.9 537.2 L346.9 537.8 L347.9 538.5 L348.9 539.2 L349.9 539.8 L350.9 540.5 L351.9 541.1 L352.9 541.8 L353.9 542.4 L354.9 543.1 L355.9 543.7 L356.9 544.3 L357.9 545.0 L358.9 545.6 L359.9 546.2 L360.9 546.8 L361.9 547.4 L362.9 548.0 L363.9 548.6 L364.9 549.2 L365.9 549.8 L366.9 550.3 L367.9 550.9 L368.9 551.5 L369.9 552.0 L370.9 552.6 L371.9 553.1 L372.9 553.6 L373.9 554.2 L374.9 554.7 L375.9 555.2 L376.9 555.7 L377.9 556.2 L378.9 556.7 L379.9 557.1 L380.9 557.6 L381.9 558.1 L382.9 558.5 L383.9 558.9 L384.9 559.4 L385.9 559.8 L386.9 560.2 L387.9 560.6 L388.9 561.0 L389.9 561.4 L390.9 561.7 L391.9 562.1 L392.9 562.4 L393.9 562.8 L394.9 563.1 L395.9 563.4 L396.9 563.7 L397.9 564.0 L398.9 564.3 L399.9 564.5 L400.9 564.8 L401.9 565.0 L402.9 565.2 L403.9 565.5 L404.9 565.7 L405.9 565.9 L406.9 566.1 L407.9 566.3 L408.9 566.5 L409.9 566.7 L410.9 566.8 L411.9 567.0 L412.9 567.2 L413.9 567.4 L414.9 567.6 L415.9 567.8 L416.9 567.9 L417.9 568.1 L418.9 568.3 L419.9 568.5 L420.9 568.6 L421.9 568.8 L422.9 568.9 L423.9 569.1 L424.9 569.3 L425.9 569.4 L426.9 569.6 L427.9 569.7 L428.9 569.9 L429.9 570.0 L430.9 570.2 L431.9 570.3 L432.9 570.4 L433.9 570.6 L434.9 570.7 L435.9 570.8 L436.9 571.0 L437.9 571.1 L438.9 571.2 L439.9 571.3 L440.9 571.4 L441.9 571.5 L442.9 571.6 L443.9 571.7 L444.9 571.8 L445.9 571.9 L446.9 572.0 L447.9 572.1 L448.9 572.2 L449.9 572.3 L450.9 572.4 L451.9 572.4 L452.9 572.5 L453.9 572.6 L454.9 572.6 L455.9 572.7 L456.9 572.7 L457.9 572.8 L458.9 572.8 L459.9 572.9 L460.9 572.9 L461.9 572.9 L462.9 573.0 L463.9 573.0 L464.9 573.0 L465.9 573.0 L466.9 573.1 L467.9 573.1 L468.9 573.1 L469.9 573.1 L470.9 573.1 L471.9 573.1 L472.9 573.2 L473.9 573.2 L474.9 573.2 L475.9 573.2 L476.9 573.2 L477.9 573.2 L478.9 573.3 L479.9 573.3 L480.9 573.3 L481.9 573.3 L482.9 573.3 L483.9 573.3 L484.9 573.3 L485.9 573.4 L486.9 573.4 L487.9 573.4 L488.9 573.4 L489.9 573.4 L490.9 573.4 L491.9 573.4 L492.9 573.5 L493.9 573.5 L494.9 573.5 L495.9 573.5 L496.9 573.5 L497.9 573.5 L498.9 573.5 L499.9 573.5 L500.9 573.5 L501.9 573.6 L502.9 573.6 L503.9 573.6 L504.9 573.6 L505.9 573.6 L506.9 573.6 L507.9 573.6 L508.9 573.6 L509.9 573.6 L510.9 573.6 L511.9 573.7 L512.9 573.7 L513.9 573.7 L514.9 573.7 L515.9 573.7 L516.9 573.7 L517.9 573.7 L518.9 573.7 L519.9 573.7 L520.9 573.7 L521.9 573.7 L522.9 573.7 L523.9 573.7 L524.9 573.7 L525.9 573.7 L526.9 573.8 L527.9 573.8 L528.9 573.8 L529.9 573.8 L530.9 573.8 L531.9 573.8 L532.9 573.8 L533.9 573.8 L534.9 573.8 L535.9 573.8 L536.9 573.8 L537.9 573.8 L538.9 573.8 L539.9 573.8 L540.9 573.8 L541.9 573.8 L542.9 573.8 L543.9 573.8 L544.9 573.8 L545.9 573.8" fill="none" stroke="#2a2eec" stroke-width="1.5" stroke-dasharray="9.6 2.4 1.5 2.4" clip-path="url(#cL3)"/>
<path d="M641.0 129.6 641.6 83.1 642.1 120.1 642.7 109.5 643.2 106.3 643.8 117.8 644.4 128.7 644.9 93.8 645.5 98.8 646.1 138.8 646.6 64.4 647.2 88.2 647.7 118.1 648.3 89.4 648.9 113.1 649.4 106.1 650.0 91.3 650.5 126.7 651.1 95.0 651.7 80.8 652.2 82.1 652.8 110.2 653.4 89.4 653.9 133.1 654.5 107.7 655.0 97.2 655.6 128.3 656.2 106.4 656.7 75.1 657.3 59.7 657.8 91.5 658.4 90.7 659.0 121.6 659.5 125.9 660.1 129.4 660.7 95.6 661.2 92.0 661.8 116.4 662.3 126.3 662.9 100.5 663.5 99.6 664.0 107.3 664.6 83.0 665.1 106.6 665.7 106.1 666.3 124.2 666.8 102.6 667.4 81.7 668.0 103.9 668.5 103.8 669.1 97.5 669.6 100.2 670.2 95.8 670.8 95.7 671.3 94.3 671.9 118.8 672.4 99.8 673.0 132.7 673.6 100.4 674.1 126.8 674.7 106.2 675.3 96.8 675.8 112.2 676.4 103.3 676.9 133.4 677.5 119.8 678.1 93.1 678.6 125.0 679.2 93.7 679.8 129.0 680.3 120.7 680.9 124.0 681.4 104.9 682.0 95.8 682.6 123.4 683.1 108.1 683.7 76.9 684.2 110.5 684.8 119.1 685.4 98.3 685.9 108.9 686.5 117.1 687.1 136.1 687.6 90.8 688.2 114.9 688.7 105.0 689.3 123.4 689.9 82.5 690.4 92.1 691.0 88.0 691.5 106.9 692.1 96.9 692.7 89.6 693.2 87.3 693.8 99.6 694.4 106.1 694.9 111.2 695.5 118.0 696.0 121.7 696.6 98.8 697.2 109.2 697.7 139.5 698.3 107.7 698.8 86.6 699.4 109.8 700.0 137.1 700.5 107.2 701.1 91.4 701.7 101.5 702.2 112.4 702.8 73.0 703.3 72.1 703.9 106.7 704.5 90.9 705.0 98.2 705.6 91.5 706.1 79.8 706.7 90.8 707.3 103.5 707.8 116.3 708.4 119.1 709.0 105.4 709.5 85.0 710.1 99.8 710.6 104.1 711.2 100.5 711.8 104.4 712.3 95.5 712.9 124.4 713.4 139.2 714.0 112.4 714.6 124.9 715.1 77.0 715.7 107.7 716.3 109.4 716.8 131.6 717.4 100.1 717.9 115.8 718.5 85.6 719.1 90.4 719.6 118.4 720.2 97.9 720.7 152.1 721.3 116.7 721.9 83.4 722.4 91.3 723.0 102.0 723.6 105.5 724.1 129.6 724.7 128.5 725.2 101.1 725.8 74.5 726.4 142.6 726.9 94.1 727.5 94.6 728.0 88.5 728.6 120.0 729.2 114.2 729.7 104.2 730.3 122.8 730.9 126.3 731.4 120.3 732.0 106.2 732.5 98.5 733.1 105.4 733.7 103.7 734.2 116.8 734.8 117.5 735.3 85.6 735.9 105.9 736.5 106.4 737.0 88.8 737.6 83.6 738.2 83.0 738.7 98.0 739.3 105.9 739.8 100.0 740.4 101.9 741.0 80.8 741.5 99.9 742.1 94.0 742.6 105.5 743.2 81.3 743.8 140.5 744.3 98.4 744.9 91.9 745.5 125.1 746.0 67.8 746.6 107.6 747.1 107.8 747.7 123.7 748.3 89.8 748.8 101.1 749.4 115.2 750.0 101.1 750.5 93.1 751.1 84.0 751.6 101.3 752.2 121.7 752.8 114.6 753.3 144.8 753.9 117.7 754.4 92.3 755.0 96.9 755.6 106.9 756.1 110.9 756.7 77.6 757.3 100.1 757.8 89.3 758.4 98.2 758.9 116.6 759.5 78.1 760.1 126.4 760.6 125.7 761.2 112.4 761.7 117.6 762.3 114.6 762.9 115.4 763.4 87.9 764.0 104.1 764.6 98.9 765.1 132.5 765.7 119.7 766.2 86.2 766.8 125.8 767.4 84.6 767.9 122.8 768.5 99.8 769.0 119.6 769.6 101.6 770.2 120.6 770.7 109.4 771.3 76.1 771.9 111.5 772.4 69.7 773.0 112.9 773.5 125.3 774.1 103.7 774.7 112.1 775.2 74.6 775.8 90.1 776.3 84.6 776.9 94.1 777.5 62.2 778.0 91.3 778.6 95.8 779.2 119.4 779.7 120.7 780.3 101.8 780.8 87.7 781.4 85.7 782.0 121.3 782.5 95.8 783.1 101.7 783.6 124.4 784.2 96.1 784.8 144.3 785.3 100.4 785.9 62.2 786.5 122.7 787.0 104.7 787.6 137.8 788.1 118.1 788.7 91.9 789.3 123.0 789.8 105.6 790.4 111.1 790.9 111.5 791.5 101.7 792.1 96.6 792.6 83.7 793.2 90.6 793.8 114.8 794.3 80.5 794.9 83.4 795.4 132.0 796.0 93.5 796.6 90.7 797.1 88.3 797.7 95.5 798.2 127.5 798.8 109.6 799.4 140.8 799.9 107.7 800.5 69.9 801.1 93.2 801.6 90.5 802.2 113.9 802.7 122.6 803.3 123.5 803.9 102.9 804.4 118.9 805.0 116.0 805.5 85.2 806.1 133.4 806.7 127.7 807.2 113.8 807.8 106.7 808.4 107.2 808.9 129.2 809.5 101.6 810.0 107.2 810.6 98.9 811.2 123.7 811.7 100.8 812.3 101.2 812.8 116.4 813.4 108.8 814.0 114.6 814.5 81.5 815.1 159.0 815.7 130.1 816.2 134.5 816.8 111.5 817.3 116.7 817.9 112.1 818.5 92.6 819.0 133.3 819.6 119.6 820.2 108.9 820.7 125.8 821.3 98.6 821.8 99.3 822.4 117.3 823.0 135.7 823.5 77.3 824.1 96.8 824.6 97.7 825.2 103.7 825.8 105.1 826.3 90.6 826.9 105.3 827.5 115.9 828.0 92.7 828.6 104.0 829.1 118.4 829.7 120.7 830.3 84.8 830.8 94.1 831.4 70.8 831.9 114.1 832.5 117.9 833.1 98.0 833.6 81.1 834.2 94.7 834.8 97.5 835.3 72.3 835.9 117.9 836.4 126.6 837.0 117.9 837.6 110.5 838.1 98.5 838.7 87.3 839.2 98.0 839.8 78.6 840.4 119.3 840.9 72.0 841.5 119.1 842.1 84.7 842.6 121.2 843.2 99.1 843.7 104.1 844.3 96.0 844.9 92.0 845.4 108.7 846.0 106.2 846.5 100.9 847.1 127.6 847.7 117.7 848.2 133.1 848.8 104.9 849.4 66.5 849.9 92.2 850.5 120.0 851.0 117.2 851.6 88.1 852.2 113.2 852.7 132.8 853.3 122.7 853.8 123.2 854.4 122.7 855.0 93.3 855.5 103.8 856.1 130.8 856.7 114.3 857.2 124.7 857.8 125.9 858.3 131.1 858.9 74.8 859.5 110.3 860.0 95.0 860.6 90.0 861.1 111.7 861.7 95.7 862.3 95.6 862.8 101.1 863.4 67.5 864.0 100.1 864.5 109.0 865.1 93.8 865.6 74.2 866.2 87.8 866.8 113.3 867.3 119.9 867.9 121.1 868.4 116.5 869.0 98.3 869.6 90.4 870.1 144.3 870.7 105.3 871.3 124.1 871.8 93.2 872.4 89.2 872.9 118.5 873.5 112.8 874.1 121.5 874.6 98.2 875.2 132.9 875.7 124.5 876.3 116.8 876.9 83.8 877.4 63.4 878.0 104.7 878.6 126.3 879.1 103.7 879.7 120.0 880.2 97.0 880.8 124.3 881.4 111.4 881.9 105.2 882.5 96.0 883.0 106.3 883.6 83.1 884.2 102.8 884.7 136.4 885.3 89.0 885.9 110.0 886.4 116.6 887.0 78.9 887.5 122.2 888.1 103.7 888.7 117.3 889.2 81.6 889.8 111.3 890.4 100.9 890.9 129.1 891.5 80.2 892.0 123.5 892.6 89.2 893.2 85.7 893.7 83.7 894.3 73.6 894.8 125.3 895.4 98.0 896.0 102.6 896.5 97.7 897.1 86.0 897.7 103.1 898.2 119.1 898.8 106.7 899.3 78.4 899.9 125.4 900.5 103.6 901.0 122.0 901.6 85.8 902.1 133.5 902.7 110.9 903.3 107.1 903.8 103.0 904.4 64.1 905.0 78.1 905.5 122.8 906.1 67.6 906.6 125.6 907.2 137.4 907.8 130.9 908.3 101.5 908.9 95.7 909.4 143.3 910.0 97.5 910.6 109.6 911.1 92.8 911.7 111.7 912.3 89.4 912.8 95.2 913.4 125.3 913.9 80.0 914.5 101.3 915.1 92.4 915.6 83.2 916.2 121.9 916.7 106.5 917.3 119.2 917.9 121.3 918.4 100.4 919.0 99.1 919.6 82.0 920.1 81.0 920.7 105.4 921.2 119.5 921.8 49.6 922.4 67.8 922.9 106.8 923.5 121.1 924.0 112.3 924.6 100.1 925.2 85.4 925.7 88.2 926.3 97.5 926.9 109.3 927.4 102.1 928.0 110.4 928.5 103.8 929.1 106.8 929.7 95.9 930.2 137.6 930.8 111.0 931.3 110.0 931.9 124.6 932.5 108.0 933.0 123.2 933.6 116.5 934.2 110.0 934.7 109.4 935.3 114.9 935.8 85.9 936.4 101.5 937.0 99.4 937.5 101.0 938.1 116.6 938.6 120.3 939.2 90.5 939.8 111.1 940.3 135.7 940.9 143.1 941.5 101.2 942.0 117.8 942.6 106.2 943.1 114.5 943.7 112.1 944.3 108.0 944.8 126.6 945.4 105.3 945.9 87.9 946.5 93.0 947.1 135.1 947.6 128.2 948.2 128.1 948.8 109.3 949.3 90.2 949.9 99.4 950.4 135.4 951.0 104.1 951.6 91.0 952.1 112.8 952.7 72.0 953.2 116.3 953.8 84.7 954.4 64.3 954.9 127.1 955.5 110.6 956.1 95.1 956.6 49.4 957.2 136.0 957.7 95.2 958.3 100.1 958.9 112.3 959.4 119.4 960.0 114.1 960.6 110.2 961.1 127.0 961.7 77.7 962.2 124.2 962.8 112.4 963.4 116.4 963.9 112.2 964.5 103.4 965.0 118.1 965.6 109.1 966.2 75.2 966.7 86.7 967.3 110.0 967.9 89.3 968.4 118.3 969.0 101.1 969.5 129.7 970.1 124.8 970.7 120.0 971.2 83.6 971.8 101.0 972.3 95.5 972.9 102.4 973.5 98.6 974.0 97.7 974.6 91.8 975.2 102.2 975.7 120.9 976.3 118.7 976.8 84.0 977.4 80.6 978.0 95.3 978.5 133.5 979.1 77.7 979.6 99.4 980.2 106.3 980.8 104.7 981.3 111.5 981.9 74.6 982.5 75.9 983.0 123.4 983.6 108.3 984.1 99.7 984.7 82.9 985.3 147.1 985.8 88.9 986.4 76.1 986.9 110.8 987.5 105.9 988.1 83.5 988.6 98.6 989.2 128.3 989.8 125.5 990.3 123.1 990.9 129.8 991.4 105.3 992.0 114.2 992.6 104.5 993.1 93.0 993.7 74.3 994.2 101.5 994.8 137.6 995.4 81.1 995.9 107.3 996.5 85.1 997.1 113.1 997.6 100.0 998.2 107.6 998.7 105.7 999.3 83.2 999.9 116.6 1000.4 102.4 1001.0 101.5 1001.5 112.0 1002.1 143.5 1002.7 99.3 1003.2 154.5 1003.8 131.4 1004.4 113.3 1004.9 97.9 1005.5 90.4 1006.0 90.9 1006.6 95.0 1007.2 111.6 1007.7 84.2 1008.3 109.9 1008.8 85.8 1009.4 144.0 1010.0 121.8 1010.5 115.3 1011.1 105.3 1011.7 146.8 1012.2 91.2 1012.8 88.1 1013.3 91.6 1013.9 114.2 1014.5 80.1 1015.0 114.8 1015.6 89.5 1016.1 106.3 1016.7 105.6 1017.3 108.0 1017.8 105.6 1018.4 86.0 1019.0 80.3 1019.5 80.5 1020.1 89.5 1020.6 93.7 1021.2 97.4 1021.8 74.8 1022.3 112.9 1022.9 116.2 1023.4 104.4 1024.0 134.2 1024.6 109.4 1025.1 106.3 1025.7 123.1 1026.3 115.3 1026.8 93.2 1027.4 109.3 1027.9 104.0 1028.5 87.4 1029.1 115.9 1029.6 125.1 1030.2 106.0 1030.8 97.9 1031.3 136.7 1031.9 93.9 1032.4 110.7 1033.0 112.4 1033.6 120.2 1034.1 108.5 1034.7 88.6 1035.2 96.1 1035.8 91.2 1036.4 111.5 1036.9 77.6 1037.5 83.1 1038.1 105.5 1038.6 150.7 1039.2 104.1 1039.7 57.4 1040.3 106.1 1040.9 122.8 1041.4 75.6 1042.0 115.8 1042.5 96.6 1043.1 91.9 1043.7 130.6 1044.2 102.9 1044.8 84.4 1045.4 110.8 1045.9 93.8 1046.5 105.5 1047.0 87.3 1047.6 73.0 1048.2 124.1 1048.7 110.0 1049.3 98.2 1049.8 116.0 1050.4 119.4 1051.0 111.1 1051.5 109.7 1052.1 116.4 1052.7 99.3 1053.2 91.0 1053.8 92.1 1054.3 93.2 1054.9 84.4 1055.5 128.7 1056.0 107.0 1056.6 101.7 1057.1 95.9 1057.7 133.0 1058.3 72.4 1058.8 120.4 1059.4 100.4 1060.0 92.2 1060.5 86.2 1061.1 116.9 1061.6 114.4 1062.2 98.6 1062.8 94.8 1063.3 89.2 1063.9 106.0 1064.4 117.0 1065.0 128.1 1065.6 74.8 1066.1 128.8 1066.7 92.9 1067.3 100.2 1067.8 91.8 1068.4 88.4 1068.9 81.6 1069.5 106.0 1070.1 98.1 1070.6 138.8 1071.2 104.2 1071.7 120.7 1072.3 107.6 1072.9 83.5 1073.4 103.1 1074.0 86.0 1074.6 108.4 1075.1 98.0 1075.7 112.1 1076.2 149.0 1076.8 117.3 1077.4 109.5 1077.9 102.2 1078.5 104.9 1079.0 107.1 1079.6 88.5 1080.2 94.1 1080.7 111.8 1081.3 89.8 1081.9 139.3 1082.4 109.8 1083.0 107.4 1083.5 82.3 1084.1 114.1 1084.7 130.3 1085.2 101.8 1085.8 75.5 1086.3 108.5 1086.9 106.5 1087.5 108.4 1088.0 103.9 1088.6 82.3 1089.2 70.8 1089.7 96.6 1090.3 106.6 1090.8 72.7 1091.4 103.1 1092.0 103.6 1092.5 110.9 1093.1 110.2 1093.6 100.6 1094.2 109.7 1094.8 97.5 1095.3 103.1 1095.9 95.1 1096.5 111.3 1097.0 108.2 1097.6 100.5 1098.1 103.5 1098.7 103.0 1099.3 84.5 1099.8 123.3 1100.4 138.3 1101.0 92.2 1101.5 108.9 1102.1 81.4 1102.6 106.2 1103.2 125.0 1103.8 66.8 1104.3 97.8 1104.9 112.6 1105.4 117.7 1106.0 95.0 1106.6 116.4 1107.1 98.0 1107.7 84.6 1108.3 128.8 1108.8 110.9 1109.4 96.5 1109.9 76.0 1110.5 88.7 1111.1 112.6 1111.6 79.5 1112.2 111.0 1112.7 107.6 1113.3 98.3 1113.9 123.7 1114.4 51.6 1115.0 84.1 1115.6 101.0 1116.1 114.7 1116.7 124.9 1117.2 98.4 1117.8 92.8 1118.4 111.7 1118.9 108.2 1119.5 95.2 1120.0 105.9 1120.6 137.0 1121.2 93.3 1121.7 100.6 1122.3 92.2 1122.9 117.9 1123.4 141.6 1124.0 126.5 1124.5 99.7 1125.1 68.9 1125.7 64.2 1126.2 99.6 1126.8 130.1 1127.3 110.7 1127.9 97.2 1128.5 97.3 1129.0 103.3 1129.6 81.7 1130.2 120.5 1130.7 142.4 1131.3 120.1 1131.8 125.0 1132.4 66.3 1133.0 108.1 1133.5 129.6 1134.1 94.2 1134.6 87.5 1135.2 104.0 1135.8 101.6 1136.3 87.2 1136.9 96.0 1137.5 117.0 1138.0 94.7 1138.6 88.8 1139.1 99.0 1139.7 89.8 1140.3 94.8 1140.8 109.0 1141.4 107.5 1141.9 94.3 1142.5 114.5 1143.1 85.0 1143.6 83.8 1144.2 140.1 1144.8 106.2 1145.3 117.9 1145.9 115.9 1146.4 102.4 1147.0 107.9 1147.6 95.2 1148.1 99.4 1148.7 98.5 1149.2 118.5 1149.8 111.0 1150.4 79.7 1150.9 147.9 1151.5 75.2 1152.1 114.7 1152.6 84.6 1153.2 149.9 1153.7 112.2 1154.3 90.3 1154.9 102.4 1155.4 87.4 1156.0 120.1 1156.5 114.7 1157.1 116.3 1157.7 96.2 1158.2 97.0 1158.8 107.1 1159.4 109.6 1159.9 110.0 1160.5 103.5 1161.0 121.4 1161.6 106.0 1162.2 107.5 1162.7 114.3 1163.3 114.8 1163.8 79.4 1164.4 115.6 1165.0 97.8 1165.5 81.3 1166.1 92.2 1166.7 104.6 1167.2 87.4 1167.8 129.7 1168.3 126.3 1168.9 111.8 1169.5 108.8 1170.0 106.6 1170.6 72.4 1171.2 75.8 1171.7 105.6 1172.3 100.6 1172.8 120.7 1173.4 99.5 1174.0 128.2 1174.5 80.8 1175.1 114.0 1175.6 95.3 1176.2 127.6 1176.8 80.9 1177.3 94.4 1177.9 71.1 1178.5 103.8 1179.0 133.0 1179.6 118.6 1180.1 126.7 1180.7 77.7 1181.3 115.8 1181.8 118.0 1182.4 94.7 1182.9 100.4 1183.5 96.5 1184.1 113.7 1184.6 139.6 1185.2 128.5 1185.8 143.0 1186.3 82.8 1186.9 89.2 1187.4 111.5 1188.0 94.2 1188.6 93.3 1189.1 94.0 1189.7 95.8 1190.2 89.7 1190.8 103.6 1191.4 143.4 1191.9 152.9 1192.5 83.1 1193.1 94.6 1193.6 148.5 1194.2 102.0 1194.7 120.2 1195.3 114.5 1195.9 150.1 1196.4 91.6 1197.0 106.4 1197.5 90.8 1198.1 86.1 1198.7 82.6 1199.2 76.4 1199.8 99.9 1200.4 101.2 1200.9 116.0 1201.5 95.8 1202.0 109.1" fill="none" stroke="#2a2eec" stroke-opacity="0.35" stroke-width="1.5" clip-path="url(#cR1)"/>
<path d="M641.0 125.4 641.6 84.1 642.1 92.6 642.7 151.5 643.2 137.3 643.8 108.8 644.4 128.2 644.9 83.6 645.5 101.7 646.1 95.0 646.6 88.5 647.2 81.5 647.7 109.6 648.3 93.9 648.9 100.4 649.4 90.8 650.0 95.1 650.5 79.9 651.1 95.4 651.7 113.1 652.2 102.6 652.8 124.5 653.4 99.1 653.9 78.4 654.5 115.2 655.0 133.5 655.6 106.1 656.2 113.5 656.7 104.7 657.3 115.0 657.8 103.3 658.4 122.4 659.0 77.6 659.5 108.6 660.1 95.7 660.7 91.4 661.2 107.3 661.8 96.8 662.3 109.0 662.9 112.5 663.5 108.6 664.0 96.2 664.6 126.7 665.1 120.5 665.7 118.7 666.3 114.5 666.8 84.5 667.4 105.2 668.0 110.0 668.5 102.1 669.1 86.2 669.6 117.7 670.2 86.8 670.8 145.2 671.3 120.0 671.9 78.9 672.4 77.5 673.0 101.1 673.6 111.9 674.1 90.1 674.7 111.6 675.3 77.5 675.8 83.8 676.4 91.0 676.9 119.0 677.5 87.4 678.1 108.6 678.6 108.3 679.2 111.6 679.8 106.3 680.3 95.5 680.9 89.5 681.4 89.4 682.0 45.1 682.6 110.0 683.1 83.9 683.7 115.5 684.2 107.3 684.8 124.2 685.4 82.9 685.9 99.4 686.5 101.6 687.1 105.9 687.6 87.8 688.2 112.5 688.7 96.8 689.3 60.0 689.9 106.2 690.4 114.6 691.0 121.3 691.5 89.5 692.1 102.5 692.7 116.7 693.2 118.1 693.8 103.1 694.4 121.0 694.9 67.1 695.5 107.0 696.0 106.7 696.6 105.2 697.2 135.1 697.7 128.8 698.3 109.9 698.8 104.0 699.4 125.1 700.0 74.1 700.5 95.6 701.1 81.1 701.7 83.2 702.2 107.5 702.8 61.2 703.3 101.4 703.9 136.4 704.5 144.2 705.0 103.5 705.6 88.4 706.1 102.3 706.7 73.4 707.3 108.8 707.8 93.7 708.4 90.8 709.0 121.4 709.5 98.2 710.1 97.2 710.6 84.5 711.2 82.5 711.8 86.4 712.3 116.8 712.9 90.8 713.4 85.0 714.0 103.0 714.6 90.6 715.1 90.2 715.7 83.1 716.3 102.3 716.8 95.4 717.4 100.2 717.9 102.5 718.5 114.3 719.1 109.5 719.6 123.1 720.2 107.1 720.7 91.8 721.3 93.0 721.9 90.8 722.4 105.7 723.0 79.7 723.6 111.7 724.1 90.5 724.7 96.6 725.2 116.7 725.8 116.0 726.4 90.9 726.9 103.1 727.5 99.1 728.0 50.6 728.6 94.0 729.2 101.7 729.7 91.0 730.3 114.1 730.9 106.8 731.4 96.0 732.0 117.8 732.5 104.2 733.1 106.9 733.7 101.8 734.2 134.2 734.8 73.0 735.3 105.2 735.9 94.2 736.5 121.6 737.0 126.3 737.6 103.2 738.2 109.2 738.7 92.4 739.3 119.6 739.8 120.7 740.4 97.9 741.0 91.6 741.5 87.7 742.1 104.2 742.6 99.1 743.2 117.4 743.8 80.9 744.3 83.9 744.9 84.5 745.5 131.4 746.0 88.5 746.6 116.3 747.1 95.2 747.7 96.3 748.3 82.6 748.8 107.0 749.4 109.7 750.0 121.2 750.5 124.3 751.1 93.8 751.6 119.5 752.2 92.2 752.8 110.4 753.3 113.7 753.9 87.3 754.4 89.0 755.0 121.0 755.6 106.8 756.1 104.1 756.7 92.5 757.3 116.7 757.8 111.2 758.4 106.0 758.9 92.0 759.5 88.6 760.1 113.4 760.6 73.7 761.2 96.7 761.7 117.8 762.3 130.8 762.9 112.7 763.4 145.1 764.0 100.9 764.6 94.5 765.1 82.1 765.7 95.5 766.2 133.6 766.8 109.0 767.4 92.1 767.9 141.6 768.5 118.3 769.0 93.3 769.6 103.2 770.2 138.9 770.7 112.9 771.3 103.8 771.9 68.2 772.4 111.7 773.0 119.8 773.5 99.9 774.1 98.4 774.7 94.3 775.2 79.2 775.8 105.3 776.3 127.8 776.9 103.4 777.5 103.8 778.0 87.4 778.6 89.6 779.2 116.8 779.7 90.8 780.3 86.8 780.8 107.3 781.4 87.7 782.0 101.2 782.5 101.0 783.1 106.6 783.6 90.2 784.2 54.4 784.8 100.1 785.3 124.1 785.9 108.0 786.5 114.1 787.0 98.4 787.6 106.4 788.1 60.2 788.7 91.1 789.3 71.9 789.8 116.2 790.4 107.7 790.9 68.5 791.5 133.0 792.1 101.6 792.6 130.8 793.2 77.5 793.8 128.5 794.3 109.3 794.9 107.1 795.4 133.2 796.0 61.4 796.6 107.0 797.1 75.6 797.7 116.1 798.2 129.5 798.8 100.4 799.4 100.9 799.9 53.6 800.5 122.4 801.1 131.2 801.6 116.4 802.2 98.9 802.7 94.4 803.3 117.1 803.9 110.2 804.4 94.8 805.0 85.4 805.5 114.5 806.1 102.0 806.7 152.1 807.2 121.1 807.8 96.9 808.4 104.5 808.9 107.5 809.5 76.4 810.0 109.3 810.6 123.3 811.2 100.7 811.7 100.7 812.3 124.1 812.8 87.0 813.4 74.8 814.0 114.5 814.5 119.4 815.1 105.8 815.7 82.8 816.2 114.1 816.8 117.0 817.3 114.6 817.9 100.2 818.5 100.6 819.0 107.3 819.6 83.5 820.2 65.4 820.7 114.3 821.3 86.3 821.8 99.6 822.4 52.4 823.0 119.5 823.5 110.3 824.1 102.5 824.6 129.0 825.2 107.9 825.8 91.9 826.3 129.3 826.9 102.1 827.5 73.4 828.0 114.7 828.6 119.9 829.1 148.2 829.7 106.2 830.3 132.5 830.8 94.7 831.4 75.8 831.9 94.7 832.5 118.0 833.1 93.0 833.6 112.5 834.2 123.9 834.8 113.0 835.3 100.2 835.9 110.7 836.4 95.2 837.0 67.2 837.6 93.7 838.1 91.3 838.7 115.9 839.2 81.3 839.8 98.3 840.4 86.9 840.9 117.9 841.5 100.4 842.1 145.2 842.6 110.6 843.2 119.1 843.7 121.9 844.3 74.4 844.9 131.1 845.4 107.1 846.0 107.0 846.5 95.3 847.1 87.0 847.7 132.3 848.2 113.9 848.8 116.8 849.4 92.5 849.9 88.4 850.5 111.7 851.0 114.0 851.6 122.2 852.2 98.3 852.7 75.8 853.3 98.1 853.8 116.9 854.4 119.1 855.0 117.1 855.5 133.3 856.1 74.7 856.7 103.5 857.2 110.5 857.8 66.0 858.3 100.9 858.9 79.1 859.5 100.1 860.0 85.7 860.6 103.5 861.1 111.1 861.7 97.7 862.3 92.4 862.8 85.9 863.4 101.3 864.0 109.1 864.5 111.2 865.1 99.5 865.6 113.2 866.2 110.5 866.8 95.4 867.3 94.7 867.9 96.1 868.4 117.7 869.0 129.8 869.6 100.1 870.1 102.8 870.7 111.4 871.3 101.2 871.8 90.1 872.4 108.3 872.9 97.9 873.5 121.8 874.1 108.6 874.6 119.2 875.2 129.9 875.7 97.3 876.3 154.0 876.9 105.9 877.4 91.4 878.0 98.0 878.6 131.7 879.1 100.7 879.7 136.6 880.2 120.2 880.8 80.1 881.4 102.2 881.9 84.5 882.5 123.9 883.0 140.9 883.6 117.9 884.2 82.7 884.7 89.0 885.3 86.4 885.9 107.5 886.4 106.5 887.0 108.4 887.5 54.7 888.1 103.4 888.7 74.3 889.2 107.9 889.8 81.0 890.4 123.6 890.9 113.5 891.5 98.7 892.0 114.7 892.6 111.9 893.2 107.6 893.7 114.1 894.3 77.9 894.8 85.1 895.4 129.0 896.0 75.0 896.5 105.4 897.1 105.2 897.7 107.6 898.2 89.5 898.8 92.3 899.3 113.7 899.9 103.8 900.5 127.3 901.0 72.5 901.6 119.4 902.1 120.0 902.7 117.0 903.3 102.2 903.8 91.6 904.4 110.7 905.0 104.1 905.5 110.4 906.1 82.2 906.6 100.6 907.2 133.9 907.8 78.9 908.3 98.7 908.9 71.1 909.4 115.1 910.0 113.0 910.6 107.5 911.1 128.8 911.7 110.8 912.3 82.7 912.8 92.3 913.4 146.1 913.9 82.1 914.5 98.2 915.1 90.2 915.6 103.7 916.2 101.1 916.7 103.4 917.3 103.5 917.9 122.3 918.4 86.3 919.0 100.6 919.6 97.7 920.1 98.4 920.7 109.6 921.2 105.4 921.8 127.5 922.4 99.8 922.9 99.6 923.5 108.5 924.0 134.1 924.6 81.2 925.2 107.4 925.7 104.7 926.3 109.8 926.9 114.7 927.4 111.4 928.0 123.6 928.5 114.5 929.1 68.6 929.7 83.9 930.2 69.7 930.8 115.1 931.3 137.1 931.9 128.0 932.5 150.0 933.0 85.6 933.6 83.1 934.2 102.5 934.7 97.8 935.3 98.0 935.8 106.4 936.4 91.7 937.0 121.9 937.5 112.0 938.1 106.9 938.6 133.8 939.2 121.8 939.8 96.8 940.3 98.4 940.9 147.1 941.5 88.5 942.0 98.3 942.6 91.0 943.1 105.5 943.7 94.2 944.3 126.8 944.8 108.1 945.4 122.8 945.9 113.3 946.5 84.1 947.1 76.2 947.6 103.8 948.2 112.0 948.8 90.9 949.3 96.4 949.9 71.2 950.4 93.5 951.0 144.9 951.6 103.3 952.1 110.0 952.7 118.3 953.2 102.0 953.8 103.4 954.4 110.5 954.9 78.3 955.5 97.9 956.1 97.3 956.6 101.6 957.2 83.3 957.7 123.6 958.3 83.4 958.9 108.5 959.4 78.6 960.0 79.8 960.6 95.7 961.1 112.2 961.7 99.5 962.2 98.2 962.8 129.6 963.4 110.0 963.9 116.4 964.5 80.6 965.0 74.9 965.6 116.9 966.2 113.5 966.7 127.2 967.3 99.8 967.9 90.4 968.4 73.4 969.0 126.6 969.5 88.3 970.1 106.9 970.7 116.8 971.2 110.4 971.8 117.6 972.3 96.7 972.9 104.4 973.5 83.9 974.0 113.6 974.6 136.7 975.2 121.6 975.7 98.6 976.3 129.9 976.8 117.4 977.4 95.2 978.0 128.2 978.5 90.0 979.1 98.7 979.6 114.6 980.2 105.3 980.8 113.1 981.3 111.4 981.9 110.2 982.5 104.2 983.0 106.1 983.6 117.4 984.1 121.5 984.7 68.9 985.3 123.6 985.8 107.2 986.4 83.9 986.9 87.5 987.5 117.1 988.1 70.0 988.6 74.1 989.2 110.0 989.8 125.9 990.3 93.7 990.9 107.7 991.4 109.6 992.0 118.5 992.6 114.9 993.1 101.8 993.7 89.1 994.2 140.3 994.8 145.6 995.4 88.0 995.9 119.2 996.5 92.7 997.1 102.7 997.6 83.1 998.2 88.9 998.7 109.4 999.3 107.4 999.9 99.1 1000.4 91.8 1001.0 115.4 1001.5 130.8 1002.1 102.8 1002.7 105.4 1003.2 107.3 1003.8 121.8 1004.4 94.1 1004.9 134.4 1005.5 112.9 1006.0 82.3 1006.6 123.7 1007.2 97.4 1007.7 96.8 1008.3 97.2 1008.8 133.5 1009.4 87.1 1010.0 102.1 1010.5 96.0 1011.1 99.2 1011.7 103.5 1012.2 83.4 1012.8 79.7 1013.3 136.6 1013.9 117.9 1014.5 107.4 1015.0 142.0 1015.6 79.2 1016.1 117.8 1016.7 94.7 1017.3 100.7 1017.8 108.2 1018.4 121.8 1019.0 110.7 1019.5 102.9 1020.1 90.9 1020.6 107.9 1021.2 111.2 1021.8 108.7 1022.3 81.9 1022.9 99.4 1023.4 116.0 1024.0 126.2 1024.6 111.5 1025.1 120.1 1025.7 111.6 1026.3 81.0 1026.8 92.5 1027.4 100.5 1027.9 97.4 1028.5 74.7 1029.1 124.0 1029.6 96.7 1030.2 107.9 1030.8 102.0 1031.3 103.1 1031.9 109.9 1032.4 95.0 1033.0 141.7 1033.6 99.4 1034.1 92.7 1034.7 120.9 1035.2 121.2 1035.8 71.5 1036.4 119.9 1036.9 110.9 1037.5 117.7 1038.1 114.9 1038.6 116.0 1039.2 140.8 1039.7 63.4 1040.3 116.9 1040.9 97.9 1041.4 105.8 1042.0 81.2 1042.5 92.5 1043.1 85.0 1043.7 84.3 1044.2 90.0 1044.8 103.9 1045.4 88.8 1045.9 131.9 1046.5 89.2 1047.0 92.4 1047.6 99.2 1048.2 127.4 1048.7 81.5 1049.3 116.1 1049.8 93.7 1050.4 136.3 1051.0 107.5 1051.5 115.6 1052.1 117.9 1052.7 115.9 1053.2 73.9 1053.8 105.1 1054.3 98.6 1054.9 67.8 1055.5 129.1 1056.0 78.2 1056.6 110.9 1057.1 115.3 1057.7 111.6 1058.3 135.7 1058.8 130.9 1059.4 124.1 1060.0 114.2 1060.5 92.3 1061.1 85.9 1061.6 110.9 1062.2 98.2 1062.8 97.1 1063.3 108.5 1063.9 100.7 1064.4 114.7 1065.0 95.0 1065.6 108.5 1066.1 103.9 1066.7 100.2 1067.3 102.1 1067.8 116.9 1068.4 127.8 1068.9 105.8 1069.5 114.4 1070.1 113.8 1070.6 106.4 1071.2 116.9 1071.7 96.9 1072.3 97.8 1072.9 120.1 1073.4 98.3 1074.0 121.2 1074.6 92.2 1075.1 94.0 1075.7 104.9 1076.2 89.4 1076.8 87.1 1077.4 97.1 1077.9 136.3 1078.5 102.4 1079.0 101.3 1079.6 90.9 1080.2 121.7 1080.7 92.6 1081.3 98.7 1081.9 97.8 1082.4 126.1 1083.0 119.7 1083.5 85.3 1084.1 90.5 1084.7 106.2 1085.2 86.1 1085.8 100.3 1086.3 112.0 1086.9 132.0 1087.5 87.4 1088.0 107.3 1088.6 100.8 1089.2 135.8 1089.7 114.2 1090.3 99.8 1090.8 109.1 1091.4 117.6 1092.0 124.0 1092.5 101.4 1093.1 111.3 1093.6 110.8 1094.2 110.0 1094.8 116.1 1095.3 110.7 1095.9 115.6 1096.5 104.5 1097.0 128.6 1097.6 123.9 1098.1 104.6 1098.7 107.9 1099.3 102.4 1099.8 70.6 1100.4 92.2 1101.0 85.7 1101.5 97.9 1102.1 107.1 1102.6 118.7 1103.2 137.0 1103.8 129.3 1104.3 145.2 1104.9 124.3 1105.4 132.3 1106.0 121.7 1106.6 105.4 1107.1 112.1 1107.7 89.9 1108.3 89.6 1108.8 87.6 1109.4 90.4 1109.9 100.5 1110.5 113.9 1111.1 97.3 1111.6 109.3 1112.2 108.5 1112.7 98.1 1113.3 123.8 1113.9 133.0 1114.4 99.5 1115.0 74.6 1115.6 85.9 1116.1 40.6 1116.7 129.1 1117.2 116.1 1117.8 144.5 1118.4 119.8 1118.9 72.6 1119.5 77.4 1120.0 122.5 1120.6 110.6 1121.2 119.1 1121.7 128.1 1122.3 109.2 1122.9 110.7 1123.4 103.4 1124.0 100.5 1124.5 93.1 1125.1 81.5 1125.7 106.4 1126.2 108.6 1126.8 104.9 1127.3 97.4 1127.9 107.3 1128.5 122.0 1129.0 113.9 1129.6 92.3 1130.2 122.6 1130.7 91.1 1131.3 128.9 1131.8 94.6 1132.4 94.9 1133.0 108.6 1133.5 105.4 1134.1 109.0 1134.6 76.2 1135.2 112.5 1135.8 117.5 1136.3 98.6 1136.9 86.0 1137.5 99.3 1138.0 107.5 1138.6 87.5 1139.1 118.0 1139.7 118.4 1140.3 126.2 1140.8 84.3 1141.4 142.9 1141.9 127.1 1142.5 100.8 1143.1 98.0 1143.6 75.3 1144.2 97.7 1144.8 113.5 1145.3 81.3 1145.9 86.8 1146.4 85.2 1147.0 86.8 1147.6 96.3 1148.1 129.9 1148.7 123.1 1149.2 71.3 1149.8 104.3 1150.4 136.5 1150.9 104.1 1151.5 88.6 1152.1 98.3 1152.6 104.8 1153.2 175.7 1153.7 104.0 1154.3 107.4 1154.9 76.4 1155.4 105.0 1156.0 106.0 1156.5 112.6 1157.1 107.2 1157.7 100.4 1158.2 113.8 1158.8 120.2 1159.4 126.3 1159.9 103.1 1160.5 111.2 1161.0 110.6 1161.6 131.1 1162.2 119.0 1162.7 137.5 1163.3 88.8 1163.8 85.0 1164.4 98.2 1165.0 107.1 1165.5 97.2 1166.1 130.6 1166.7 127.9 1167.2 85.1 1167.8 123.0 1168.3 106.1 1168.9 116.7 1169.5 147.0 1170.0 116.8 1170.6 91.2 1171.2 82.8 1171.7 148.4 1172.3 132.1 1172.8 115.2 1173.4 88.2 1174.0 84.3 1174.5 78.0 1175.1 76.4 1175.6 112.5 1176.2 122.2 1176.8 89.4 1177.3 109.6 1177.9 104.7 1178.5 111.3 1179.0 111.9 1179.6 89.6 1180.1 122.5 1180.7 135.2 1181.3 117.2 1181.8 103.5 1182.4 110.5 1182.9 107.7 1183.5 139.5 1184.1 120.4 1184.6 86.9 1185.2 108.3 1185.8 117.1 1186.3 86.1 1186.9 115.1 1187.4 92.6 1188.0 101.8 1188.6 98.6 1189.1 87.8 1189.7 66.9 1190.2 83.7 1190.8 120.2 1191.4 124.7 1191.9 111.2 1192.5 108.6 1193.1 93.7 1193.6 105.2 1194.2 102.3 1194.7 135.0 1195.3 106.6 1195.9 96.6 1196.4 76.4 1197.0 92.2 1197.5 104.1 1198.1 126.1 1198.7 105.9 1199.2 105.7 1199.8 108.2 1200.4 103.1 1200.9 97.1 1201.5 98.1 1202.0 67.4" fill="none" stroke="#2a2eec" stroke-opacity="0.35" stroke-width="1.5" stroke-dasharray="5.55 2.4" clip-path="url(#cR1)"/>
<path d="M641.0 122.7 641.6 132.8 642.1 99.1 642.7 127.0 643.2 109.5 643.8 107.3 644.4 119.8 644.9 92.2 645.5 94.8 646.1 103.5 646.6 95.5 647.2 91.0 647.7 111.3 648.3 95.7 648.9 103.6 649.4 106.0 650.0 114.0 650.5 76.0 651.1 100.4 651.7 130.5 652.2 97.5 652.8 150.0 653.4 101.4 653.9 92.8 654.5 81.6 655.0 102.5 655.6 118.2 656.2 72.6 656.7 88.2 657.3 83.8 657.8 110.4 658.4 95.2 659.0 136.5 659.5 97.9 660.1 142.4 660.7 123.8 661.2 131.4 661.8 86.4 662.3 90.3 662.9 116.3 663.5 84.8 664.0 104.8 664.6 140.4 665.1 112.9 665.7 135.9 666.3 104.9 666.8 100.0 667.4 118.9 668.0 92.2 668.5 88.0 669.1 121.6 669.6 96.4 670.2 107.9 670.8 111.0 671.3 77.1 671.9 118.3 672.4 112.3 673.0 107.3 673.6 96.3 674.1 92.8 674.7 122.4 675.3 82.5 675.8 74.5 676.4 71.3 676.9 103.2 677.5 114.8 678.1 124.5 678.6 100.0 679.2 107.3 679.8 107.0 680.3 116.8 680.9 144.3 681.4 111.0 682.0 109.0 682.6 112.3 683.1 130.5 683.7 110.7 684.2 108.6 684.8 125.5 685.4 94.8 685.9 106.6 686.5 103.6 687.1 99.1 687.6 110.3 688.2 107.3 688.7 96.7 689.3 92.7 689.9 90.4 690.4 109.1 691.0 92.6 691.5 86.1 692.1 130.1 692.7 112.9 693.2 106.3 693.8 105.8 694.4 74.7 694.9 85.3 695.5 108.1 696.0 107.7 696.6 129.9 697.2 122.8 697.7 82.5 698.3 135.5 698.8 94.8 699.4 117.9 700.0 111.0 700.5 107.4 701.1 74.0 701.7 99.7 702.2 96.8 702.8 88.0 703.3 143.9 703.9 73.2 704.5 134.5 705.0 117.9 705.6 93.5 706.1 126.7 706.7 135.6 707.3 85.2 707.8 110.8 708.4 89.1 709.0 96.9 709.5 108.7 710.1 75.9 710.6 109.7 711.2 70.3 711.8 120.7 712.3 122.5 712.9 117.1 713.4 101.1 714.0 124.8 714.6 117.3 715.1 80.2 715.7 101.9 716.3 85.1 716.8 98.7 717.4 115.2 717.9 118.3 718.5 101.8 719.1 103.7 719.6 114.0 720.2 114.6 720.7 79.9 721.3 86.9 721.9 99.7 722.4 110.8 723.0 112.2 723.6 70.3 724.1 115.2 724.7 65.0 725.2 116.3 725.8 130.6 726.4 70.0 726.9 106.9 727.5 78.5 728.0 97.3 728.6 109.1 729.2 88.6 729.7 110.0 730.3 97.4 730.9 107.4 731.4 135.4 732.0 98.1 732.5 114.1 733.1 107.5 733.7 97.9 734.2 129.5 734.8 95.7 735.3 95.0 735.9 71.8 736.5 90.8 737.0 99.2 737.6 116.2 738.2 105.5 738.7 129.4 739.3 98.1 739.8 108.6 740.4 111.4 741.0 104.9 741.5 97.4 742.1 100.7 742.6 125.6 743.2 82.4 743.8 104.7 744.3 99.5 744.9 105.2 745.5 121.5 746.0 100.8 746.6 112.1 747.1 120.0 747.7 103.2 748.3 92.4 748.8 94.9 749.4 102.1 750.0 115.9 750.5 111.0 751.1 107.7 751.6 129.9 752.2 91.6 752.8 103.9 753.3 127.3 753.9 79.8 754.4 72.3 755.0 127.6 755.6 108.5 756.1 119.8 756.7 92.3 757.3 129.0 757.8 97.0 758.4 98.9 758.9 86.5 759.5 138.0 760.1 118.6 760.6 109.0 761.2 89.1 761.7 104.0 762.3 92.7 762.9 97.7 763.4 120.9 764.0 107.5 764.6 112.4 765.1 110.9 765.7 121.3 766.2 92.6 766.8 100.4 767.4 138.2 767.9 93.0 768.5 115.3 769.0 131.0 769.6 84.9 770.2 106.0 770.7 99.6 771.3 108.0 771.9 106.3 772.4 136.6 773.0 92.7 773.5 118.3 774.1 105.4 774.7 107.1 775.2 122.3 775.8 127.2 776.3 108.3 776.9 83.9 777.5 117.0 778.0 116.0 778.6 104.1 779.2 115.6 779.7 83.2 780.3 97.7 780.8 62.6 781.4 101.9 782.0 67.4 782.5 115.6 783.1 101.6 783.6 123.7 784.2 112.0 784.8 110.8 785.3 94.8 785.9 81.9 786.5 109.7 787.0 130.1 787.6 105.2 788.1 108.1 788.7 113.5 789.3 90.3 789.8 85.6 790.4 117.0 790.9 117.1 791.5 149.5 792.1 115.7 792.6 90.4 793.2 120.6 793.8 89.2 794.3 93.1 794.9 94.1 795.4 93.7 796.0 106.0 796.6 86.9 797.1 86.3 797.7 98.4 798.2 105.1 798.8 82.0 799.4 78.5 799.9 115.2 800.5 89.9 801.1 103.3 801.6 63.9 802.2 109.8 802.7 114.9 803.3 120.0 803.9 88.5 804.4 122.4 805.0 93.1 805.5 113.0 806.1 81.0 806.7 77.1 807.2 84.5 807.8 137.8 808.4 129.3 808.9 150.7 809.5 58.8 810.0 114.4 810.6 111.3 811.2 103.4 811.7 93.8 812.3 109.9 812.8 103.1 813.4 104.4 814.0 126.7 814.5 72.9 815.1 74.3 815.7 103.7 816.2 106.4 816.8 71.7 817.3 61.9 817.9 103.2 818.5 93.6 819.0 111.1 819.6 98.3 820.2 148.2 820.7 142.8 821.3 96.2 821.8 107.2 822.4 97.1 823.0 102.6 823.5 93.5 824.1 99.4 824.6 106.8 825.2 96.6 825.8 115.3 826.3 79.4 826.9 120.6 827.5 110.6 828.0 88.1 828.6 110.0 829.1 87.0 829.7 78.4 830.3 90.0 830.8 111.2 831.4 70.6 831.9 95.6 832.5 120.2 833.1 68.6 833.6 100.2 834.2 92.7 834.8 87.8 835.3 112.3 835.9 87.8 836.4 124.8 837.0 120.3 837.6 110.1 838.1 65.5 838.7 92.9 839.2 83.1 839.8 110.7 840.4 94.0 840.9 139.8 841.5 107.6 842.1 95.6 842.6 113.0 843.2 137.5 843.7 131.5 844.3 92.1 844.9 79.8 845.4 109.7 846.0 75.5 846.5 125.7 847.1 92.5 847.7 98.0 848.2 85.0 848.8 129.4 849.4 86.0 849.9 101.4 850.5 118.4 851.0 111.4 851.6 107.3 852.2 98.6 852.7 118.4 853.3 118.6 853.8 102.2 854.4 104.4 855.0 95.1 855.5 88.1 856.1 136.1 856.7 105.6 857.2 100.0 857.8 103.3 858.3 122.8 858.9 91.8 859.5 74.5 860.0 107.3 860.6 118.1 861.1 91.0 861.7 104.1 862.3 102.4 862.8 100.6 863.4 112.5 864.0 104.8 864.5 117.2 865.1 138.8 865.6 86.6 866.2 99.6 866.8 105.9 867.3 81.2 867.9 107.4 868.4 85.2 869.0 90.3 869.6 109.8 870.1 126.6 870.7 96.5 871.3 100.8 871.8 87.1 872.4 131.7 872.9 106.9 873.5 100.7 874.1 98.8 874.6 102.7 875.2 99.4 875.7 145.3 876.3 110.2 876.9 116.5 877.4 131.7 878.0 102.8 878.6 111.6 879.1 125.0 879.7 129.2 880.2 99.2 880.8 149.1 881.4 106.5 881.9 124.4 882.5 102.5 883.0 71.4 883.6 87.0 884.2 105.9 884.7 78.6 885.3 72.0 885.9 87.5 886.4 72.4 887.0 100.9 887.5 93.6 888.1 106.1 888.7 111.3 889.2 104.2 889.8 118.2 890.4 106.3 890.9 66.0 891.5 92.1 892.0 107.9 892.6 74.5 893.2 79.3 893.7 123.2 894.3 116.8 894.8 74.3 895.4 102.9 896.0 101.3 896.5 113.8 897.1 123.9 897.7 84.4 898.2 118.7 898.8 95.1 899.3 72.0 899.9 95.1 900.5 108.2 901.0 93.5 901.6 94.7 902.1 112.5 902.7 99.9 903.3 125.7 903.8 135.3 904.4 114.2 905.0 135.4 905.5 115.7 906.1 106.8 906.6 101.5 907.2 72.1 907.8 120.9 908.3 112.8 908.9 112.9 909.4 122.5 910.0 69.3 910.6 118.5 911.1 109.1 911.7 108.0 912.3 62.2 912.8 110.4 913.4 118.5 913.9 83.3 914.5 116.6 915.1 142.1 915.6 85.1 916.2 88.6 916.7 130.3 917.3 126.9 917.9 105.8 918.4 122.3 919.0 132.0 919.6 126.4 920.1 73.8 920.7 86.4 921.2 124.2 921.8 108.2 922.4 103.6 922.9 111.5 923.5 106.2 924.0 74.7 924.6 116.9 925.2 119.3 925.7 106.5 926.3 117.7 926.9 113.6 927.4 113.6 928.0 123.5 928.5 84.4 929.1 117.6 929.7 82.5 930.2 121.0 930.8 122.2 931.3 101.5 931.9 110.6 932.5 91.0 933.0 94.0 933.6 64.8 934.2 158.3 934.7 124.5 935.3 106.8 935.8 109.8 936.4 107.0 937.0 60.0 937.5 146.2 938.1 93.9 938.6 110.1 939.2 105.9 939.8 86.7 940.3 107.1 940.9 91.9 941.5 83.0 942.0 84.7 942.6 139.3 943.1 117.7 943.7 129.3 944.3 120.1 944.8 109.6 945.4 69.0 945.9 117.6 946.5 111.5 947.1 109.2 947.6 79.5 948.2 116.2 948.8 98.2 949.3 91.6 949.9 96.1 950.4 142.5 951.0 129.7 951.6 94.4 952.1 138.2 952.7 110.7 953.2 133.7 953.8 99.7 954.4 107.7 954.9 134.7 955.5 111.5 956.1 126.0 956.6 117.0 957.2 84.8 957.7 102.1 958.3 101.1 958.9 79.8 959.4 105.3 960.0 83.8 960.6 100.1 961.1 102.3 961.7 113.6 962.2 121.9 962.8 125.5 963.4 123.7 963.9 97.9 964.5 99.9 965.0 122.0 965.6 85.3 966.2 118.4 966.7 114.0 967.3 131.5 967.9 121.9 968.4 91.6 969.0 99.2 969.5 118.2 970.1 85.2 970.7 108.2 971.2 105.6 971.8 88.3 972.3 98.8 972.9 112.8 973.5 125.6 974.0 84.2 974.6 148.6 975.2 117.9 975.7 137.9 976.3 117.3 976.8 92.0 977.4 112.9 978.0 114.5 978.5 107.9 979.1 72.4 979.6 82.7 980.2 102.9 980.8 118.3 981.3 113.9 981.9 100.9 982.5 111.1 983.0 109.0 983.6 125.2 984.1 130.8 984.7 126.2 985.3 102.7 985.8 123.1 986.4 62.2 986.9 96.9 987.5 95.1 988.1 89.0 988.6 124.8 989.2 127.0 989.8 110.4 990.3 95.8 990.9 96.4 991.4 77.1 992.0 81.3 992.6 87.3 993.1 85.7 993.7 100.7 994.2 90.2 994.8 110.0 995.4 112.3 995.9 88.4 996.5 133.7 997.1 80.1 997.6 72.0 998.2 112.9 998.7 91.1 999.3 101.2 999.9 121.2 1000.4 97.5 1001.0 94.6 1001.5 86.1 1002.1 109.5 1002.7 101.2 1003.2 114.3 1003.8 86.0 1004.4 105.4 1004.9 88.5 1005.5 115.4 1006.0 101.5 1006.6 119.3 1007.2 116.6 1007.7 84.2 1008.3 106.8 1008.8 105.1 1009.4 90.8 1010.0 117.8 1010.5 69.7 1011.1 117.2 1011.7 110.5 1012.2 65.6 1012.8 133.6 1013.3 72.8 1013.9 96.8 1014.5 94.7 1015.0 122.0 1015.6 100.7 1016.1 125.8 1016.7 86.3 1017.3 108.1 1017.8 115.2 1018.4 112.4 1019.0 106.6 1019.5 86.9 1020.1 97.6 1020.6 117.4 1021.2 119.3 1021.8 122.1 1022.3 90.2 1022.9 95.8 1023.4 123.6 1024.0 132.6 1024.6 105.3 1025.1 114.4 1025.7 95.2 1026.3 106.5 1026.8 97.9 1027.4 90.4 1027.9 86.3 1028.5 108.3 1029.1 92.1 1029.6 114.5 1030.2 125.6 1030.8 100.7 1031.3 83.7 1031.9 79.9 1032.4 105.8 1033.0 134.7 1033.6 99.1 1034.1 108.5 1034.7 94.0 1035.2 86.1 1035.8 112.4 1036.4 117.2 1036.9 111.7 1037.5 116.8 1038.1 122.3 1038.6 101.3 1039.2 117.8 1039.7 110.0 1040.3 110.9 1040.9 115.7 1041.4 94.6 1042.0 113.2 1042.5 106.6 1043.1 91.4 1043.7 107.8 1044.2 130.5 1044.8 113.5 1045.4 113.5 1045.9 94.4 1046.5 76.6 1047.0 101.9 1047.6 107.7 1048.2 80.1 1048.7 117.4 1049.3 100.2 1049.8 97.2 1050.4 106.3 1051.0 108.7 1051.5 102.4 1052.1 79.3 1052.7 95.6 1053.2 115.7 1053.8 100.5 1054.3 88.9 1054.9 74.7 1055.5 91.6 1056.0 102.1 1056.6 81.6 1057.1 90.2 1057.7 103.0 1058.3 116.9 1058.8 104.0 1059.4 89.1 1060.0 123.9 1060.5 133.0 1061.1 96.7 1061.6 132.0 1062.2 127.9 1062.8 109.1 1063.3 109.7 1063.9 104.7 1064.4 102.8 1065.0 96.6 1065.6 107.5 1066.1 120.0 1066.7 154.5 1067.3 84.5 1067.8 92.3 1068.4 95.2 1068.9 106.4 1069.5 121.2 1070.1 97.8 1070.6 107.3 1071.2 129.5 1071.7 88.4 1072.3 130.6 1072.9 113.6 1073.4 75.9 1074.0 120.1 1074.6 103.1 1075.1 88.0 1075.7 106.2 1076.2 130.5 1076.8 114.8 1077.4 107.2 1077.9 132.2 1078.5 81.7 1079.0 100.9 1079.6 94.2 1080.2 101.9 1080.7 100.0 1081.3 112.7 1081.9 131.9 1082.4 95.0 1083.0 106.0 1083.5 79.6 1084.1 126.6 1084.7 103.8 1085.2 69.2 1085.8 129.8 1086.3 127.2 1086.9 102.8 1087.5 77.5 1088.0 127.2 1088.6 105.7 1089.2 110.0 1089.7 116.4 1090.3 111.2 1090.8 85.8 1091.4 104.5 1092.0 129.6 1092.5 117.6 1093.1 105.3 1093.6 131.2 1094.2 119.0 1094.8 114.0 1095.3 143.3 1095.9 75.1 1096.5 135.0 1097.0 106.0 1097.6 110.1 1098.1 117.6 1098.7 86.2 1099.3 106.1 1099.8 121.6 1100.4 86.9 1101.0 97.6 1101.5 125.1 1102.1 133.5 1102.6 91.9 1103.2 109.5 1103.8 132.4 1104.3 97.7 1104.9 132.0 1105.4 119.1 1106.0 121.3 1106.6 141.4 1107.1 95.3 1107.7 46.5 1108.3 96.0 1108.8 100.1 1109.4 111.5 1109.9 108.3 1110.5 102.3 1111.1 96.2 1111.6 115.7 1112.2 106.2 1112.7 110.6 1113.3 97.2 1113.9 90.5 1114.4 87.6 1115.0 114.3 1115.6 114.9 1116.1 94.5 1116.7 110.9 1117.2 110.0 1117.8 98.2 1118.4 99.6 1118.9 83.1 1119.5 127.1 1120.0 86.5 1120.6 114.0 1121.2 94.2 1121.7 128.3 1122.3 108.1 1122.9 116.5 1123.4 75.0 1124.0 122.1 1124.5 85.9 1125.1 119.6 1125.7 125.0 1126.2 100.3 1126.8 87.2 1127.3 106.6 1127.9 95.1 1128.5 101.4 1129.0 106.5 1129.6 81.4 1130.2 105.3 1130.7 90.3 1131.3 125.4 1131.8 108.6 1132.4 89.0 1133.0 113.2 1133.5 142.4 1134.1 92.2 1134.6 95.1 1135.2 110.1 1135.8 103.2 1136.3 110.9 1136.9 98.4 1137.5 85.9 1138.0 99.6 1138.6 106.5 1139.1 113.4 1139.7 107.7 1140.3 113.7 1140.8 88.1 1141.4 123.2 1141.9 115.0 1142.5 98.8 1143.1 99.1 1143.6 100.5 1144.2 112.1 1144.8 101.3 1145.3 129.5 1145.9 131.2 1146.4 127.0 1147.0 98.2 1147.6 81.0 1148.1 112.2 1148.7 114.4 1149.2 109.7 1149.8 73.2 1150.4 100.8 1150.9 102.7 1151.5 114.2 1152.1 95.8 1152.6 81.8 1153.2 101.0 1153.7 118.3 1154.3 81.6 1154.9 104.7 1155.4 73.4 1156.0 122.5 1156.5 106.8 1157.1 99.7 1157.7 134.6 1158.2 102.6 1158.8 93.7 1159.4 106.5 1159.9 96.7 1160.5 101.2 1161.0 119.0 1161.6 91.9 1162.2 117.4 1162.7 109.7 1163.3 117.2 1163.8 93.4 1164.4 112.7 1165.0 112.7 1165.5 141.6 1166.1 109.4 1166.7 87.4 1167.2 140.7 1167.8 98.3 1168.3 105.4 1168.9 134.7 1169.5 111.9 1170.0 88.3 1170.6 104.9 1171.2 98.7 1171.7 85.6 1172.3 110.3 1172.8 89.8 1173.4 126.2 1174.0 119.5 1174.5 79.7 1175.1 81.3 1175.6 88.5 1176.2 130.5 1176.8 108.5 1177.3 119.9 1177.9 71.5 1178.5 127.7 1179.0 126.4 1179.6 114.7 1180.1 98.8 1180.7 114.4 1181.3 109.6 1181.8 99.3 1182.4 103.8 1182.9 136.6 1183.5 125.9 1184.1 76.2 1184.6 103.5 1185.2 73.0 1185.8 79.2 1186.3 85.1 1186.9 103.0 1187.4 77.7 1188.0 111.9 1188.6 65.6 1189.1 93.8 1189.7 93.6 1190.2 110.4 1190.8 113.4 1191.4 107.8 1191.9 112.4 1192.5 118.4 1193.1 121.9 1193.6 100.0 1194.2 82.8 1194.7 69.6 1195.3 90.0 1195.9 104.9 1196.4 92.5 1197.0 73.7 1197.5 100.6 1198.1 85.6 1198.7 96.2 1199.2 100.5 1199.8 112.4 1200.4 90.5 1200.9 116.9 1201.5 119.9 1202.0 96.8" fill="none" stroke="#2a2eec" stroke-opacity="0.35" stroke-width="1.5" stroke-dasharray="1.5 2.475" clip-path="url(#cR1)"/>
<path d="M641.0 86.0 641.6 86.8 642.1 88.2 642.7 107.9 643.2 105.0 643.8 83.5 644.4 67.4 644.9 148.8 645.5 82.0 646.1 99.0 646.6 103.7 647.2 115.4 647.7 113.7 648.3 123.5 648.9 98.3 649.4 119.6 650.0 106.2 650.5 128.8 651.1 82.6 651.7 91.5 652.2 123.1 652.8 95.3 653.4 109.9 653.9 118.1 654.5 102.0 655.0 88.8 655.6 77.4 656.2 98.7 656.7 83.2 657.3 91.6 657.8 91.7 658.4 86.5 659.0 126.6 659.5 110.1 660.1 77.7 660.7 126.3 661.2 117.8 661.8 71.0 662.3 121.0 662.9 101.4 663.5 98.9 664.0 108.6 664.6 87.6 665.1 88.8 665.7 115.7 666.3 73.7 666.8 117.9 667.4 111.5 668.0 106.4 668.5 100.5 669.1 123.0 669.6 100.0 670.2 142.1 670.8 112.9 671.3 120.0 671.9 116.7 672.4 106.2 673.0 100.7 673.6 117.8 674.1 104.6 674.7 130.9 675.3 111.7 675.8 89.3 676.4 117.1 676.9 110.7 677.5 105.8 678.1 91.6 678.6 99.2 679.2 108.4 679.8 122.6 680.3 101.5 680.9 154.7 681.4 98.5 682.0 118.4 682.6 94.7 683.1 106.8 683.7 82.7 684.2 116.6 684.8 139.5 685.4 105.4 685.9 114.1 686.5 107.5 687.1 85.6 687.6 121.2 688.2 94.4 688.7 90.7 689.3 87.6 689.9 139.8 690.4 103.3 691.0 117.6 691.5 109.8 692.1 119.7 692.7 111.4 693.2 89.9 693.8 76.6 694.4 94.0 694.9 126.7 695.5 84.6 696.0 126.8 696.6 112.2 697.2 86.6 697.7 115.8 698.3 93.6 698.8 110.3 699.4 125.4 700.0 102.2 700.5 114.9 701.1 75.9 701.7 74.5 702.2 79.1 702.8 123.1 703.3 73.4 703.9 100.4 704.5 97.1 705.0 102.3 705.6 115.0 706.1 103.4 706.7 90.6 707.3 79.2 707.8 95.9 708.4 105.3 709.0 113.7 709.5 111.0 710.1 77.9 710.6 93.9 711.2 101.7 711.8 133.6 712.3 135.7 712.9 94.1 713.4 94.8 714.0 86.6 714.6 102.2 715.1 116.8 715.7 134.8 716.3 121.3 716.8 145.2 717.4 100.5 717.9 97.5 718.5 82.1 719.1 136.9 719.6 129.8 720.2 95.2 720.7 100.1 721.3 140.0 721.9 117.9 722.4 104.1 723.0 112.4 723.6 99.4 724.1 105.2 724.7 115.4 725.2 99.3 725.8 107.2 726.4 85.9 726.9 130.7 727.5 109.9 728.0 117.5 728.6 110.1 729.2 98.9 729.7 94.8 730.3 142.6 730.9 86.0 731.4 96.6 732.0 96.9 732.5 104.7 733.1 89.6 733.7 98.8 734.2 136.8 734.8 117.3 735.3 110.3 735.9 112.2 736.5 113.6 737.0 95.4 737.6 125.1 738.2 118.8 738.7 123.0 739.3 106.4 739.8 98.4 740.4 121.5 741.0 99.2 741.5 115.3 742.1 81.7 742.6 144.5 743.2 106.2 743.8 86.2 744.3 112.3 744.9 125.0 745.5 120.9 746.0 96.4 746.6 115.3 747.1 87.6 747.7 105.0 748.3 115.4 748.8 113.4 749.4 97.6 750.0 88.2 750.5 119.7 751.1 126.1 751.6 125.9 752.2 97.5 752.8 74.2 753.3 114.6 753.9 93.9 754.4 112.4 755.0 89.5 755.6 131.1 756.1 95.2 756.7 128.1 757.3 120.2 757.8 99.7 758.4 109.6 758.9 106.6 759.5 96.4 760.1 102.0 760.6 79.6 761.2 92.3 761.7 120.2 762.3 106.6 762.9 114.9 763.4 112.4 764.0 74.5 764.6 118.9 765.1 83.3 765.7 79.3 766.2 58.0 766.8 105.1 767.4 100.8 767.9 100.1 768.5 111.6 769.0 74.5 769.6 71.2 770.2 145.0 770.7 110.8 771.3 84.6 771.9 123.2 772.4 117.3 773.0 104.7 773.5 105.5 774.1 108.5 774.7 107.8 775.2 73.9 775.8 145.7 776.3 114.2 776.9 125.3 777.5 101.3 778.0 113.2 778.6 97.1 779.2 105.3 779.7 65.3 780.3 128.3 780.8 113.8 781.4 90.2 782.0 112.1 782.5 102.8 783.1 132.2 783.6 93.0 784.2 107.7 784.8 95.7 785.3 121.6 785.9 115.1 786.5 120.6 787.0 76.7 787.6 136.3 788.1 98.2 788.7 101.2 789.3 83.5 789.8 100.8 790.4 123.7 790.9 96.8 791.5 136.0 792.1 87.3 792.6 107.7 793.2 118.8 793.8 114.5 794.3 95.6 794.9 135.1 795.4 75.9 796.0 118.2 796.6 79.2 797.1 102.9 797.7 72.2 798.2 127.1 798.8 90.4 799.4 106.9 799.9 117.0 800.5 91.1 801.1 110.0 801.6 118.8 802.2 109.7 802.7 119.5 803.3 109.8 803.9 106.7 804.4 86.9 805.0 107.6 805.5 119.5 806.1 92.6 806.7 112.4 807.2 123.0 807.8 127.2 808.4 75.1 808.9 107.9 809.5 77.7 810.0 123.3 810.6 124.7 811.2 75.8 811.7 110.6 812.3 109.4 812.8 110.1 813.4 124.2 814.0 88.2 814.5 127.4 815.1 92.7 815.7 125.0 816.2 60.1 816.8 93.4 817.3 86.6 817.9 135.9 818.5 99.9 819.0 117.3 819.6 121.4 820.2 120.9 820.7 91.6 821.3 105.4 821.8 114.9 822.4 116.8 823.0 117.4 823.5 115.6 824.1 111.1 824.6 126.3 825.2 122.1 825.8 145.2 826.3 106.8 826.9 96.1 827.5 114.9 828.0 81.8 828.6 119.6 829.1 105.6 829.7 85.8 830.3 101.8 830.8 120.1 831.4 99.8 831.9 113.1 832.5 86.5 833.1 92.6 833.6 109.9 834.2 96.8 834.8 75.6 835.3 86.2 835.9 90.9 836.4 109.2 837.0 116.3 837.6 119.2 838.1 87.9 838.7 124.9 839.2 98.8 839.8 77.9 840.4 133.8 840.9 99.7 841.5 123.3 842.1 108.2 842.6 96.8 843.2 123.2 843.7 129.0 844.3 113.0 844.9 102.2 845.4 112.8 846.0 122.7 846.5 93.9 847.1 125.6 847.7 131.2 848.2 104.1 848.8 68.2 849.4 114.8 849.9 107.5 850.5 123.8 851.0 116.6 851.6 125.7 852.2 101.1 852.7 117.8 853.3 119.8 853.8 89.6 854.4 131.4 855.0 89.7 855.5 109.1 856.1 122.0 856.7 106.4 857.2 110.7 857.8 100.4 858.3 109.7 858.9 72.9 859.5 87.4 860.0 86.2 860.6 127.0 861.1 111.9 861.7 85.0 862.3 95.3 862.8 105.4 863.4 107.2 864.0 87.4 864.5 139.1 865.1 120.8 865.6 129.9 866.2 85.5 866.8 129.8 867.3 110.4 867.9 81.9 868.4 110.9 869.0 100.6 869.6 105.0 870.1 93.6 870.7 67.0 871.3 126.1 871.8 106.4 872.4 76.5 872.9 63.9 873.5 109.3 874.1 81.2 874.6 93.7 875.2 94.4 875.7 130.3 876.3 134.0 876.9 103.0 877.4 107.6 878.0 107.1 878.6 126.1 879.1 80.1 879.7 108.6 880.2 57.8 880.8 109.5 881.4 98.8 881.9 92.1 882.5 111.4 883.0 122.9 883.6 115.2 884.2 105.1 884.7 114.1 885.3 70.4 885.9 114.4 886.4 91.7 887.0 91.0 887.5 101.9 888.1 124.0 888.7 96.2 889.2 88.6 889.8 102.1 890.4 104.7 890.9 143.0 891.5 124.3 892.0 108.4 892.6 101.8 893.2 92.0 893.7 110.5 894.3 102.1 894.8 123.1 895.4 94.1 896.0 92.5 896.5 107.1 897.1 88.2 897.7 110.4 898.2 113.7 898.8 110.2 899.3 70.2 899.9 133.4 900.5 101.7 901.0 111.2 901.6 103.2 902.1 130.9 902.7 92.2 903.3 93.5 903.8 109.7 904.4 112.5 905.0 37.3 905.5 88.3 906.1 131.7 906.6 80.4 907.2 110.4 907.8 90.3 908.3 119.4 908.9 70.6 909.4 100.1 910.0 73.7 910.6 115.4 911.1 115.9 911.7 84.8 912.3 92.1 912.8 98.5 913.4 82.8 913.9 96.9 914.5 110.3 915.1 137.4 915.6 144.3 916.2 93.0 916.7 94.4 917.3 120.0 917.9 94.8 918.4 107.8 919.0 103.6 919.6 87.3 920.1 131.7 920.7 98.0 921.2 95.0 921.8 107.5 922.4 101.2 922.9 124.1 923.5 101.5 924.0 93.1 924.6 90.5 925.2 116.2 925.7 90.0 926.3 98.8 926.9 92.4 927.4 104.8 928.0 93.1 928.5 100.7 929.1 61.7 929.7 109.4 930.2 84.3 930.8 104.6 931.3 130.3 931.9 95.9 932.5 82.9 933.0 91.0 933.6 90.6 934.2 118.4 934.7 98.9 935.3 128.4 935.8 73.2 936.4 77.2 937.0 122.4 937.5 111.1 938.1 125.8 938.6 117.4 939.2 112.0 939.8 124.8 940.3 112.4 940.9 93.2 941.5 109.3 942.0 91.8 942.6 107.3 943.1 102.6 943.7 126.5 944.3 88.1 944.8 124.3 945.4 110.7 945.9 126.9 946.5 95.6 947.1 122.8 947.6 94.4 948.2 70.6 948.8 98.4 949.3 143.8 949.9 87.0 950.4 101.3 951.0 93.6 951.6 97.0 952.1 83.9 952.7 86.4 953.2 105.2 953.8 125.9 954.4 105.6 954.9 90.7 955.5 136.8 956.1 101.5 956.6 135.7 957.2 84.5 957.7 71.6 958.3 88.6 958.9 111.4 959.4 90.1 960.0 80.6 960.6 74.6 961.1 79.0 961.7 84.7 962.2 121.2 962.8 105.6 963.4 95.6 963.9 103.1 964.5 138.1 965.0 106.9 965.6 116.4 966.2 100.3 966.7 97.9 967.3 129.1 967.9 117.3 968.4 101.2 969.0 122.4 969.5 104.6 970.1 118.8 970.7 116.5 971.2 88.7 971.8 106.5 972.3 113.9 972.9 77.3 973.5 109.7 974.0 104.8 974.6 103.9 975.2 51.2 975.7 93.1 976.3 89.1 976.8 110.7 977.4 89.4 978.0 84.5 978.5 124.7 979.1 96.6 979.6 75.3 980.2 72.2 980.8 99.8 981.3 63.7 981.9 116.0 982.5 85.6 983.0 94.6 983.6 122.4 984.1 86.2 984.7 126.2 985.3 115.3 985.8 105.5 986.4 124.9 986.9 83.3 987.5 111.7 988.1 125.6 988.6 99.3 989.2 104.0 989.8 122.9 990.3 113.4 990.9 88.2 991.4 89.4 992.0 131.5 992.6 86.7 993.1 86.6 993.7 83.5 994.2 112.0 994.8 117.1 995.4 105.3 995.9 115.0 996.5 108.1 997.1 114.1 997.6 108.6 998.2 112.2 998.7 103.0 999.3 100.7 999.9 108.1 1000.4 113.2 1001.0 75.5 1001.5 87.3 1002.1 95.0 1002.7 119.0 1003.2 92.6 1003.8 106.4 1004.4 93.2 1004.9 99.6 1005.5 59.5 1006.0 103.3 1006.6 121.4 1007.2 84.7 1007.7 83.5 1008.3 80.2 1008.8 149.5 1009.4 120.2 1010.0 118.2 1010.5 132.7 1011.1 101.8 1011.7 92.5 1012.2 85.2 1012.8 88.1 1013.3 103.8 1013.9 77.0 1014.5 99.9 1015.0 153.6 1015.6 110.0 1016.1 117.8 1016.7 98.7 1017.3 112.1 1017.8 110.5 1018.4 80.7 1019.0 118.2 1019.5 129.1 1020.1 100.7 1020.6 93.7 1021.2 107.1 1021.8 105.3 1022.3 115.6 1022.9 128.5 1023.4 118.7 1024.0 124.1 1024.6 83.8 1025.1 109.9 1025.7 80.7 1026.3 107.9 1026.8 121.6 1027.4 102.2 1027.9 102.0 1028.5 82.1 1029.1 141.2 1029.6 113.0 1030.2 98.4 1030.8 118.8 1031.3 103.4 1031.9 110.7 1032.4 80.4 1033.0 83.4 1033.6 141.7 1034.1 132.6 1034.7 119.5 1035.2 106.7 1035.8 108.3 1036.4 114.5 1036.9 94.8 1037.5 90.1 1038.1 103.7 1038.6 110.6 1039.2 104.7 1039.7 120.0 1040.3 90.8 1040.9 90.7 1041.4 121.6 1042.0 79.7 1042.5 106.2 1043.1 90.8 1043.7 105.3 1044.2 108.5 1044.8 92.7 1045.4 122.4 1045.9 109.6 1046.5 126.2 1047.0 96.6 1047.6 109.3 1048.2 110.9 1048.7 114.5 1049.3 93.9 1049.8 100.6 1050.4 109.1 1051.0 113.4 1051.5 73.8 1052.1 78.8 1052.7 124.9 1053.2 84.0 1053.8 95.9 1054.3 99.7 1054.9 97.6 1055.5 129.1 1056.0 61.8 1056.6 69.0 1057.1 104.3 1057.7 104.9 1058.3 102.4 1058.8 116.8 1059.4 95.6 1060.0 105.7 1060.5 124.0 1061.1 113.8 1061.6 116.7 1062.2 116.0 1062.8 111.3 1063.3 94.4 1063.9 112.8 1064.4 134.0 1065.0 80.3 1065.6 115.8 1066.1 80.2 1066.7 101.3 1067.3 96.0 1067.8 120.4 1068.4 103.9 1068.9 112.3 1069.5 106.6 1070.1 97.3 1070.6 112.4 1071.2 91.0 1071.7 130.4 1072.3 124.4 1072.9 98.0 1073.4 96.4 1074.0 86.8 1074.6 77.2 1075.1 97.6 1075.7 92.2 1076.2 100.9 1076.8 102.6 1077.4 107.0 1077.9 103.2 1078.5 115.0 1079.0 107.9 1079.6 91.2 1080.2 96.4 1080.7 85.1 1081.3 113.4 1081.9 111.4 1082.4 97.6 1083.0 120.1 1083.5 120.9 1084.1 94.4 1084.7 110.6 1085.2 90.3 1085.8 103.8 1086.3 113.0 1086.9 123.7 1087.5 84.6 1088.0 107.0 1088.6 121.1 1089.2 131.9 1089.7 127.5 1090.3 112.9 1090.8 84.3 1091.4 121.9 1092.0 100.9 1092.5 102.2 1093.1 164.1 1093.6 128.5 1094.2 92.1 1094.8 142.2 1095.3 86.8 1095.9 106.3 1096.5 135.9 1097.0 74.0 1097.6 108.8 1098.1 79.0 1098.7 103.0 1099.3 119.9 1099.8 87.1 1100.4 75.3 1101.0 84.4 1101.5 127.5 1102.1 95.8 1102.6 127.3 1103.2 117.2 1103.8 83.2 1104.3 131.8 1104.9 63.1 1105.4 133.9 1106.0 129.7 1106.6 93.6 1107.1 110.5 1107.7 109.4 1108.3 123.2 1108.8 94.0 1109.4 103.0 1109.9 108.4 1110.5 121.2 1111.1 133.3 1111.6 107.1 1112.2 145.3 1112.7 118.5 1113.3 95.9 1113.9 94.9 1114.4 114.2 1115.0 152.4 1115.6 97.3 1116.1 91.4 1116.7 105.9 1117.2 84.4 1117.8 88.8 1118.4 136.4 1118.9 110.9 1119.5 115.5 1120.0 79.2 1120.6 87.9 1121.2 104.8 1121.7 96.8 1122.3 91.3 1122.9 119.3 1123.4 110.0 1124.0 108.5 1124.5 114.2 1125.1 112.6 1125.7 102.7 1126.2 129.7 1126.8 127.1 1127.3 93.0 1127.9 79.9 1128.5 73.9 1129.0 137.9 1129.6 100.3 1130.2 121.7 1130.7 116.4 1131.3 110.9 1131.8 99.9 1132.4 97.0 1133.0 149.7 1133.5 117.6 1134.1 87.9 1134.6 104.8 1135.2 135.5 1135.8 124.4 1136.3 121.2 1136.9 89.3 1137.5 76.2 1138.0 126.5 1138.6 98.2 1139.1 112.2 1139.7 97.1 1140.3 111.3 1140.8 127.1 1141.4 118.7 1141.9 118.9 1142.5 81.6 1143.1 120.6 1143.6 97.5 1144.2 122.2 1144.8 119.2 1145.3 103.4 1145.9 117.5 1146.4 72.8 1147.0 84.2 1147.6 127.4 1148.1 98.4 1148.7 80.9 1149.2 128.7 1149.8 114.6 1150.4 81.3 1150.9 122.0 1151.5 96.3 1152.1 108.8 1152.6 104.3 1153.2 125.8 1153.7 108.7 1154.3 115.1 1154.9 76.5 1155.4 96.2 1156.0 105.5 1156.5 107.8 1157.1 95.4 1157.7 135.7 1158.2 125.2 1158.8 123.8 1159.4 121.7 1159.9 136.6 1160.5 98.5 1161.0 115.9 1161.6 85.5 1162.2 109.7 1162.7 114.2 1163.3 99.9 1163.8 100.0 1164.4 112.7 1165.0 97.4 1165.5 85.5 1166.1 115.6 1166.7 84.8 1167.2 111.1 1167.8 92.4 1168.3 108.4 1168.9 114.4 1169.5 102.4 1170.0 127.4 1170.6 135.8 1171.2 108.4 1171.7 111.9 1172.3 127.4 1172.8 70.4 1173.4 100.4 1174.0 120.4 1174.5 98.6 1175.1 98.1 1175.6 114.5 1176.2 111.9 1176.8 140.3 1177.3 103.7 1177.9 74.5 1178.5 87.5 1179.0 89.3 1179.6 117.9 1180.1 126.6 1180.7 92.1 1181.3 102.4 1181.8 111.1 1182.4 113.2 1182.9 91.1 1183.5 96.6 1184.1 115.9 1184.6 109.6 1185.2 136.9 1185.8 128.3 1186.3 97.7 1186.9 115.7 1187.4 122.8 1188.0 102.9 1188.6 85.5 1189.1 122.4 1189.7 113.3 1190.2 112.1 1190.8 64.8 1191.4 89.7 1191.9 103.0 1192.5 132.6 1193.1 94.3 1193.6 97.6 1194.2 111.1 1194.7 120.8 1195.3 115.5 1195.9 136.6 1196.4 114.4 1197.0 115.7 1197.5 123.6 1198.1 113.3 1198.7 135.3 1199.2 87.9 1199.8 110.5 1200.4 128.4 1200.9 94.3 1201.5 98.0 1202.0 116.5" fill="none" stroke="#2a2eec" stroke-opacity="0.35" stroke-width="1.5" stroke-dasharray="9.6 2.4 1.5 2.4" clip-path="url(#cR1)"/>
<path d="M641.0 329.7 641.6 307.0 642.1 297.4 642.7 294.2 643.2 289.2 643.8 290.4 644.4 332.6 644.9 303.7 645.5 339.7 646.1 288.4 646.6 298.6 647.2 288.7 647.7 305.2 648.3 306.0 648.9 315.8 649.4 356.2 650.0 309.6 650.5 259.4 651.1 282.7 651.7 309.9 652.2 300.0 652.8 297.8 653.4 316.3 653.9 305.9 654.5 299.6 655.0 314.8 655.6 297.5 656.2 283.5 656.7 290.7 657.3 300.7 657.8 308.7 658.4 292.5 659.0 315.3 659.5 317.1 660.1 282.6 660.7 312.2 661.2 330.0 661.8 290.2 662.3 292.5 662.9 285.2 663.5 307.2 664.0 284.7 664.6 307.7 665.1 323.6 665.7 308.6 666.3 300.8 666.8 324.9 667.4 308.5 668.0 300.7 668.5 312.8 669.1 303.7 669.6 305.7 670.2 319.6 670.8 299.1 671.3 294.7 671.9 341.1 672.4 317.2 673.0 290.3 673.6 296.8 674.1 338.9 674.7 300.6 675.3 279.7 675.8 375.3 676.4 290.9 676.9 306.6 677.5 303.1 678.1 325.1 678.6 304.2 679.2 263.1 679.8 304.8 680.3 320.9 680.9 294.9 681.4 340.9 682.0 263.5 682.6 293.1 683.1 309.0 683.7 310.8 684.2 320.5 684.8 302.1 685.4 303.4 685.9 332.0 686.5 286.2 687.1 310.5 687.6 323.6 688.2 287.2 688.7 290.6 689.3 314.2 689.9 315.6 690.4 284.3 691.0 311.0 691.5 300.2 692.1 279.3 692.7 325.6 693.2 330.8 693.8 319.0 694.4 314.1 694.9 303.2 695.5 286.1 696.0 311.3 696.6 273.2 697.2 299.6 697.7 339.0 698.3 304.1 698.8 290.6 699.4 283.7 700.0 316.2 700.5 305.2 701.1 263.3 701.7 300.6 702.2 319.8 702.8 330.5 703.3 311.1 703.9 296.6 704.5 323.0 705.0 278.8 705.6 316.6 706.1 337.4 706.7 291.5 707.3 302.5 707.8 307.2 708.4 280.2 709.0 313.8 709.5 290.4 710.1 312.6 710.6 273.6 711.2 302.9 711.8 302.5 712.3 292.3 712.9 304.4 713.4 294.7 714.0 307.1 714.6 291.7 715.1 301.7 715.7 312.5 716.3 292.6 716.8 294.4 717.4 321.8 717.9 308.2 718.5 332.8 719.1 300.9 719.6 287.8 720.2 259.4 720.7 297.6 721.3 284.0 721.9 276.4 722.4 289.7 723.0 336.1 723.6 311.0 724.1 296.6 724.7 297.4 725.2 300.5 725.8 318.8 726.4 336.1 726.9 296.0 727.5 282.0 728.0 311.2 728.6 292.8 729.2 312.2 729.7 305.2 730.3 313.0 730.9 287.9 731.4 319.1 732.0 300.1 732.5 286.5 733.1 303.0 733.7 324.6 734.2 295.7 734.8 305.9 735.3 325.7 735.9 305.9 736.5 307.9 737.0 291.8 737.6 311.3 738.2 301.0 738.7 291.9 739.3 336.7 739.8 285.3 740.4 302.5 741.0 320.5 741.5 300.4 742.1 284.4 742.6 315.0 743.2 312.6 743.8 278.5 744.3 274.9 744.9 267.4 745.5 302.0 746.0 319.6 746.6 319.8 747.1 308.6 747.7 320.5 748.3 295.0 748.8 280.3 749.4 321.7 750.0 276.5 750.5 318.8 751.1 315.1 751.6 327.3 752.2 289.8 752.8 304.3 753.3 302.3 753.9 354.3 754.4 313.3 755.0 297.4 755.6 351.8 756.1 267.9 756.7 297.1 757.3 283.3 757.8 308.1 758.4 286.4 758.9 279.8 759.5 256.8 760.1 320.9 760.6 265.2 761.2 321.4 761.7 299.3 762.3 309.0 762.9 305.1 763.4 336.4 764.0 307.1 764.6 323.2 765.1 305.4 765.7 297.1 766.2 300.6 766.8 303.5 767.4 276.8 767.9 295.7 768.5 290.9 769.0 277.6 769.6 302.7 770.2 299.6 770.7 289.5 771.3 306.2 771.9 279.1 772.4 312.7 773.0 305.3 773.5 304.0 774.1 307.2 774.7 301.8 775.2 310.1 775.8 344.0 776.3 281.1 776.9 309.4 777.5 288.6 778.0 320.9 778.6 291.3 779.2 324.9 779.7 275.9 780.3 304.3 780.8 309.9 781.4 353.1 782.0 342.6 782.5 311.2 783.1 313.7 783.6 313.6 784.2 311.7 784.8 285.4 785.3 309.9 785.9 309.9 786.5 316.1 787.0 321.9 787.6 296.2 788.1 310.4 788.7 309.6 789.3 297.6 789.8 301.8 790.4 288.8 790.9 289.6 791.5 325.8 792.1 316.9 792.6 285.6 793.2 309.6 793.8 291.5 794.3 318.5 794.9 346.2 795.4 342.0 796.0 315.1 796.6 310.4 797.1 260.7 797.7 289.2 798.2 290.1 798.8 286.1 799.4 331.1 799.9 301.4 800.5 304.3 801.1 267.2 801.6 314.8 802.2 328.4 802.7 300.9 803.3 305.6 803.9 300.4 804.4 297.9 805.0 299.2 805.5 313.3 806.1 309.8 806.7 260.6 807.2 313.0 807.8 292.8 808.4 319.7 808.9 332.4 809.5 285.6 810.0 298.0 810.6 277.7 811.2 282.3 811.7 296.5 812.3 314.3 812.8 266.2 813.4 299.3 814.0 262.0 814.5 287.5 815.1 283.6 815.7 288.6 816.2 291.3 816.8 303.0 817.3 257.5 817.9 315.0 818.5 326.1 819.0 293.7 819.6 310.7 820.2 281.6 820.7 302.2 821.3 277.9 821.8 297.2 822.4 312.9 823.0 304.8 823.5 286.6 824.1 310.0 824.6 313.9 825.2 302.4 825.8 293.6 826.3 277.3 826.9 291.6 827.5 283.9 828.0 302.6 828.6 266.4 829.1 260.4 829.7 310.9 830.3 295.0 830.8 301.5 831.4 293.6 831.9 304.8 832.5 311.8 833.1 322.5 833.6 308.4 834.2 299.2 834.8 281.1 835.3 289.4 835.9 306.9 836.4 311.2 837.0 326.3 837.6 287.4 838.1 297.9 838.7 288.9 839.2 286.2 839.8 290.0 840.4 301.5 840.9 304.9 841.5 317.6 842.1 311.2 842.6 292.4 843.2 259.9 843.7 307.2 844.3 295.9 844.9 243.3 845.4 298.4 846.0 306.3 846.5 300.1 847.1 304.7 847.7 334.8 848.2 285.8 848.8 332.3 849.4 310.9 849.9 308.7 850.5 293.3 851.0 305.2 851.6 310.0 852.2 317.1 852.7 297.6 853.3 308.0 853.8 315.0 854.4 326.1 855.0 317.8 855.5 300.0 856.1 330.6 856.7 300.4 857.2 301.3 857.8 282.5 858.3 315.3 858.9 320.5 859.5 305.1 860.0 310.3 860.6 349.9 861.1 282.3 861.7 299.3 862.3 301.2 862.8 318.1 863.4 297.2 864.0 308.8 864.5 275.4 865.1 291.3 865.6 278.3 866.2 325.5 866.8 319.3 867.3 311.1 867.9 314.6 868.4 275.1 869.0 297.2 869.6 322.7 870.1 308.4 870.7 271.1 871.3 309.1 871.8 292.7 872.4 334.2 872.9 313.6 873.5 306.4 874.1 308.2 874.6 303.6 875.2 297.4 875.7 283.2 876.3 334.7 876.9 302.6 877.4 291.1 878.0 299.5 878.6 283.3 879.1 305.9 879.7 311.3 880.2 318.3 880.8 287.5 881.4 326.5 881.9 311.4 882.5 304.5 883.0 292.8 883.6 309.0 884.2 320.5 884.7 293.5 885.3 324.2 885.9 316.9 886.4 339.7 887.0 301.0 887.5 301.7 888.1 335.2 888.7 308.4 889.2 294.4 889.8 316.3 890.4 334.2 890.9 306.3 891.5 293.7 892.0 337.7 892.6 289.5 893.2 305.8 893.7 288.3 894.3 323.1 894.8 288.1 895.4 299.0 896.0 290.7 896.5 303.3 897.1 287.1 897.7 307.6 898.2 312.3 898.8 322.9 899.3 332.3 899.9 303.3 900.5 310.6 901.0 306.4 901.6 309.6 902.1 298.5 902.7 303.8 903.3 315.1 903.8 291.2 904.4 267.0 905.0 320.1 905.5 312.3 906.1 294.7 906.6 317.3 907.2 286.2 907.8 316.4 908.3 325.6 908.9 321.0 909.4 285.4 910.0 340.0 910.6 301.8 911.1 342.1 911.7 290.8 912.3 296.7 912.8 291.9 913.4 265.4 913.9 304.4 914.5 282.4 915.1 292.2 915.6 284.0 916.2 315.8 916.7 282.3 917.3 307.7 917.9 275.5 918.4 284.9 919.0 300.3 919.6 290.7 920.1 291.5 920.7 296.9 921.2 253.1 921.8 315.5 922.4 325.0 922.9 324.2 923.5 304.9 924.0 301.3 924.6 288.2 925.2 282.7 925.7 295.8 926.3 297.5 926.9 316.8 927.4 282.1 928.0 275.4 928.5 302.0 929.1 287.1 929.7 311.1 930.2 300.2 930.8 298.0 931.3 284.4 931.9 325.7 932.5 298.6 933.0 283.8 933.6 293.7 934.2 288.0 934.7 344.5 935.3 315.5 935.8 307.8 936.4 313.9 937.0 342.3 937.5 281.5 938.1 236.9 938.6 335.5 939.2 309.6 939.8 300.4 940.3 283.9 940.9 289.2 941.5 319.4 942.0 313.0 942.6 297.3 943.1 283.8 943.7 309.4 944.3 312.8 944.8 291.2 945.4 299.1 945.9 277.1 946.5 293.0 947.1 283.8 947.6 337.0 948.2 326.2 948.8 329.4 949.3 314.3 949.9 295.8 950.4 307.1 951.0 293.2 951.6 315.9 952.1 284.8 952.7 287.2 953.2 333.6 953.8 321.8 954.4 313.8 954.9 288.0 955.5 288.7 956.1 270.5 956.6 330.0 957.2 299.0 957.7 303.3 958.3 308.1 958.9 305.6 959.4 340.5 960.0 297.9 960.6 310.9 961.1 326.0 961.7 277.9 962.2 315.9 962.8 299.2 963.4 315.9 963.9 331.5 964.5 311.8 965.0 297.8 965.6 321.7 966.2 294.4 966.7 272.6 967.3 281.8 967.9 308.9 968.4 317.6 969.0 286.6 969.5 328.4 970.1 321.9 970.7 271.7 971.2 295.9 971.8 293.8 972.3 307.9 972.9 251.0 973.5 245.5 974.0 304.8 974.6 286.9 975.2 307.1 975.7 293.4 976.3 277.4 976.8 278.2 977.4 305.8 978.0 294.1 978.5 249.7 979.1 283.7 979.6 275.0 980.2 290.6 980.8 302.9 981.3 321.0 981.9 318.9 982.5 331.4 983.0 321.0 983.6 317.1 984.1 287.8 984.7 331.5 985.3 293.5 985.8 337.1 986.4 253.6 986.9 311.7 987.5 298.4 988.1 269.1 988.6 304.7 989.2 299.3 989.8 298.5 990.3 291.0 990.9 310.3 991.4 269.1 992.0 280.2 992.6 298.5 993.1 278.7 993.7 303.0 994.2 310.8 994.8 303.0 995.4 292.6 995.9 329.4 996.5 307.1 997.1 292.9 997.6 321.4 998.2 295.2 998.7 321.5 999.3 297.6 999.9 302.7 1000.4 295.0 1001.0 314.8 1001.5 337.6 1002.1 349.1 1002.7 233.1 1003.2 328.6 1003.8 317.7 1004.4 332.2 1004.9 276.2 1005.5 288.5 1006.0 286.0 1006.6 322.7 1007.2 283.0 1007.7 315.8 1008.3 279.0 1008.8 303.4 1009.4 344.3 1010.0 303.9 1010.5 318.1 1011.1 257.3 1011.7 326.5 1012.2 307.6 1012.8 307.3 1013.3 317.7 1013.9 315.7 1014.5 303.3 1015.0 295.9 1015.6 310.2 1016.1 307.4 1016.7 302.4 1017.3 320.0 1017.8 306.9 1018.4 301.9 1019.0 283.6 1019.5 290.0 1020.1 293.4 1020.6 285.6 1021.2 316.9 1021.8 281.7 1022.3 309.5 1022.9 305.3 1023.4 310.3 1024.0 290.6 1024.6 314.6 1025.1 292.1 1025.7 309.3 1026.3 312.1 1026.8 295.7 1027.4 318.7 1027.9 281.1 1028.5 316.2 1029.1 311.9 1029.6 281.2 1030.2 330.3 1030.8 286.7 1031.3 302.0 1031.9 301.6 1032.4 299.7 1033.0 320.0 1033.6 273.2 1034.1 293.5 1034.7 291.4 1035.2 288.6 1035.8 285.7 1036.4 297.8 1036.9 320.7 1037.5 327.1 1038.1 328.4 1038.6 311.9 1039.2 285.4 1039.7 327.6 1040.3 310.2 1040.9 292.9 1041.4 310.1 1042.0 308.7 1042.5 323.5 1043.1 301.0 1043.7 314.8 1044.2 316.9 1044.8 311.5 1045.4 297.5 1045.9 286.5 1046.5 325.3 1047.0 295.3 1047.6 324.4 1048.2 338.3 1048.7 316.4 1049.3 303.3 1049.8 305.3 1050.4 297.5 1051.0 341.1 1051.5 278.9 1052.1 289.3 1052.7 292.1 1053.2 333.3 1053.8 295.9 1054.3 313.3 1054.9 313.0 1055.5 303.9 1056.0 333.2 1056.6 284.4 1057.1 285.5 1057.7 289.4 1058.3 278.5 1058.8 334.7 1059.4 309.3 1060.0 310.1 1060.5 326.4 1061.1 289.1 1061.6 257.4 1062.2 322.8 1062.8 293.2 1063.3 302.2 1063.9 300.8 1064.4 301.7 1065.0 291.1 1065.6 314.9 1066.1 310.8 1066.7 273.5 1067.3 303.2 1067.8 303.6 1068.4 335.2 1068.9 295.0 1069.5 292.4 1070.1 298.6 1070.6 275.1 1071.2 339.4 1071.7 287.5 1072.3 333.1 1072.9 322.7 1073.4 339.7 1074.0 289.0 1074.6 306.3 1075.1 312.0 1075.7 303.5 1076.2 342.2 1076.8 315.5 1077.4 300.8 1077.9 315.2 1078.5 305.7 1079.0 333.2 1079.6 301.6 1080.2 310.2 1080.7 300.8 1081.3 276.6 1081.9 303.5 1082.4 315.8 1083.0 297.9 1083.5 325.1 1084.1 275.4 1084.7 305.0 1085.2 304.8 1085.8 296.2 1086.3 327.9 1086.9 305.6 1087.5 309.4 1088.0 266.6 1088.6 279.4 1089.2 272.4 1089.7 304.6 1090.3 302.7 1090.8 286.4 1091.4 317.8 1092.0 322.1 1092.5 277.3 1093.1 296.9 1093.6 297.0 1094.2 336.4 1094.8 313.3 1095.3 314.0 1095.9 318.3 1096.5 299.7 1097.0 322.2 1097.6 326.8 1098.1 270.4 1098.7 296.9 1099.3 324.0 1099.8 267.1 1100.4 295.1 1101.0 298.8 1101.5 353.8 1102.1 278.0 1102.6 301.7 1103.2 282.3 1103.8 273.5 1104.3 327.5 1104.9 270.5 1105.4 289.0 1106.0 301.9 1106.6 345.2 1107.1 268.3 1107.7 297.8 1108.3 292.5 1108.8 325.0 1109.4 292.6 1109.9 293.2 1110.5 276.5 1111.1 320.2 1111.6 342.7 1112.2 314.7 1112.7 321.6 1113.3 298.8 1113.9 306.6 1114.4 299.9 1115.0 280.7 1115.6 273.2 1116.1 302.6 1116.7 332.3 1117.2 304.0 1117.8 307.6 1118.4 305.5 1118.9 306.7 1119.5 304.6 1120.0 343.7 1120.6 294.5 1121.2 295.3 1121.7 298.4 1122.3 306.7 1122.9 288.5 1123.4 335.1 1124.0 306.8 1124.5 294.5 1125.1 313.1 1125.7 306.3 1126.2 287.0 1126.8 308.2 1127.3 320.9 1127.9 313.8 1128.5 298.7 1129.0 323.9 1129.6 305.0 1130.2 312.5 1130.7 304.2 1131.3 291.7 1131.8 292.2 1132.4 304.0 1133.0 301.2 1133.5 291.2 1134.1 319.0 1134.6 302.4 1135.2 325.6 1135.8 283.0 1136.3 303.3 1136.9 327.9 1137.5 313.6 1138.0 291.6 1138.6 299.9 1139.1 334.3 1139.7 273.7 1140.3 300.8 1140.8 298.1 1141.4 310.2 1141.9 319.1 1142.5 331.4 1143.1 301.9 1143.6 305.0 1144.2 309.1 1144.8 291.1 1145.3 298.8 1145.9 322.7 1146.4 311.8 1147.0 284.6 1147.6 328.9 1148.1 266.6 1148.7 314.1 1149.2 258.7 1149.8 296.4 1150.4 332.6 1150.9 296.1 1151.5 302.6 1152.1 311.6 1152.6 303.1 1153.2 303.1 1153.7 361.8 1154.3 291.0 1154.9 309.1 1155.4 303.6 1156.0 291.3 1156.5 304.1 1157.1 325.7 1157.7 289.4 1158.2 309.6 1158.8 299.7 1159.4 316.7 1159.9 306.7 1160.5 321.5 1161.0 275.9 1161.6 322.6 1162.2 286.7 1162.7 337.2 1163.3 299.3 1163.8 308.9 1164.4 286.3 1165.0 299.6 1165.5 263.3 1166.1 251.6 1166.7 313.4 1167.2 291.3 1167.8 320.5 1168.3 320.9 1168.9 304.7 1169.5 287.8 1170.0 291.9 1170.6 306.8 1171.2 283.5 1171.7 324.4 1172.3 319.5 1172.8 304.7 1173.4 335.7 1174.0 279.4 1174.5 305.7 1175.1 309.2 1175.6 295.4 1176.2 327.1 1176.8 305.2 1177.3 333.4 1177.9 306.0 1178.5 300.9 1179.0 274.6 1179.6 302.8 1180.1 278.8 1180.7 303.2 1181.3 331.8 1181.8 289.5 1182.4 301.7 1182.9 313.3 1183.5 286.4 1184.1 321.8 1184.6 309.9 1185.2 290.4 1185.8 287.9 1186.3 314.7 1186.9 297.6 1187.4 301.6 1188.0 291.9 1188.6 307.2 1189.1 340.9 1189.7 309.7 1190.2 276.1 1190.8 318.1 1191.4 306.7 1191.9 288.3 1192.5 307.2 1193.1 322.4 1193.6 303.6 1194.2 306.6 1194.7 318.6 1195.3 305.9 1195.9 327.9 1196.4 331.1 1197.0 323.2 1197.5 306.4 1198.1 303.0 1198.7 313.8 1199.2 283.6 1199.8 292.3 1200.4 302.1 1200.9 282.7 1201.5 276.4 1202.0 290.3" fill="none" stroke="#2a2eec" stroke-opacity="0.35" stroke-width="1.5" clip-path="url(#cR2)"/>
<path d="M641.0 312.9 641.6 287.7 642.1 281.6 642.7 295.3 643.2 304.7 643.8 297.8 644.4 296.7 644.9 335.4 645.5 274.4 646.1 301.8 646.6 267.1 647.2 301.4 647.7 317.0 648.3 287.8 648.9 301.0 649.4 286.7 650.0 310.3 650.5 310.7 651.1 314.8 651.7 314.9 652.2 295.1 652.8 325.3 653.4 299.5 653.9 283.3 654.5 319.9 655.0 306.8 655.6 316.7 656.2 309.8 656.7 300.4 657.3 290.6 657.8 287.2 658.4 314.9 659.0 291.0 659.5 314.1 660.1 323.7 660.7 320.4 661.2 337.9 661.8 302.6 662.3 336.1 662.9 299.8 663.5 256.2 664.0 319.9 664.6 340.8 665.1 296.8 665.7 322.1 666.3 304.1 666.8 303.5 667.4 299.3 668.0 262.4 668.5 297.6 669.1 298.5 669.6 304.8 670.2 316.1 670.8 314.2 671.3 321.8 671.9 287.5 672.4 305.6 673.0 290.9 673.6 296.9 674.1 262.7 674.7 304.3 675.3 291.5 675.8 313.3 676.4 281.7 676.9 305.8 677.5 301.5 678.1 326.6 678.6 292.1 679.2 272.2 679.8 277.7 680.3 321.3 680.9 285.9 681.4 314.5 682.0 331.3 682.6 324.1 683.1 279.3 683.7 307.3 684.2 323.5 684.8 295.4 685.4 295.8 685.9 307.2 686.5 292.9 687.1 308.4 687.6 279.6 688.2 287.9 688.7 302.9 689.3 295.4 689.9 285.7 690.4 303.7 691.0 292.5 691.5 304.1 692.1 307.8 692.7 336.3 693.2 324.5 693.8 320.5 694.4 301.5 694.9 255.4 695.5 319.5 696.0 310.7 696.6 325.9 697.2 309.9 697.7 307.0 698.3 290.6 698.8 327.9 699.4 294.1 700.0 298.7 700.5 308.5 701.1 325.5 701.7 322.1 702.2 306.8 702.8 293.0 703.3 305.1 703.9 316.8 704.5 298.1 705.0 322.0 705.6 289.0 706.1 250.4 706.7 313.5 707.3 284.4 707.8 320.5 708.4 301.4 709.0 293.4 709.5 281.2 710.1 302.3 710.6 278.5 711.2 325.6 711.8 306.6 712.3 302.9 712.9 301.2 713.4 305.1 714.0 269.4 714.6 309.7 715.1 284.4 715.7 295.0 716.3 265.6 716.8 306.5 717.4 289.5 717.9 292.0 718.5 360.4 719.1 295.0 719.6 283.5 720.2 274.5 720.7 321.3 721.3 305.6 721.9 279.8 722.4 322.2 723.0 316.4 723.6 291.2 724.1 289.4 724.7 277.6 725.2 281.4 725.8 297.9 726.4 320.6 726.9 313.4 727.5 301.7 728.0 294.8 728.6 300.6 729.2 287.1 729.7 315.1 730.3 309.2 730.9 324.8 731.4 265.1 732.0 304.2 732.5 283.6 733.1 278.3 733.7 294.7 734.2 304.5 734.8 310.2 735.3 305.8 735.9 332.4 736.5 310.8 737.0 287.3 737.6 295.8 738.2 286.0 738.7 286.6 739.3 288.2 739.8 299.0 740.4 297.6 741.0 284.4 741.5 307.6 742.1 325.5 742.6 286.0 743.2 300.5 743.8 281.6 744.3 313.0 744.9 331.1 745.5 304.4 746.0 312.9 746.6 318.7 747.1 273.5 747.7 296.3 748.3 322.6 748.8 330.3 749.4 303.2 750.0 290.8 750.5 296.3 751.1 280.3 751.6 295.5 752.2 292.8 752.8 335.7 753.3 278.2 753.9 311.2 754.4 284.5 755.0 329.3 755.6 317.6 756.1 280.0 756.7 323.6 757.3 298.2 757.8 308.3 758.4 269.8 758.9 294.2 759.5 277.8 760.1 301.7 760.6 331.8 761.2 264.4 761.7 311.4 762.3 300.2 762.9 301.8 763.4 329.6 764.0 288.3 764.6 308.1 765.1 333.0 765.7 328.2 766.2 342.5 766.8 315.7 767.4 305.2 767.9 319.0 768.5 302.5 769.0 308.3 769.6 292.8 770.2 302.1 770.7 305.1 771.3 316.8 771.9 323.6 772.4 318.6 773.0 295.5 773.5 311.0 774.1 275.9 774.7 287.6 775.2 326.9 775.8 294.3 776.3 279.9 776.9 314.1 777.5 280.1 778.0 315.6 778.6 273.7 779.2 292.6 779.7 306.5 780.3 332.6 780.8 304.4 781.4 316.1 782.0 295.8 782.5 318.5 783.1 293.8 783.6 311.1 784.2 291.8 784.8 287.5 785.3 299.2 785.9 293.4 786.5 282.5 787.0 319.6 787.6 291.5 788.1 297.9 788.7 273.2 789.3 305.5 789.8 284.5 790.4 333.0 790.9 279.7 791.5 294.6 792.1 295.3 792.6 286.0 793.2 325.0 793.8 306.3 794.3 300.8 794.9 307.9 795.4 311.7 796.0 284.9 796.6 301.7 797.1 306.7 797.7 301.5 798.2 278.4 798.8 268.6 799.4 282.6 799.9 293.2 800.5 326.6 801.1 312.6 801.6 319.2 802.2 319.4 802.7 280.7 803.3 313.3 803.9 277.4 804.4 300.3 805.0 304.7 805.5 306.0 806.1 328.1 806.7 309.7 807.2 286.9 807.8 289.9 808.4 299.5 808.9 290.0 809.5 299.5 810.0 295.1 810.6 258.8 811.2 299.7 811.7 333.6 812.3 340.5 812.8 315.5 813.4 298.4 814.0 284.5 814.5 302.7 815.1 299.8 815.7 291.3 816.2 319.9 816.8 303.1 817.3 296.2 817.9 309.4 818.5 317.2 819.0 292.7 819.6 282.4 820.2 300.9 820.7 344.6 821.3 316.5 821.8 310.0 822.4 294.5 823.0 311.0 823.5 310.3 824.1 284.9 824.6 279.8 825.2 301.2 825.8 322.5 826.3 324.7 826.9 291.2 827.5 316.9 828.0 303.4 828.6 306.3 829.1 300.3 829.7 296.9 830.3 321.6 830.8 314.7 831.4 299.8 831.9 302.6 832.5 327.6 833.1 268.7 833.6 328.3 834.2 284.4 834.8 332.6 835.3 285.9 835.9 335.2 836.4 286.8 837.0 300.3 837.6 289.0 838.1 316.9 838.7 298.7 839.2 299.0 839.8 300.5 840.4 313.5 840.9 279.0 841.5 336.1 842.1 331.2 842.6 329.9 843.2 277.8 843.7 319.4 844.3 316.7 844.9 316.6 845.4 309.2 846.0 308.2 846.5 312.3 847.1 330.9 847.7 296.0 848.2 303.5 848.8 276.2 849.4 296.0 849.9 304.9 850.5 329.3 851.0 301.9 851.6 292.6 852.2 273.3 852.7 296.2 853.3 288.9 853.8 292.5 854.4 273.9 855.0 282.6 855.5 302.3 856.1 329.4 856.7 273.7 857.2 301.6 857.8 317.7 858.3 329.2 858.9 335.2 859.5 298.5 860.0 306.3 860.6 297.7 861.1 281.3 861.7 314.4 862.3 298.0 862.8 312.9 863.4 319.0 864.0 343.7 864.5 317.5 865.1 283.6 865.6 312.6 866.2 297.8 866.8 301.1 867.3 266.5 867.9 276.6 868.4 314.8 869.0 310.9 869.6 282.4 870.1 298.7 870.7 301.0 871.3 281.6 871.8 292.5 872.4 299.9 872.9 247.7 873.5 295.2 874.1 326.9 874.6 296.5 875.2 297.7 875.7 271.9 876.3 296.5 876.9 313.9 877.4 295.8 878.0 324.7 878.6 309.2 879.1 296.1 879.7 318.1 880.2 339.2 880.8 321.6 881.4 317.6 881.9 292.6 882.5 311.6 883.0 304.4 883.6 320.2 884.2 302.1 884.7 314.7 885.3 293.2 885.9 299.2 886.4 277.4 887.0 293.0 887.5 309.5 888.1 319.4 888.7 299.9 889.2 290.5 889.8 275.7 890.4 313.8 890.9 327.7 891.5 337.0 892.0 322.1 892.6 307.7 893.2 309.2 893.7 310.0 894.3 305.2 894.8 298.5 895.4 334.8 896.0 303.7 896.5 307.7 897.1 307.9 897.7 312.6 898.2 338.5 898.8 296.4 899.3 313.5 899.9 307.1 900.5 299.4 901.0 304.2 901.6 297.5 902.1 297.2 902.7 321.6 903.3 325.5 903.8 290.2 904.4 318.9 905.0 266.0 905.5 324.8 906.1 302.1 906.6 306.2 907.2 300.2 907.8 321.9 908.3 299.2 908.9 269.2 909.4 315.0 910.0 344.8 910.6 293.6 911.1 297.7 911.7 293.1 912.3 319.7 912.8 297.8 913.4 289.3 913.9 313.9 914.5 304.3 915.1 295.9 915.6 291.8 916.2 309.4 916.7 301.6 917.3 269.4 917.9 268.9 918.4 324.0 919.0 266.1 919.6 311.9 920.1 286.1 920.7 327.3 921.2 308.7 921.8 316.9 922.4 290.6 922.9 301.6 923.5 297.5 924.0 298.2 924.6 301.8 925.2 288.9 925.7 303.2 926.3 307.0 926.9 316.8 927.4 321.6 928.0 315.1 928.5 299.0 929.1 287.3 929.7 307.8 930.2 269.8 930.8 283.2 931.3 304.8 931.9 299.3 932.5 305.9 933.0 338.4 933.6 290.9 934.2 301.7 934.7 335.6 935.3 289.8 935.8 315.6 936.4 309.9 937.0 336.4 937.5 306.3 938.1 298.0 938.6 313.3 939.2 305.9 939.8 339.6 940.3 296.4 940.9 306.7 941.5 306.6 942.0 293.9 942.6 287.4 943.1 307.3 943.7 289.7 944.3 273.1 944.8 325.5 945.4 304.4 945.9 335.1 946.5 299.8 947.1 281.5 947.6 308.5 948.2 326.7 948.8 315.8 949.3 298.8 949.9 333.0 950.4 331.5 951.0 297.9 951.6 330.6 952.1 304.9 952.7 325.3 953.2 334.9 953.8 291.6 954.4 285.9 954.9 320.2 955.5 264.7 956.1 303.1 956.6 296.4 957.2 302.5 957.7 325.2 958.3 287.1 958.9 303.0 959.4 296.3 960.0 302.7 960.6 312.4 961.1 263.0 961.7 297.3 962.2 309.3 962.8 293.2 963.4 327.0 963.9 298.5 964.5 256.4 965.0 317.2 965.6 296.2 966.2 326.3 966.7 304.5 967.3 285.0 967.9 323.4 968.4 321.9 969.0 284.1 969.5 300.3 970.1 293.1 970.7 295.4 971.2 328.3 971.8 335.9 972.3 339.1 972.9 296.1 973.5 330.7 974.0 337.2 974.6 315.3 975.2 307.9 975.7 300.5 976.3 338.1 976.8 281.3 977.4 322.3 978.0 302.7 978.5 306.2 979.1 323.3 979.6 298.1 980.2 299.1 980.8 284.8 981.3 270.4 981.9 266.4 982.5 287.8 983.0 292.7 983.6 311.5 984.1 332.2 984.7 297.2 985.3 315.4 985.8 309.7 986.4 313.6 986.9 297.2 987.5 312.2 988.1 261.6 988.6 288.9 989.2 314.0 989.8 298.0 990.3 279.2 990.9 326.3 991.4 300.7 992.0 314.2 992.6 303.5 993.1 313.5 993.7 301.2 994.2 296.2 994.8 293.1 995.4 331.4 995.9 291.6 996.5 303.9 997.1 316.0 997.6 305.5 998.2 275.1 998.7 307.2 999.3 320.2 999.9 291.4 1000.4 307.9 1001.0 291.3 1001.5 299.2 1002.1 279.1 1002.7 315.0 1003.2 310.9 1003.8 284.0 1004.4 272.9 1004.9 300.0 1005.5 281.7 1006.0 295.1 1006.6 303.6 1007.2 333.9 1007.7 265.4 1008.3 282.4 1008.8 345.1 1009.4 289.3 1010.0 314.6 1010.5 322.3 1011.1 314.2 1011.7 290.5 1012.2 304.9 1012.8 307.8 1013.3 307.0 1013.9 310.9 1014.5 294.3 1015.0 341.2 1015.6 328.2 1016.1 307.0 1016.7 325.4 1017.3 301.1 1017.8 310.9 1018.4 296.9 1019.0 307.1 1019.5 293.0 1020.1 304.0 1020.6 290.5 1021.2 310.1 1021.8 335.7 1022.3 303.3 1022.9 303.0 1023.4 312.4 1024.0 285.0 1024.6 293.6 1025.1 275.0 1025.7 309.8 1026.3 310.0 1026.8 293.5 1027.4 275.5 1027.9 315.3 1028.5 293.6 1029.1 303.1 1029.6 308.0 1030.2 285.8 1030.8 286.4 1031.3 289.4 1031.9 314.1 1032.4 302.3 1033.0 332.7 1033.6 292.5 1034.1 325.6 1034.7 307.1 1035.2 286.8 1035.8 306.5 1036.4 299.4 1036.9 314.2 1037.5 254.8 1038.1 324.0 1038.6 312.5 1039.2 304.4 1039.7 254.1 1040.3 311.9 1040.9 300.4 1041.4 286.8 1042.0 339.8 1042.5 284.9 1043.1 294.4 1043.7 273.3 1044.2 272.9 1044.8 291.4 1045.4 280.3 1045.9 312.1 1046.5 321.0 1047.0 304.4 1047.6 296.5 1048.2 305.7 1048.7 292.2 1049.3 288.4 1049.8 268.1 1050.4 302.6 1051.0 308.2 1051.5 291.0 1052.1 295.5 1052.7 288.9 1053.2 268.5 1053.8 314.3 1054.3 285.9 1054.9 274.7 1055.5 275.9 1056.0 326.1 1056.6 304.9 1057.1 276.0 1057.7 299.2 1058.3 291.3 1058.8 301.3 1059.4 275.9 1060.0 294.9 1060.5 304.6 1061.1 297.6 1061.6 274.1 1062.2 292.2 1062.8 329.0 1063.3 337.5 1063.9 287.5 1064.4 330.5 1065.0 297.9 1065.6 313.6 1066.1 297.0 1066.7 314.3 1067.3 344.2 1067.8 276.2 1068.4 302.4 1068.9 305.0 1069.5 273.6 1070.1 289.5 1070.6 282.2 1071.2 306.0 1071.7 300.0 1072.3 294.1 1072.9 313.2 1073.4 287.4 1074.0 294.5 1074.6 307.9 1075.1 309.6 1075.7 286.7 1076.2 305.4 1076.8 295.1 1077.4 297.2 1077.9 306.0 1078.5 360.3 1079.0 296.1 1079.6 287.9 1080.2 313.9 1080.7 314.4 1081.3 286.5 1081.9 323.9 1082.4 280.1 1083.0 292.1 1083.5 277.4 1084.1 302.9 1084.7 300.2 1085.2 297.0 1085.8 329.8 1086.3 317.9 1086.9 282.2 1087.5 314.3 1088.0 319.3 1088.6 296.2 1089.2 277.4 1089.7 303.0 1090.3 306.9 1090.8 302.5 1091.4 294.4 1092.0 330.2 1092.5 295.5 1093.1 294.7 1093.6 283.2 1094.2 282.6 1094.8 290.2 1095.3 265.7 1095.9 301.5 1096.5 303.6 1097.0 272.4 1097.6 299.4 1098.1 312.0 1098.7 311.3 1099.3 301.8 1099.8 325.8 1100.4 283.8 1101.0 296.0 1101.5 278.7 1102.1 319.9 1102.6 307.8 1103.2 313.1 1103.8 292.1 1104.3 294.6 1104.9 288.1 1105.4 289.0 1106.0 320.9 1106.6 296.6 1107.1 300.0 1107.7 301.9 1108.3 292.5 1108.8 335.4 1109.4 314.0 1109.9 306.7 1110.5 316.8 1111.1 322.6 1111.6 285.4 1112.2 286.4 1112.7 271.7 1113.3 318.8 1113.9 343.6 1114.4 290.7 1115.0 308.7 1115.6 321.9 1116.1 293.7 1116.7 304.6 1117.2 333.9 1117.8 301.7 1118.4 332.7 1118.9 294.0 1119.5 325.9 1120.0 330.8 1120.6 291.0 1121.2 287.1 1121.7 308.4 1122.3 324.3 1122.9 293.2 1123.4 301.6 1124.0 299.7 1124.5 310.9 1125.1 330.6 1125.7 312.5 1126.2 278.6 1126.8 315.9 1127.3 306.0 1127.9 305.0 1128.5 287.3 1129.0 299.0 1129.6 311.5 1130.2 270.6 1130.7 300.9 1131.3 298.5 1131.8 315.7 1132.4 330.9 1133.0 296.0 1133.5 310.1 1134.1 298.3 1134.6 343.4 1135.2 274.1 1135.8 303.2 1136.3 289.6 1136.9 322.9 1137.5 302.1 1138.0 301.1 1138.6 284.1 1139.1 289.9 1139.7 340.0 1140.3 300.0 1140.8 301.5 1141.4 309.5 1141.9 299.9 1142.5 293.4 1143.1 286.7 1143.6 323.9 1144.2 318.7 1144.8 302.9 1145.3 292.0 1145.9 320.7 1146.4 303.6 1147.0 326.1 1147.6 303.0 1148.1 306.8 1148.7 294.7 1149.2 279.2 1149.8 317.4 1150.4 296.1 1150.9 331.5 1151.5 298.1 1152.1 272.2 1152.6 330.8 1153.2 312.6 1153.7 359.7 1154.3 296.0 1154.9 264.7 1155.4 320.0 1156.0 297.5 1156.5 278.8 1157.1 317.0 1157.7 299.7 1158.2 316.9 1158.8 311.7 1159.4 302.8 1159.9 287.6 1160.5 299.1 1161.0 303.8 1161.6 306.2 1162.2 283.9 1162.7 294.1 1163.3 295.7 1163.8 336.0 1164.4 306.8 1165.0 322.1 1165.5 271.9 1166.1 291.0 1166.7 277.0 1167.2 317.7 1167.8 330.2 1168.3 317.2 1168.9 291.5 1169.5 315.0 1170.0 289.9 1170.6 278.6 1171.2 308.6 1171.7 285.0 1172.3 341.9 1172.8 324.8 1173.4 313.5 1174.0 308.7 1174.5 328.1 1175.1 309.2 1175.6 284.0 1176.2 287.5 1176.8 294.9 1177.3 318.9 1177.9 277.2 1178.5 290.8 1179.0 320.6 1179.6 284.9 1180.1 308.6 1180.7 292.7 1181.3 295.6 1181.8 291.9 1182.4 275.5 1182.9 257.2 1183.5 295.0 1184.1 299.8 1184.6 302.6 1185.2 293.6 1185.8 291.0 1186.3 324.9 1186.9 299.8 1187.4 260.4 1188.0 287.6 1188.6 282.0 1189.1 302.2 1189.7 262.7 1190.2 290.7 1190.8 306.8 1191.4 314.6 1191.9 292.7 1192.5 269.5 1193.1 313.0 1193.6 318.8 1194.2 342.7 1194.7 288.7 1195.3 320.7 1195.9 314.7 1196.4 320.6 1197.0 317.5 1197.5 287.8 1198.1 315.6 1198.7 298.9 1199.2 315.0 1199.8 308.6 1200.4 290.3 1200.9 290.4 1201.5 323.0 1202.0 301.7" fill="none" stroke="#2a2eec" stroke-opacity="0.35" stroke-width="1.5" stroke-dasharray="5.55 2.4" clip-path="url(#cR2)"/>
<path d="M641.0 319.1 641.6 289.5 642.1 313.4 642.7 319.0 643.2 287.5 643.8 312.5 644.4 300.1 644.9 289.6 645.5 312.1 646.1 308.2 646.6 291.8 647.2 261.9 647.7 291.9 648.3 289.3 648.9 302.0 649.4 303.2 650.0 275.8 650.5 315.8 651.1 315.1 651.7 276.0 652.2 316.5 652.8 324.9 653.4 293.9 653.9 284.6 654.5 271.0 655.0 262.8 655.6 343.0 656.2 306.0 656.7 308.2 657.3 295.7 657.8 317.7 658.4 301.7 659.0 297.4 659.5 298.9 660.1 317.7 660.7 298.1 661.2 318.1 661.8 317.7 662.3 307.1 662.9 288.0 663.5 338.6 664.0 303.5 664.6 277.5 665.1 299.7 665.7 312.1 666.3 297.9 666.8 274.0 667.4 305.5 668.0 315.2 668.5 288.7 669.1 307.3 669.6 315.2 670.2 287.7 670.8 317.8 671.3 308.1 671.9 278.6 672.4 299.9 673.0 279.7 673.6 334.9 674.1 329.9 674.7 316.9 675.3 305.2 675.8 337.4 676.4 298.9 676.9 312.8 677.5 312.3 678.1 302.4 678.6 307.6 679.2 324.8 679.8 307.2 680.3 324.7 680.9 279.3 681.4 311.4 682.0 307.9 682.6 315.0 683.1 302.6 683.7 298.9 684.2 305.5 684.8 322.0 685.4 283.0 685.9 303.6 686.5 337.1 687.1 343.8 687.6 323.6 688.2 324.4 688.7 333.4 689.3 320.8 689.9 297.4 690.4 280.8 691.0 299.3 691.5 297.3 692.1 282.7 692.7 263.9 693.2 282.6 693.8 292.4 694.4 305.8 694.9 321.5 695.5 295.6 696.0 281.7 696.6 297.7 697.2 313.1 697.7 292.7 698.3 304.9 698.8 314.1 699.4 339.1 700.0 293.5 700.5 315.3 701.1 282.4 701.7 314.8 702.2 301.8 702.8 313.5 703.3 271.4 703.9 278.7 704.5 303.5 705.0 277.4 705.6 325.8 706.1 291.4 706.7 313.2 707.3 305.7 707.8 311.5 708.4 292.4 709.0 335.5 709.5 311.5 710.1 278.3 710.6 344.2 711.2 306.9 711.8 327.3 712.3 351.5 712.9 295.9 713.4 311.8 714.0 280.0 714.6 336.9 715.1 296.2 715.7 274.2 716.3 336.5 716.8 291.2 717.4 290.3 717.9 299.1 718.5 277.5 719.1 290.6 719.6 315.7 720.2 316.6 720.7 305.2 721.3 272.8 721.9 305.0 722.4 286.4 723.0 305.1 723.6 291.1 724.1 292.8 724.7 280.2 725.2 269.2 725.8 311.4 726.4 323.2 726.9 303.8 727.5 302.9 728.0 297.4 728.6 284.0 729.2 309.8 729.7 302.0 730.3 301.8 730.9 281.9 731.4 309.8 732.0 280.2 732.5 266.7 733.1 305.9 733.7 275.9 734.2 291.8 734.8 302.8 735.3 264.9 735.9 278.9 736.5 307.1 737.0 291.1 737.6 313.6 738.2 326.5 738.7 282.1 739.3 301.1 739.8 271.1 740.4 298.2 741.0 296.1 741.5 303.0 742.1 298.0 742.6 315.4 743.2 305.3 743.8 332.9 744.3 334.2 744.9 326.1 745.5 312.6 746.0 302.9 746.6 304.6 747.1 279.9 747.7 256.4 748.3 345.5 748.8 275.0 749.4 284.4 750.0 312.0 750.5 298.7 751.1 337.1 751.6 305.8 752.2 273.0 752.8 323.4 753.3 312.6 753.9 299.9 754.4 289.5 755.0 301.0 755.6 311.5 756.1 290.0 756.7 312.5 757.3 258.2 757.8 279.2 758.4 299.9 758.9 316.6 759.5 312.2 760.1 315.3 760.6 308.1 761.2 294.3 761.7 325.6 762.3 299.1 762.9 301.9 763.4 319.5 764.0 278.8 764.6 293.4 765.1 296.3 765.7 312.6 766.2 315.6 766.8 301.6 767.4 328.9 767.9 295.8 768.5 323.0 769.0 302.8 769.6 290.3 770.2 307.3 770.7 314.2 771.3 316.1 771.9 300.0 772.4 322.8 773.0 303.6 773.5 285.1 774.1 337.0 774.7 317.2 775.2 297.9 775.8 323.0 776.3 321.8 776.9 325.3 777.5 287.6 778.0 341.9 778.6 305.5 779.2 307.1 779.7 303.2 780.3 317.7 780.8 302.2 781.4 313.0 782.0 319.2 782.5 257.1 783.1 285.5 783.6 323.4 784.2 316.6 784.8 296.0 785.3 277.9 785.9 307.4 786.5 291.0 787.0 300.2 787.6 282.6 788.1 313.5 788.7 317.6 789.3 298.8 789.8 298.8 790.4 302.9 790.9 281.6 791.5 291.2 792.1 301.6 792.6 324.7 793.2 291.2 793.8 288.0 794.3 315.1 794.9 305.0 795.4 323.4 796.0 301.3 796.6 307.4 797.1 335.4 797.7 303.4 798.2 309.4 798.8 309.5 799.4 284.7 799.9 294.7 800.5 287.6 801.1 309.1 801.6 279.0 802.2 317.1 802.7 290.0 803.3 330.1 803.9 299.3 804.4 321.6 805.0 329.4 805.5 291.2 806.1 299.8 806.7 294.2 807.2 302.5 807.8 298.4 808.4 303.8 808.9 306.0 809.5 301.0 810.0 261.7 810.6 321.2 811.2 330.0 811.7 319.5 812.3 315.0 812.8 293.2 813.4 283.0 814.0 282.1 814.5 306.5 815.1 289.6 815.7 269.1 816.2 290.8 816.8 278.8 817.3 319.6 817.9 286.1 818.5 287.6 819.0 324.1 819.6 301.4 820.2 290.8 820.7 318.1 821.3 285.8 821.8 284.5 822.4 296.6 823.0 304.0 823.5 305.6 824.1 295.4 824.6 281.9 825.2 326.6 825.8 298.8 826.3 297.7 826.9 318.0 827.5 325.6 828.0 306.4 828.6 332.8 829.1 298.5 829.7 307.7 830.3 322.5 830.8 302.5 831.4 318.1 831.9 315.8 832.5 281.6 833.1 316.8 833.6 349.1 834.2 297.5 834.8 321.8 835.3 319.2 835.9 275.2 836.4 304.4 837.0 288.3 837.6 328.2 838.1 322.0 838.7 318.4 839.2 290.3 839.8 315.5 840.4 338.3 840.9 289.9 841.5 312.9 842.1 301.9 842.6 289.8 843.2 264.4 843.7 304.2 844.3 274.9 844.9 328.3 845.4 300.5 846.0 298.1 846.5 343.6 847.1 321.3 847.7 316.7 848.2 294.6 848.8 312.4 849.4 311.1 849.9 315.8 850.5 295.2 851.0 304.6 851.6 304.9 852.2 307.7 852.7 291.1 853.3 316.2 853.8 303.7 854.4 302.9 855.0 296.3 855.5 284.9 856.1 296.8 856.7 327.0 857.2 284.8 857.8 280.8 858.3 279.6 858.9 286.8 859.5 330.4 860.0 304.5 860.6 287.8 861.1 287.3 861.7 303.6 862.3 299.6 862.8 321.5 863.4 294.6 864.0 339.1 864.5 305.7 865.1 284.4 865.6 323.2 866.2 278.8 866.8 266.3 867.3 292.2 867.9 310.8 868.4 310.2 869.0 323.2 869.6 288.3 870.1 321.4 870.7 298.0 871.3 321.0 871.8 291.7 872.4 326.2 872.9 303.6 873.5 314.3 874.1 283.1 874.6 308.6 875.2 304.3 875.7 281.1 876.3 321.4 876.9 323.8 877.4 302.7 878.0 320.0 878.6 271.6 879.1 299.2 879.7 297.2 880.2 307.8 880.8 358.4 881.4 279.0 881.9 304.1 882.5 338.4 883.0 321.4 883.6 302.5 884.2 279.8 884.7 296.0 885.3 295.5 885.9 296.2 886.4 318.2 887.0 314.1 887.5 301.8 888.1 326.2 888.7 301.5 889.2 290.2 889.8 344.7 890.4 306.3 890.9 307.1 891.5 300.5 892.0 270.8 892.6 327.1 893.2 267.4 893.7 290.0 894.3 257.7 894.8 309.0 895.4 295.7 896.0 304.5 896.5 293.2 897.1 318.3 897.7 316.4 898.2 305.4 898.8 290.8 899.3 325.9 899.9 308.4 900.5 313.7 901.0 297.2 901.6 287.5 902.1 329.3 902.7 320.7 903.3 308.9 903.8 320.8 904.4 277.1 905.0 272.2 905.5 289.1 906.1 293.4 906.6 322.6 907.2 320.1 907.8 295.1 908.3 276.0 908.9 309.1 909.4 297.6 910.0 273.8 910.6 271.6 911.1 320.9 911.7 297.9 912.3 289.4 912.8 332.6 913.4 311.6 913.9 299.6 914.5 312.6 915.1 293.6 915.6 310.1 916.2 334.1 916.7 325.9 917.3 341.9 917.9 327.5 918.4 293.1 919.0 298.5 919.6 294.6 920.1 280.3 920.7 324.4 921.2 312.7 921.8 301.5 922.4 273.6 922.9 298.7 923.5 306.2 924.0 298.4 924.6 320.2 925.2 339.3 925.7 295.3 926.3 311.6 926.9 295.8 927.4 325.3 928.0 320.2 928.5 290.2 929.1 300.2 929.7 286.9 930.2 316.1 930.8 302.6 931.3 291.5 931.9 287.7 932.5 304.7 933.0 298.7 933.6 305.5 934.2 306.5 934.7 305.0 935.3 295.7 935.8 328.1 936.4 304.8 937.0 322.5 937.5 303.9 938.1 308.9 938.6 301.2 939.2 309.1 939.8 307.4 940.3 329.8 940.9 279.8 941.5 329.4 942.0 339.0 942.6 298.8 943.1 294.5 943.7 306.8 944.3 311.1 944.8 325.7 945.4 271.9 945.9 336.0 946.5 263.3 947.1 333.8 947.6 323.7 948.2 309.7 948.8 313.3 949.3 296.5 949.9 320.7 950.4 311.5 951.0 333.8 951.6 283.9 952.1 310.7 952.7 318.8 953.2 304.7 953.8 288.7 954.4 298.3 954.9 317.6 955.5 302.0 956.1 298.5 956.6 297.0 957.2 310.0 957.7 292.1 958.3 324.2 958.9 302.0 959.4 318.8 960.0 303.0 960.6 314.5 961.1 291.8 961.7 311.1 962.2 282.4 962.8 320.6 963.4 285.3 963.9 319.0 964.5 348.3 965.0 321.6 965.6 288.1 966.2 300.1 966.7 295.0 967.3 310.7 967.9 297.6 968.4 321.6 969.0 272.6 969.5 275.0 970.1 295.4 970.7 313.8 971.2 315.1 971.8 292.1 972.3 296.8 972.9 319.3 973.5 289.8 974.0 287.4 974.6 292.8 975.2 295.6 975.7 298.4 976.3 302.5 976.8 307.9 977.4 313.4 978.0 280.3 978.5 330.1 979.1 300.2 979.6 286.9 980.2 261.0 980.8 308.4 981.3 277.5 981.9 279.2 982.5 284.9 983.0 268.7 983.6 331.4 984.1 283.9 984.7 303.2 985.3 293.4 985.8 303.7 986.4 316.2 986.9 334.6 987.5 293.7 988.1 305.5 988.6 325.1 989.2 303.6 989.8 321.3 990.3 317.2 990.9 298.3 991.4 287.7 992.0 336.5 992.6 303.4 993.1 291.2 993.7 324.7 994.2 307.7 994.8 296.4 995.4 285.5 995.9 322.9 996.5 331.6 997.1 313.7 997.6 311.7 998.2 303.3 998.7 301.9 999.3 337.6 999.9 289.9 1000.4 332.7 1001.0 296.7 1001.5 293.9 1002.1 295.3 1002.7 297.5 1003.2 296.5 1003.8 317.1 1004.4 317.9 1004.9 264.8 1005.5 274.5 1006.0 278.6 1006.6 288.0 1007.2 331.5 1007.7 269.1 1008.3 306.8 1008.8 303.4 1009.4 289.1 1010.0 315.0 1010.5 279.3 1011.1 346.5 1011.7 280.8 1012.2 293.7 1012.8 318.4 1013.3 287.7 1013.9 282.0 1014.5 288.6 1015.0 286.1 1015.6 307.6 1016.1 284.1 1016.7 284.0 1017.3 279.9 1017.8 291.1 1018.4 333.4 1019.0 293.6 1019.5 327.0 1020.1 317.4 1020.6 305.9 1021.2 300.6 1021.8 309.1 1022.3 298.0 1022.9 294.8 1023.4 300.8 1024.0 302.8 1024.6 297.9 1025.1 291.8 1025.7 321.1 1026.3 331.5 1026.8 285.5 1027.4 302.4 1027.9 346.7 1028.5 284.7 1029.1 284.3 1029.6 338.1 1030.2 326.5 1030.8 314.5 1031.3 327.2 1031.9 316.6 1032.4 306.3 1033.0 287.2 1033.6 350.1 1034.1 303.5 1034.7 285.3 1035.2 349.3 1035.8 299.2 1036.4 306.2 1036.9 315.2 1037.5 291.0 1038.1 280.7 1038.6 284.7 1039.2 267.4 1039.7 317.6 1040.3 342.0 1040.9 314.2 1041.4 301.5 1042.0 283.2 1042.5 294.6 1043.1 315.3 1043.7 279.4 1044.2 296.0 1044.8 300.0 1045.4 307.8 1045.9 296.7 1046.5 293.7 1047.0 303.6 1047.6 347.6 1048.2 320.1 1048.7 296.1 1049.3 275.4 1049.8 282.5 1050.4 283.7 1051.0 272.1 1051.5 291.3 1052.1 279.5 1052.7 284.9 1053.2 299.0 1053.8 319.6 1054.3 333.1 1054.9 295.2 1055.5 325.7 1056.0 305.1 1056.6 289.8 1057.1 316.1 1057.7 286.4 1058.3 301.8 1058.8 319.2 1059.4 292.3 1060.0 289.7 1060.5 311.7 1061.1 293.6 1061.6 323.4 1062.2 300.5 1062.8 297.2 1063.3 321.5 1063.9 300.7 1064.4 276.1 1065.0 314.3 1065.6 323.3 1066.1 328.7 1066.7 316.7 1067.3 322.7 1067.8 332.8 1068.4 300.5 1068.9 296.4 1069.5 320.2 1070.1 301.1 1070.6 285.1 1071.2 295.6 1071.7 298.7 1072.3 289.6 1072.9 314.0 1073.4 285.6 1074.0 267.8 1074.6 313.9 1075.1 336.3 1075.7 315.2 1076.2 320.2 1076.8 297.7 1077.4 279.6 1077.9 291.3 1078.5 270.1 1079.0 293.2 1079.6 300.0 1080.2 336.9 1080.7 294.3 1081.3 313.1 1081.9 311.2 1082.4 306.3 1083.0 271.9 1083.5 285.5 1084.1 300.9 1084.7 327.4 1085.2 309.1 1085.8 306.2 1086.3 285.4 1086.9 291.4 1087.5 291.8 1088.0 318.6 1088.6 284.1 1089.2 252.2 1089.7 327.0 1090.3 320.4 1090.8 300.4 1091.4 283.8 1092.0 297.0 1092.5 299.9 1093.1 274.7 1093.6 321.5 1094.2 339.4 1094.8 329.9 1095.3 287.4 1095.9 284.8 1096.5 309.3 1097.0 328.7 1097.6 318.3 1098.1 295.6 1098.7 285.0 1099.3 314.2 1099.8 318.0 1100.4 319.8 1101.0 314.3 1101.5 291.0 1102.1 299.9 1102.6 296.8 1103.2 301.4 1103.8 299.8 1104.3 327.2 1104.9 322.8 1105.4 297.1 1106.0 296.1 1106.6 283.6 1107.1 304.7 1107.7 319.2 1108.3 307.0 1108.8 307.7 1109.4 293.5 1109.9 306.2 1110.5 293.6 1111.1 292.9 1111.6 293.0 1112.2 291.9 1112.7 320.6 1113.3 281.6 1113.9 271.9 1114.4 286.7 1115.0 272.3 1115.6 293.5 1116.1 310.9 1116.7 291.0 1117.2 301.4 1117.8 303.0 1118.4 271.4 1118.9 316.6 1119.5 279.9 1120.0 310.5 1120.6 331.8 1121.2 286.8 1121.7 298.0 1122.3 295.9 1122.9 295.1 1123.4 279.8 1124.0 292.8 1124.5 303.8 1125.1 300.7 1125.7 290.7 1126.2 308.8 1126.8 291.7 1127.3 335.5 1127.9 300.9 1128.5 299.0 1129.0 285.9 1129.6 318.3 1130.2 302.4 1130.7 290.6 1131.3 247.7 1131.8 295.4 1132.4 287.7 1133.0 308.4 1133.5 260.0 1134.1 302.7 1134.6 303.0 1135.2 296.1 1135.8 322.2 1136.3 317.0 1136.9 305.4 1137.5 313.7 1138.0 281.7 1138.6 308.3 1139.1 259.6 1139.7 294.7 1140.3 312.7 1140.8 296.8 1141.4 287.3 1141.9 299.8 1142.5 292.0 1143.1 304.1 1143.6 314.1 1144.2 302.0 1144.8 269.2 1145.3 307.6 1145.9 301.7 1146.4 327.8 1147.0 312.3 1147.6 294.9 1148.1 307.0 1148.7 280.4 1149.2 283.7 1149.8 309.0 1150.4 303.0 1150.9 289.4 1151.5 294.8 1152.1 306.6 1152.6 333.9 1153.2 276.9 1153.7 300.8 1154.3 298.3 1154.9 313.9 1155.4 274.9 1156.0 303.2 1156.5 298.2 1157.1 337.1 1157.7 309.6 1158.2 302.5 1158.8 294.6 1159.4 289.4 1159.9 305.2 1160.5 283.6 1161.0 304.0 1161.6 304.8 1162.2 302.0 1162.7 331.6 1163.3 341.3 1163.8 269.6 1164.4 333.0 1165.0 313.1 1165.5 292.0 1166.1 314.3 1166.7 282.7 1167.2 337.3 1167.8 300.2 1168.3 291.6 1168.9 263.9 1169.5 276.5 1170.0 315.5 1170.6 287.3 1171.2 297.7 1171.7 324.2 1172.3 311.9 1172.8 284.1 1173.4 308.0 1174.0 319.8 1174.5 314.0 1175.1 325.3 1175.6 331.0 1176.2 296.6 1176.8 295.0 1177.3 284.8 1177.9 330.6 1178.5 323.2 1179.0 295.9 1179.6 300.9 1180.1 306.6 1180.7 324.6 1181.3 309.1 1181.8 328.6 1182.4 276.6 1182.9 291.3 1183.5 321.1 1184.1 281.9 1184.6 322.0 1185.2 293.6 1185.8 301.0 1186.3 311.0 1186.9 280.1 1187.4 333.2 1188.0 309.9 1188.6 309.8 1189.1 335.7 1189.7 330.8 1190.2 301.9 1190.8 299.6 1191.4 321.8 1191.9 294.3 1192.5 295.9 1193.1 290.5 1193.6 308.4 1194.2 305.7 1194.7 293.3 1195.3 313.9 1195.9 318.7 1196.4 325.3 1197.0 295.0 1197.5 281.6 1198.1 336.2 1198.7 308.5 1199.2 290.6 1199.8 277.0 1200.4 298.3 1200.9 317.1 1201.5 290.1 1202.0 261.8" fill="none" stroke="#2a2eec" stroke-opacity="0.35" stroke-width="1.5" stroke-dasharray="1.5 2.475" clip-path="url(#cR2)"/>
<path d="M641.0 295.4 641.6 289.6 642.1 271.4 642.7 327.6 643.2 287.3 643.8 275.4 644.4 283.7 644.9 297.7 645.5 307.1 646.1 310.5 646.6 323.5 647.2 309.5 647.7 321.4 648.3 302.5 648.9 304.7 649.4 311.1 650.0 308.1 650.5 299.9 651.1 322.5 651.7 290.1 652.2 297.9 652.8 290.8 653.4 306.7 653.9 304.5 654.5 298.5 655.0 299.0 655.6 307.7 656.2 306.6 656.7 310.0 657.3 307.3 657.8 313.8 658.4 314.7 659.0 318.0 659.5 277.2 660.1 312.5 660.7 302.7 661.2 317.9 661.8 298.4 662.3 279.8 662.9 313.4 663.5 298.2 664.0 302.1 664.6 285.9 665.1 302.2 665.7 302.6 666.3 304.8 666.8 334.3 667.4 283.6 668.0 272.3 668.5 314.9 669.1 285.8 669.6 300.5 670.2 275.5 670.8 309.4 671.3 292.6 671.9 277.4 672.4 290.6 673.0 296.4 673.6 300.6 674.1 310.2 674.7 297.4 675.3 316.1 675.8 271.2 676.4 289.8 676.9 301.9 677.5 325.1 678.1 281.1 678.6 276.3 679.2 291.4 679.8 283.9 680.3 283.9 680.9 299.4 681.4 303.2 682.0 296.7 682.6 277.5 683.1 308.3 683.7 325.4 684.2 296.6 684.8 296.8 685.4 300.2 685.9 295.7 686.5 318.7 687.1 313.3 687.6 305.5 688.2 300.1 688.7 290.4 689.3 286.7 689.9 295.7 690.4 301.5 691.0 315.7 691.5 307.2 692.1 325.8 692.7 311.5 693.2 292.4 693.8 290.1 694.4 316.8 694.9 279.9 695.5 339.4 696.0 290.9 696.6 299.9 697.2 302.6 697.7 293.2 698.3 306.9 698.8 262.1 699.4 307.8 700.0 305.7 700.5 294.8 701.1 333.2 701.7 302.4 702.2 323.9 702.8 277.4 703.3 308.6 703.9 302.5 704.5 330.3 705.0 269.8 705.6 329.6 706.1 325.2 706.7 313.1 707.3 338.9 707.8 323.2 708.4 308.0 709.0 283.0 709.5 282.2 710.1 320.7 710.6 310.7 711.2 289.8 711.8 281.2 712.3 315.5 712.9 305.7 713.4 301.5 714.0 299.0 714.6 305.6 715.1 270.9 715.7 305.0 716.3 281.0 716.8 292.0 717.4 241.0 717.9 275.7 718.5 333.5 719.1 289.9 719.6 335.7 720.2 277.8 720.7 306.0 721.3 336.9 721.9 318.0 722.4 306.9 723.0 276.5 723.6 299.4 724.1 292.9 724.7 312.7 725.2 309.6 725.8 327.0 726.4 308.6 726.9 306.6 727.5 303.3 728.0 316.5 728.6 306.2 729.2 310.4 729.7 298.6 730.3 313.9 730.9 313.4 731.4 318.5 732.0 315.2 732.5 308.4 733.1 321.2 733.7 282.3 734.2 286.1 734.8 297.4 735.3 290.6 735.9 324.7 736.5 314.6 737.0 311.8 737.6 299.7 738.2 289.9 738.7 289.0 739.3 328.7 739.8 304.6 740.4 284.5 741.0 308.1 741.5 295.6 742.1 332.5 742.6 303.0 743.2 308.2 743.8 338.0 744.3 290.0 744.9 280.1 745.5 289.5 746.0 309.5 746.6 305.9 747.1 314.8 747.7 293.0 748.3 295.4 748.8 278.8 749.4 303.5 750.0 287.4 750.5 307.3 751.1 315.6 751.6 303.6 752.2 318.1 752.8 318.2 753.3 290.6 753.9 291.4 754.4 317.0 755.0 319.1 755.6 307.0 756.1 316.6 756.7 291.5 757.3 309.4 757.8 326.4 758.4 318.5 758.9 296.6 759.5 268.6 760.1 295.1 760.6 327.5 761.2 319.7 761.7 301.2 762.3 307.0 762.9 301.5 763.4 269.5 764.0 322.0 764.6 321.0 765.1 305.0 765.7 303.5 766.2 300.5 766.8 289.9 767.4 304.4 767.9 285.8 768.5 300.8 769.0 297.4 769.6 333.4 770.2 318.8 770.7 310.5 771.3 292.7 771.9 314.9 772.4 320.5 773.0 316.8 773.5 274.3 774.1 329.4 774.7 299.8 775.2 302.9 775.8 279.1 776.3 291.7 776.9 309.2 777.5 289.0 778.0 281.2 778.6 309.5 779.2 332.1 779.7 324.0 780.3 302.5 780.8 320.9 781.4 301.1 782.0 283.9 782.5 299.8 783.1 265.8 783.6 305.5 784.2 324.3 784.8 299.9 785.3 286.3 785.9 327.1 786.5 295.3 787.0 274.7 787.6 299.4 788.1 271.8 788.7 328.9 789.3 293.4 789.8 332.0 790.4 333.2 790.9 328.5 791.5 285.1 792.1 298.0 792.6 279.3 793.2 318.0 793.8 332.5 794.3 288.4 794.9 315.3 795.4 329.6 796.0 290.1 796.6 285.5 797.1 316.7 797.7 300.8 798.2 293.9 798.8 319.6 799.4 317.5 799.9 298.5 800.5 274.9 801.1 320.1 801.6 289.2 802.2 293.0 802.7 299.7 803.3 306.4 803.9 317.5 804.4 291.3 805.0 304.9 805.5 346.3 806.1 297.1 806.7 316.7 807.2 305.2 807.8 267.4 808.4 296.9 808.9 339.2 809.5 310.4 810.0 322.9 810.6 285.3 811.2 361.1 811.7 292.9 812.3 302.0 812.8 309.1 813.4 295.5 814.0 271.1 814.5 335.6 815.1 311.8 815.7 303.2 816.2 302.2 816.8 307.1 817.3 294.2 817.9 300.0 818.5 310.0 819.0 335.3 819.6 290.3 820.2 276.2 820.7 281.1 821.3 294.4 821.8 280.7 822.4 328.0 823.0 287.4 823.5 295.4 824.1 302.6 824.6 281.1 825.2 304.4 825.8 308.0 826.3 319.3 826.9 333.8 827.5 309.5 828.0 270.3 828.6 268.3 829.1 312.0 829.7 298.4 830.3 274.1 830.8 319.5 831.4 309.3 831.9 326.3 832.5 272.7 833.1 312.7 833.6 307.9 834.2 302.0 834.8 316.7 835.3 255.7 835.9 280.6 836.4 263.5 837.0 337.8 837.6 287.4 838.1 304.0 838.7 320.9 839.2 299.4 839.8 271.9 840.4 279.8 840.9 309.9 841.5 238.5 842.1 279.8 842.6 314.9 843.2 315.4 843.7 311.7 844.3 301.6 844.9 309.4 845.4 311.6 846.0 282.7 846.5 311.5 847.1 297.3 847.7 310.8 848.2 304.0 848.8 278.1 849.4 298.9 849.9 285.2 850.5 300.5 851.0 279.0 851.6 299.7 852.2 278.5 852.7 322.3 853.3 279.0 853.8 290.9 854.4 315.8 855.0 311.4 855.5 335.2 856.1 304.3 856.7 296.3 857.2 309.2 857.8 280.9 858.3 338.9 858.9 304.0 859.5 322.7 860.0 309.6 860.6 285.0 861.1 300.8 861.7 273.7 862.3 307.0 862.8 312.4 863.4 305.7 864.0 327.4 864.5 316.6 865.1 302.2 865.6 284.3 866.2 319.4 866.8 317.8 867.3 330.2 867.9 327.1 868.4 303.2 869.0 301.5 869.6 296.5 870.1 307.3 870.7 283.5 871.3 334.1 871.8 303.2 872.4 291.1 872.9 308.6 873.5 294.8 874.1 306.7 874.6 309.4 875.2 299.7 875.7 314.2 876.3 303.1 876.9 291.6 877.4 322.3 878.0 290.1 878.6 281.3 879.1 272.7 879.7 308.0 880.2 281.7 880.8 335.4 881.4 326.9 881.9 301.1 882.5 322.4 883.0 319.3 883.6 320.8 884.2 308.3 884.7 314.4 885.3 319.8 885.9 303.5 886.4 312.2 887.0 302.8 887.5 297.3 888.1 293.0 888.7 306.7 889.2 310.5 889.8 310.4 890.4 322.2 890.9 294.7 891.5 303.9 892.0 284.3 892.6 297.6 893.2 311.8 893.7 287.8 894.3 308.2 894.8 304.3 895.4 294.8 896.0 298.8 896.5 316.6 897.1 290.7 897.7 296.2 898.2 303.4 898.8 306.5 899.3 298.8 899.9 329.6 900.5 280.0 901.0 346.9 901.6 321.0 902.1 320.5 902.7 296.4 903.3 302.7 903.8 297.1 904.4 324.9 905.0 282.4 905.5 287.6 906.1 340.3 906.6 300.1 907.2 337.7 907.8 313.5 908.3 294.1 908.9 303.4 909.4 326.9 910.0 314.9 910.6 284.9 911.1 300.9 911.7 291.2 912.3 333.7 912.8 294.8 913.4 300.5 913.9 320.6 914.5 279.2 915.1 304.5 915.6 288.4 916.2 312.6 916.7 296.7 917.3 294.4 917.9 305.6 918.4 301.7 919.0 298.2 919.6 305.2 920.1 325.4 920.7 297.6 921.2 305.6 921.8 299.0 922.4 317.7 922.9 276.9 923.5 287.6 924.0 279.3 924.6 270.6 925.2 285.9 925.7 308.4 926.3 325.3 926.9 283.3 927.4 298.3 928.0 288.5 928.5 280.0 929.1 305.9 929.7 319.1 930.2 296.0 930.8 310.7 931.3 317.6 931.9 296.4 932.5 307.4 933.0 294.2 933.6 321.9 934.2 305.1 934.7 307.5 935.3 303.5 935.8 313.5 936.4 291.7 937.0 328.1 937.5 295.4 938.1 284.2 938.6 303.3 939.2 301.7 939.8 316.4 940.3 298.6 940.9 295.5 941.5 300.1 942.0 296.7 942.6 293.7 943.1 299.2 943.7 334.6 944.3 322.5 944.8 305.0 945.4 266.0 945.9 284.6 946.5 303.4 947.1 306.5 947.6 310.6 948.2 293.0 948.8 308.3 949.3 302.1 949.9 318.2 950.4 310.5 951.0 320.0 951.6 316.6 952.1 309.1 952.7 282.9 953.2 297.0 953.8 285.1 954.4 311.1 954.9 298.4 955.5 313.4 956.1 306.3 956.6 305.8 957.2 330.9 957.7 302.3 958.3 323.6 958.9 294.8 959.4 314.0 960.0 329.9 960.6 323.5 961.1 318.4 961.7 278.8 962.2 324.8 962.8 309.9 963.4 300.5 963.9 306.4 964.5 304.5 965.0 291.7 965.6 315.4 966.2 273.8 966.7 280.2 967.3 299.9 967.9 280.3 968.4 301.3 969.0 310.6 969.5 323.7 970.1 314.8 970.7 293.6 971.2 297.8 971.8 276.3 972.3 276.8 972.9 288.2 973.5 301.2 974.0 273.1 974.6 304.1 975.2 344.1 975.7 307.9 976.3 295.5 976.8 293.7 977.4 293.6 978.0 290.1 978.5 347.4 979.1 264.4 979.6 293.9 980.2 302.0 980.8 336.3 981.3 289.3 981.9 321.0 982.5 337.4 983.0 293.5 983.6 294.3 984.1 305.9 984.7 319.2 985.3 296.5 985.8 302.7 986.4 297.9 986.9 296.7 987.5 329.5 988.1 296.4 988.6 325.6 989.2 296.1 989.8 310.6 990.3 312.8 990.9 276.3 991.4 300.5 992.0 300.9 992.6 290.8 993.1 266.8 993.7 353.0 994.2 295.2 994.8 303.0 995.4 284.3 995.9 303.3 996.5 304.6 997.1 293.5 997.6 304.2 998.2 318.7 998.7 303.0 999.3 271.4 999.9 293.2 1000.4 343.1 1001.0 305.7 1001.5 320.2 1002.1 287.2 1002.7 323.1 1003.2 305.0 1003.8 294.7 1004.4 289.0 1004.9 314.1 1005.5 298.7 1006.0 264.2 1006.6 314.9 1007.2 302.7 1007.7 318.3 1008.3 306.5 1008.8 294.6 1009.4 302.3 1010.0 291.7 1010.5 325.4 1011.1 300.6 1011.7 308.6 1012.2 353.1 1012.8 283.9 1013.3 301.1 1013.9 313.4 1014.5 284.4 1015.0 293.6 1015.6 344.1 1016.1 294.8 1016.7 260.7 1017.3 297.5 1017.8 288.2 1018.4 332.3 1019.0 330.2 1019.5 328.0 1020.1 284.0 1020.6 286.5 1021.2 347.0 1021.8 287.1 1022.3 339.8 1022.9 327.9 1023.4 304.8 1024.0 315.3 1024.6 304.0 1025.1 299.4 1025.7 282.4 1026.3 311.7 1026.8 315.0 1027.4 315.8 1027.9 260.2 1028.5 282.2 1029.1 281.5 1029.6 292.6 1030.2 298.2 1030.8 277.2 1031.3 303.8 1031.9 329.6 1032.4 331.1 1033.0 257.8 1033.6 321.2 1034.1 314.8 1034.7 305.5 1035.2 283.8 1035.8 322.7 1036.4 306.7 1036.9 296.0 1037.5 325.8 1038.1 301.6 1038.6 283.3 1039.2 298.5 1039.7 301.2 1040.3 294.0 1040.9 304.1 1041.4 310.9 1042.0 312.6 1042.5 288.1 1043.1 332.5 1043.7 324.7 1044.2 289.0 1044.8 281.8 1045.4 301.4 1045.9 318.5 1046.5 332.3 1047.0 292.7 1047.6 300.3 1048.2 297.5 1048.7 296.2 1049.3 322.5 1049.8 317.6 1050.4 306.0 1051.0 307.5 1051.5 333.3 1052.1 326.7 1052.7 308.0 1053.2 279.5 1053.8 261.6 1054.3 300.0 1054.9 310.4 1055.5 299.2 1056.0 303.3 1056.6 320.0 1057.1 362.9 1057.7 301.4 1058.3 315.7 1058.8 305.6 1059.4 322.2 1060.0 310.6 1060.5 301.7 1061.1 328.6 1061.6 317.2 1062.2 293.2 1062.8 290.2 1063.3 336.1 1063.9 289.6 1064.4 280.5 1065.0 296.2 1065.6 295.4 1066.1 301.1 1066.7 296.5 1067.3 312.0 1067.8 280.3 1068.4 303.9 1068.9 329.5 1069.5 293.9 1070.1 287.4 1070.6 296.2 1071.2 321.4 1071.7 292.4 1072.3 355.5 1072.9 273.2 1073.4 293.6 1074.0 336.0 1074.6 340.9 1075.1 261.0 1075.7 299.5 1076.2 316.8 1076.8 297.7 1077.4 307.7 1077.9 307.4 1078.5 298.3 1079.0 298.6 1079.6 322.9 1080.2 298.4 1080.7 300.0 1081.3 321.4 1081.9 286.6 1082.4 294.1 1083.0 322.0 1083.5 271.4 1084.1 293.7 1084.7 278.8 1085.2 316.8 1085.8 312.0 1086.3 301.0 1086.9 313.5 1087.5 307.1 1088.0 329.1 1088.6 266.6 1089.2 294.0 1089.7 279.8 1090.3 272.1 1090.8 304.2 1091.4 267.5 1092.0 345.4 1092.5 310.3 1093.1 313.4 1093.6 304.4 1094.2 324.4 1094.8 288.0 1095.3 268.2 1095.9 299.5 1096.5 292.9 1097.0 342.8 1097.6 317.1 1098.1 296.6 1098.7 315.9 1099.3 298.3 1099.8 310.9 1100.4 297.3 1101.0 328.6 1101.5 294.4 1102.1 277.8 1102.6 291.0 1103.2 265.3 1103.8 305.0 1104.3 287.5 1104.9 326.8 1105.4 286.0 1106.0 294.1 1106.6 307.7 1107.1 282.7 1107.7 323.7 1108.3 307.6 1108.8 297.5 1109.4 321.1 1109.9 320.7 1110.5 285.2 1111.1 309.4 1111.6 321.7 1112.2 311.7 1112.7 313.6 1113.3 316.9 1113.9 297.0 1114.4 322.2 1115.0 329.7 1115.6 302.4 1116.1 304.7 1116.7 281.5 1117.2 326.9 1117.8 313.7 1118.4 285.3 1118.9 297.2 1119.5 313.7 1120.0 318.3 1120.6 291.4 1121.2 304.4 1121.7 318.6 1122.3 311.7 1122.9 311.0 1123.4 287.2 1124.0 349.4 1124.5 314.3 1125.1 282.4 1125.7 334.1 1126.2 309.2 1126.8 289.3 1127.3 327.7 1127.9 314.1 1128.5 319.8 1129.0 301.4 1129.6 316.2 1130.2 323.4 1130.7 302.9 1131.3 300.8 1131.8 284.4 1132.4 311.5 1133.0 307.5 1133.5 314.8 1134.1 283.7 1134.6 283.1 1135.2 318.8 1135.8 342.4 1136.3 270.1 1136.9 337.6 1137.5 335.6 1138.0 314.3 1138.6 270.8 1139.1 284.7 1139.7 309.1 1140.3 292.2 1140.8 307.7 1141.4 284.8 1141.9 312.4 1142.5 276.2 1143.1 294.2 1143.6 314.7 1144.2 335.2 1144.8 284.2 1145.3 295.3 1145.9 322.0 1146.4 320.9 1147.0 313.5 1147.6 311.0 1148.1 308.0 1148.7 305.3 1149.2 305.0 1149.8 315.1 1150.4 268.5 1150.9 309.9 1151.5 316.6 1152.1 295.3 1152.6 320.5 1153.2 297.1 1153.7 302.4 1154.3 286.6 1154.9 322.0 1155.4 338.5 1156.0 284.0 1156.5 308.1 1157.1 274.0 1157.7 291.8 1158.2 312.9 1158.8 298.6 1159.4 325.5 1159.9 322.1 1160.5 304.4 1161.0 302.4 1161.6 334.4 1162.2 290.8 1162.7 295.3 1163.3 285.9 1163.8 330.1 1164.4 294.1 1165.0 315.2 1165.5 312.7 1166.1 285.7 1166.7 303.1 1167.2 294.0 1167.8 288.3 1168.3 284.1 1168.9 320.3 1169.5 320.6 1170.0 297.6 1170.6 294.0 1171.2 316.4 1171.7 296.4 1172.3 318.6 1172.8 308.2 1173.4 305.1 1174.0 299.2 1174.5 291.1 1175.1 308.5 1175.6 299.7 1176.2 316.8 1176.8 289.1 1177.3 291.9 1177.9 311.0 1178.5 267.8 1179.0 302.3 1179.6 305.5 1180.1 307.9 1180.7 293.7 1181.3 297.6 1181.8 311.2 1182.4 291.7 1182.9 281.7 1183.5 274.3 1184.1 289.8 1184.6 304.6 1185.2 312.1 1185.8 289.3 1186.3 276.7 1186.9 259.8 1187.4 303.8 1188.0 317.2 1188.6 315.3 1189.1 292.3 1189.7 287.0 1190.2 311.2 1190.8 319.2 1191.4 332.3 1191.9 286.6 1192.5 326.3 1193.1 290.0 1193.6 303.2 1194.2 334.6 1194.7 320.7 1195.3 283.6 1195.9 300.9 1196.4 305.1 1197.0 279.8 1197.5 301.9 1198.1 299.5 1198.7 299.3 1199.2 299.8 1199.8 282.3 1200.4 310.6 1200.9 282.2 1201.5 274.7 1202.0 310.3" fill="none" stroke="#2a2eec" stroke-opacity="0.35" stroke-width="1.5" stroke-dasharray="9.6 2.4 1.5 2.4" clip-path="url(#cR2)"/>
<path d="M641.0 511.4 641.6 539.7 642.1 518.7 642.7 496.9 643.2 502.5 643.8 527.2 644.4 509.6 644.9 511.0 645.5 518.0 646.1 517.3 646.6 481.9 647.2 561.0 647.7 530.5 648.3 503.7 648.9 522.3 649.4 514.0 650.0 514.8 650.5 524.3 651.1 520.0 651.7 533.3 652.2 520.5 652.8 506.3 653.4 501.4 653.9 510.8 654.5 524.8 655.0 527.2 655.6 548.2 656.2 523.7 656.7 536.7 657.3 532.5 657.8 526.6 658.4 519.4 659.0 518.2 659.5 520.4 660.1 539.5 660.7 528.6 661.2 508.3 661.8 522.7 662.3 513.4 662.9 519.8 663.5 492.2 664.0 488.9 664.6 469.3 665.1 526.7 665.7 505.4 666.3 541.7 666.8 507.0 667.4 511.7 668.0 526.7 668.5 492.4 669.1 517.0 669.6 545.3 670.2 491.6 670.8 518.1 671.3 504.9 671.9 530.9 672.4 532.8 673.0 540.1 673.6 537.9 674.1 506.6 674.7 509.8 675.3 546.7 675.8 519.9 676.4 519.5 676.9 533.2 677.5 515.0 678.1 533.8 678.6 502.6 679.2 525.8 679.8 517.9 680.3 572.1 680.9 529.7 681.4 521.5 682.0 532.8 682.6 526.1 683.1 538.2 683.7 506.9 684.2 539.8 684.8 528.2 685.4 496.3 685.9 501.6 686.5 523.6 687.1 544.0 687.6 553.4 688.2 515.9 688.7 519.5 689.3 528.4 689.9 528.4 690.4 482.8 691.0 507.1 691.5 522.9 692.1 526.7 692.7 528.9 693.2 517.1 693.8 527.4 694.4 521.1 694.9 530.4 695.5 509.2 696.0 518.5 696.6 541.6 697.2 464.9 697.7 517.6 698.3 530.5 698.8 542.7 699.4 521.1 700.0 532.9 700.5 490.2 701.1 513.0 701.7 532.6 702.2 550.8 702.8 507.7 703.3 549.4 703.9 513.6 704.5 520.0 705.0 564.3 705.6 526.8 706.1 491.0 706.7 537.5 707.3 557.8 707.8 550.1 708.4 524.1 709.0 517.4 709.5 507.3 710.1 517.8 710.6 538.6 711.2 530.2 711.8 526.7 712.3 525.5 712.9 543.5 713.4 511.0 714.0 502.4 714.6 525.0 715.1 519.9 715.7 543.6 716.3 518.8 716.8 536.2 717.4 537.6 717.9 507.8 718.5 520.1 719.1 530.7 719.6 549.4 720.2 522.2 720.7 490.9 721.3 516.5 721.9 518.0 722.4 499.2 723.0 480.5 723.6 511.2 724.1 502.4 724.7 517.9 725.2 512.4 725.8 513.1 726.4 500.3 726.9 529.4 727.5 515.3 728.0 515.4 728.6 522.5 729.2 531.4 729.7 505.7 730.3 527.5 730.9 546.6 731.4 507.4 732.0 544.8 732.5 506.2 733.1 560.4 733.7 520.5 734.2 485.2 734.8 524.2 735.3 498.2 735.9 527.5 736.5 533.7 737.0 525.5 737.6 502.4 738.2 495.7 738.7 492.8 739.3 503.6 739.8 520.8 740.4 553.1 741.0 533.6 741.5 491.2 742.1 547.4 742.6 511.6 743.2 512.7 743.8 548.6 744.3 514.5 744.9 527.9 745.5 517.3 746.0 522.9 746.6 524.8 747.1 537.0 747.7 553.7 748.3 486.4 748.8 536.2 749.4 525.9 750.0 528.0 750.5 526.5 751.1 534.3 751.6 510.8 752.2 521.3 752.8 529.8 753.3 531.7 753.9 511.7 754.4 537.0 755.0 511.2 755.6 495.3 756.1 500.5 756.7 510.4 757.3 548.5 757.8 506.9 758.4 515.5 758.9 493.7 759.5 530.1 760.1 528.3 760.6 491.6 761.2 534.1 761.7 497.7 762.3 513.6 762.9 559.6 763.4 528.1 764.0 528.4 764.6 543.0 765.1 551.7 765.7 519.1 766.2 538.2 766.8 532.4 767.4 537.1 767.9 525.0 768.5 511.3 769.0 505.3 769.6 510.9 770.2 527.1 770.7 523.6 771.3 509.8 771.9 496.5 772.4 522.3 773.0 542.6 773.5 515.2 774.1 508.7 774.7 528.9 775.2 497.6 775.8 529.1 776.3 520.6 776.9 513.7 777.5 489.0 778.0 541.0 778.6 510.6 779.2 505.8 779.7 522.8 780.3 500.9 780.8 532.2 781.4 540.8 782.0 542.1 782.5 532.9 783.1 539.5 783.6 511.3 784.2 520.6 784.8 545.3 785.3 489.5 785.9 516.2 786.5 548.6 787.0 551.6 787.6 519.6 788.1 494.2 788.7 526.4 789.3 502.2 789.8 488.4 790.4 507.0 790.9 526.7 791.5 543.3 792.1 532.5 792.6 494.7 793.2 520.3 793.8 538.2 794.3 528.2 794.9 524.4 795.4 498.9 796.0 531.1 796.6 483.0 797.1 516.5 797.7 514.0 798.2 540.2 798.8 513.0 799.4 515.8 799.9 506.9 800.5 533.3 801.1 516.7 801.6 546.9 802.2 538.4 802.7 472.8 803.3 529.2 803.9 534.7 804.4 503.8 805.0 524.2 805.5 466.1 806.1 519.7 806.7 507.5 807.2 525.9 807.8 498.7 808.4 520.3 808.9 463.6 809.5 533.8 810.0 512.5 810.6 507.1 811.2 541.0 811.7 530.7 812.3 535.1 812.8 549.8 813.4 515.5 814.0 566.9 814.5 544.0 815.1 541.5 815.7 516.4 816.2 524.4 816.8 501.4 817.3 498.1 817.9 518.6 818.5 538.7 819.0 508.0 819.6 534.7 820.2 527.6 820.7 521.1 821.3 492.0 821.8 465.6 822.4 497.1 823.0 529.8 823.5 503.0 824.1 495.9 824.6 536.2 825.2 518.1 825.8 532.9 826.3 532.0 826.9 519.1 827.5 518.1 828.0 534.5 828.6 520.4 829.1 542.3 829.7 523.9 830.3 518.1 830.8 529.3 831.4 547.1 831.9 534.6 832.5 513.6 833.1 502.3 833.6 502.5 834.2 501.2 834.8 486.0 835.3 528.8 835.9 498.6 836.4 535.3 837.0 486.1 837.6 502.2 838.1 538.7 838.7 507.8 839.2 501.7 839.8 535.3 840.4 514.7 840.9 504.2 841.5 483.7 842.1 530.9 842.6 490.3 843.2 538.6 843.7 535.6 844.3 494.5 844.9 506.6 845.4 534.4 846.0 490.5 846.5 511.4 847.1 517.4 847.7 526.0 848.2 562.4 848.8 520.8 849.4 502.7 849.9 521.9 850.5 507.2 851.0 522.8 851.6 493.8 852.2 566.7 852.7 511.9 853.3 537.3 853.8 517.2 854.4 508.6 855.0 498.5 855.5 505.5 856.1 497.6 856.7 538.6 857.2 518.5 857.8 556.9 858.3 514.9 858.9 549.1 859.5 500.6 860.0 517.6 860.6 526.4 861.1 532.9 861.7 518.0 862.3 532.2 862.8 545.8 863.4 514.1 864.0 536.7 864.5 512.7 865.1 538.4 865.6 542.6 866.2 476.1 866.8 510.4 867.3 498.1 867.9 526.5 868.4 522.5 869.0 522.0 869.6 482.2 870.1 509.0 870.7 519.9 871.3 522.5 871.8 520.6 872.4 501.3 872.9 520.9 873.5 520.4 874.1 494.8 874.6 502.5 875.2 506.0 875.7 481.6 876.3 523.0 876.9 540.8 877.4 548.6 878.0 522.5 878.6 516.8 879.1 502.5 879.7 545.7 880.2 544.3 880.8 525.4 881.4 526.6 881.9 545.5 882.5 524.9 883.0 508.4 883.6 526.2 884.2 474.0 884.7 508.1 885.3 536.2 885.9 526.0 886.4 546.4 887.0 478.3 887.5 527.2 888.1 527.8 888.7 508.4 889.2 528.3 889.8 534.2 890.4 523.7 890.9 502.9 891.5 502.8 892.0 545.9 892.6 550.0 893.2 514.3 893.7 528.4 894.3 531.0 894.8 502.3 895.4 514.3 896.0 531.7 896.5 511.0 897.1 535.7 897.7 531.8 898.2 485.0 898.8 527.0 899.3 512.1 899.9 527.3 900.5 528.2 901.0 541.7 901.6 542.1 902.1 497.7 902.7 477.2 903.3 509.3 903.8 511.2 904.4 531.8 905.0 523.1 905.5 492.0 906.1 467.6 906.6 508.4 907.2 514.2 907.8 500.1 908.3 519.0 908.9 535.1 909.4 537.2 910.0 526.6 910.6 528.9 911.1 560.2 911.7 551.9 912.3 506.2 912.8 503.0 913.4 506.0 913.9 525.8 914.5 533.7 915.1 522.5 915.6 515.7 916.2 530.4 916.7 500.4 917.3 533.9 917.9 560.0 918.4 508.7 919.0 504.2 919.6 524.9 920.1 501.4 920.7 498.3 921.2 562.9 921.8 513.8 922.4 542.5 922.9 508.3 923.5 516.7 924.0 505.3 924.6 526.3 925.2 532.3 925.7 516.2 926.3 470.8 926.9 513.1 927.4 539.7 928.0 522.0 928.5 525.9 929.1 496.2 929.7 518.9 930.2 527.0 930.8 517.9 931.3 533.9 931.9 512.2 932.5 540.4 933.0 529.5 933.6 517.3 934.2 544.9 934.7 544.3 935.3 535.0 935.8 492.0 936.4 504.8 937.0 519.9 937.5 501.4 938.1 504.2 938.6 531.9 939.2 540.3 939.8 497.1 940.3 532.7 940.9 508.4 941.5 547.6 942.0 522.4 942.6 542.5 943.1 508.0 943.7 506.0 944.3 513.3 944.8 505.5 945.4 530.6 945.9 513.1 946.5 509.3 947.1 536.4 947.6 509.1 948.2 515.5 948.8 511.8 949.3 525.2 949.9 521.8 950.4 511.6 951.0 518.6 951.6 509.8 952.1 544.1 952.7 502.3 953.2 535.1 953.8 500.3 954.4 545.7 954.9 532.1 955.5 516.1 956.1 513.3 956.6 529.2 957.2 537.0 957.7 509.2 958.3 500.7 958.9 536.8 959.4 542.1 960.0 531.8 960.6 523.4 961.1 550.9 961.7 539.1 962.2 508.5 962.8 535.3 963.4 535.7 963.9 490.7 964.5 499.9 965.0 487.5 965.6 521.1 966.2 523.6 966.7 528.6 967.3 546.2 967.9 556.0 968.4 522.6 969.0 534.9 969.5 508.8 970.1 502.0 970.7 547.1 971.2 544.7 971.8 516.7 972.3 492.8 972.9 489.3 973.5 533.0 974.0 519.4 974.6 491.9 975.2 534.0 975.7 538.1 976.3 493.7 976.8 533.3 977.4 541.4 978.0 488.4 978.5 528.2 979.1 527.7 979.6 509.0 980.2 490.0 980.8 504.7 981.3 515.3 981.9 511.8 982.5 511.7 983.0 514.3 983.6 549.3 984.1 514.0 984.7 543.4 985.3 533.1 985.8 517.4 986.4 522.0 986.9 512.9 987.5 520.2 988.1 510.6 988.6 482.6 989.2 539.3 989.8 498.3 990.3 482.2 990.9 527.6 991.4 526.4 992.0 521.8 992.6 511.1 993.1 532.5 993.7 526.5 994.2 520.5 994.8 518.7 995.4 491.5 995.9 528.8 996.5 503.7 997.1 504.4 997.6 516.1 998.2 517.0 998.7 534.2 999.3 532.5 999.9 512.6 1000.4 515.0 1001.0 524.4 1001.5 496.7 1002.1 516.9 1002.7 518.3 1003.2 522.5 1003.8 498.6 1004.4 508.9 1004.9 513.6 1005.5 541.6 1006.0 485.4 1006.6 543.6 1007.2 511.9 1007.7 540.3 1008.3 546.4 1008.8 569.8 1009.4 517.8 1010.0 515.2 1010.5 527.6 1011.1 529.6 1011.7 544.7 1012.2 522.3 1012.8 526.7 1013.3 547.1 1013.9 530.4 1014.5 437.9 1015.0 541.4 1015.6 500.7 1016.1 544.5 1016.7 482.9 1017.3 499.8 1017.8 530.5 1018.4 489.7 1019.0 500.1 1019.5 497.7 1020.1 518.5 1020.6 539.0 1021.2 556.6 1021.8 516.6 1022.3 524.0 1022.9 532.4 1023.4 480.0 1024.0 512.4 1024.6 547.2 1025.1 524.2 1025.7 511.9 1026.3 543.1 1026.8 517.7 1027.4 527.9 1027.9 546.9 1028.5 513.9 1029.1 508.7 1029.6 563.1 1030.2 513.3 1030.8 532.0 1031.3 527.8 1031.9 549.6 1032.4 538.9 1033.0 486.4 1033.6 508.2 1034.1 524.6 1034.7 520.0 1035.2 536.1 1035.8 523.8 1036.4 536.6 1036.9 516.9 1037.5 541.1 1038.1 518.0 1038.6 506.7 1039.2 527.4 1039.7 518.0 1040.3 516.4 1040.9 531.2 1041.4 545.7 1042.0 500.9 1042.5 519.9 1043.1 527.0 1043.7 497.1 1044.2 536.0 1044.8 530.6 1045.4 533.9 1045.9 539.4 1046.5 524.1 1047.0 532.7 1047.6 494.0 1048.2 533.1 1048.7 497.4 1049.3 537.1 1049.8 527.3 1050.4 520.6 1051.0 536.7 1051.5 508.6 1052.1 531.8 1052.7 533.1 1053.2 508.3 1053.8 534.5 1054.3 509.5 1054.9 500.7 1055.5 506.3 1056.0 493.7 1056.6 528.7 1057.1 497.1 1057.7 530.7 1058.3 548.9 1058.8 524.5 1059.4 482.3 1060.0 538.7 1060.5 486.2 1061.1 545.5 1061.6 504.2 1062.2 512.2 1062.8 529.4 1063.3 558.0 1063.9 508.8 1064.4 509.4 1065.0 512.2 1065.6 502.8 1066.1 535.7 1066.7 481.3 1067.3 504.2 1067.8 535.0 1068.4 477.3 1068.9 521.1 1069.5 512.8 1070.1 505.3 1070.6 536.5 1071.2 537.0 1071.7 524.4 1072.3 541.1 1072.9 525.1 1073.4 494.5 1074.0 541.0 1074.6 519.9 1075.1 531.5 1075.7 505.6 1076.2 541.6 1076.8 540.7 1077.4 524.9 1077.9 481.5 1078.5 538.5 1079.0 550.6 1079.6 539.4 1080.2 509.0 1080.7 504.9 1081.3 523.5 1081.9 517.8 1082.4 546.1 1083.0 515.2 1083.5 525.5 1084.1 533.6 1084.7 503.6 1085.2 502.6 1085.8 531.1 1086.3 518.6 1086.9 554.3 1087.5 540.9 1088.0 497.7 1088.6 542.1 1089.2 538.9 1089.7 501.5 1090.3 559.8 1090.8 535.1 1091.4 509.1 1092.0 531.0 1092.5 538.2 1093.1 541.0 1093.6 519.3 1094.2 539.4 1094.8 517.6 1095.3 525.8 1095.9 522.9 1096.5 501.8 1097.0 531.3 1097.6 539.2 1098.1 523.0 1098.7 518.0 1099.3 526.1 1099.8 550.8 1100.4 510.2 1101.0 551.6 1101.5 555.0 1102.1 504.8 1102.6 493.2 1103.2 527.7 1103.8 536.9 1104.3 495.7 1104.9 544.9 1105.4 522.9 1106.0 532.5 1106.6 511.2 1107.1 516.6 1107.7 535.8 1108.3 501.0 1108.8 508.2 1109.4 522.0 1109.9 527.3 1110.5 523.4 1111.1 543.4 1111.6 526.2 1112.2 526.5 1112.7 511.7 1113.3 525.6 1113.9 529.2 1114.4 517.3 1115.0 503.5 1115.6 511.2 1116.1 524.1 1116.7 529.6 1117.2 495.4 1117.8 521.5 1118.4 542.4 1118.9 517.9 1119.5 551.1 1120.0 531.1 1120.6 509.7 1121.2 524.7 1121.7 527.6 1122.3 507.9 1122.9 499.3 1123.4 538.4 1124.0 541.2 1124.5 534.2 1125.1 541.2 1125.7 512.9 1126.2 507.9 1126.8 523.6 1127.3 540.0 1127.9 548.3 1128.5 524.8 1129.0 535.7 1129.6 513.7 1130.2 543.6 1130.7 531.8 1131.3 529.1 1131.8 502.5 1132.4 507.3 1133.0 513.1 1133.5 518.2 1134.1 509.2 1134.6 551.6 1135.2 504.9 1135.8 526.3 1136.3 493.0 1136.9 504.6 1137.5 498.5 1138.0 533.6 1138.6 461.2 1139.1 510.6 1139.7 516.0 1140.3 531.4 1140.8 514.6 1141.4 555.5 1141.9 495.1 1142.5 511.9 1143.1 522.0 1143.6 494.4 1144.2 511.0 1144.8 512.4 1145.3 529.9 1145.9 514.6 1146.4 540.8 1147.0 540.1 1147.6 518.0 1148.1 531.6 1148.7 543.6 1149.2 524.1 1149.8 551.2 1150.4 490.1 1150.9 536.5 1151.5 536.3 1152.1 490.6 1152.6 546.1 1153.2 557.0 1153.7 521.1 1154.3 526.0 1154.9 501.7 1155.4 522.3 1156.0 548.2 1156.5 519.2 1157.1 525.8 1157.7 497.2 1158.2 515.6 1158.8 537.3 1159.4 533.2 1159.9 520.9 1160.5 528.6 1161.0 517.3 1161.6 516.2 1162.2 541.1 1162.7 516.9 1163.3 505.6 1163.8 541.6 1164.4 545.5 1165.0 506.7 1165.5 510.7 1166.1 503.2 1166.7 486.1 1167.2 523.0 1167.8 539.0 1168.3 516.8 1168.9 532.6 1169.5 513.8 1170.0 506.8 1170.6 518.9 1171.2 510.1 1171.7 520.5 1172.3 515.8 1172.8 540.5 1173.4 487.4 1174.0 532.6 1174.5 528.2 1175.1 533.4 1175.6 525.4 1176.2 528.6 1176.8 553.6 1177.3 490.3 1177.9 514.0 1178.5 526.0 1179.0 521.4 1179.6 501.3 1180.1 505.1 1180.7 515.5 1181.3 503.9 1181.8 562.0 1182.4 504.9 1182.9 525.3 1183.5 534.7 1184.1 539.2 1184.6 520.0 1185.2 550.3 1185.8 515.5 1186.3 535.2 1186.9 508.0 1187.4 551.0 1188.0 514.6 1188.6 529.8 1189.1 542.1 1189.7 498.2 1190.2 501.0 1190.8 538.3 1191.4 527.5 1191.9 493.8 1192.5 520.5 1193.1 533.4 1193.6 538.8 1194.2 536.0 1194.7 511.8 1195.3 505.1 1195.9 529.4 1196.4 540.6 1197.0 536.8 1197.5 552.6 1198.1 514.7 1198.7 523.5 1199.2 502.8 1199.8 478.0 1200.4 497.5 1200.9 530.7 1201.5 529.5 1202.0 545.7" fill="none" stroke="#2a2eec" stroke-opacity="0.35" stroke-width="1.5" clip-path="url(#cR3)"/>
<path d="M641.0 557.3 641.6 486.6 642.1 519.1 642.7 549.5 643.2 511.1 643.8 558.0 644.4 528.2 644.9 522.4 645.5 535.8 646.1 533.7 646.6 509.9 647.2 533.9 647.7 502.8 648.3 554.0 648.9 532.0 649.4 491.2 650.0 542.2 650.5 542.0 651.1 524.4 651.7 532.8 652.2 520.4 652.8 505.9 653.4 514.4 653.9 521.0 654.5 531.8 655.0 520.9 655.6 507.4 656.2 540.0 656.7 532.3 657.3 543.9 657.8 524.9 658.4 521.8 659.0 534.3 659.5 543.4 660.1 537.8 660.7 512.3 661.2 534.5 661.8 508.7 662.3 535.1 662.9 537.6 663.5 509.7 664.0 538.2 664.6 502.5 665.1 559.7 665.7 524.1 666.3 533.7 666.8 531.2 667.4 519.4 668.0 556.6 668.5 481.4 669.1 532.0 669.6 473.7 670.2 508.3 670.8 520.0 671.3 550.0 671.9 489.7 672.4 511.5 673.0 500.6 673.6 550.0 674.1 553.2 674.7 530.9 675.3 513.9 675.8 508.7 676.4 500.1 676.9 539.2 677.5 546.9 678.1 509.8 678.6 541.3 679.2 524.9 679.8 482.2 680.3 531.4 680.9 516.7 681.4 518.9 682.0 523.6 682.6 516.5 683.1 514.2 683.7 522.5 684.2 493.5 684.8 505.4 685.4 541.1 685.9 494.9 686.5 520.9 687.1 526.4 687.6 537.1 688.2 508.6 688.7 524.1 689.3 537.3 689.9 538.1 690.4 501.3 691.0 529.3 691.5 530.5 692.1 471.2 692.7 516.9 693.2 510.8 693.8 520.7 694.4 523.6 694.9 540.0 695.5 509.7 696.0 517.8 696.6 537.5 697.2 524.8 697.7 487.9 698.3 517.7 698.8 522.0 699.4 534.2 700.0 533.2 700.5 512.8 701.1 506.6 701.7 519.2 702.2 505.5 702.8 537.4 703.3 530.2 703.9 516.4 704.5 500.6 705.0 531.3 705.6 504.8 706.1 541.5 706.7 501.6 707.3 497.9 707.8 528.6 708.4 516.4 709.0 508.8 709.5 534.6 710.1 529.9 710.6 530.5 711.2 512.5 711.8 505.2 712.3 538.5 712.9 535.4 713.4 510.5 714.0 533.8 714.6 526.1 715.1 507.1 715.7 521.6 716.3 502.4 716.8 520.7 717.4 524.5 717.9 535.3 718.5 558.3 719.1 529.3 719.6 552.6 720.2 507.4 720.7 508.0 721.3 513.9 721.9 500.7 722.4 479.8 723.0 551.3 723.6 524.8 724.1 506.9 724.7 526.6 725.2 524.4 725.8 501.4 726.4 512.6 726.9 545.7 727.5 493.9 728.0 536.6 728.6 518.2 729.2 511.6 729.7 550.3 730.3 488.6 730.9 509.7 731.4 515.1 732.0 507.4 732.5 526.4 733.1 509.0 733.7 510.1 734.2 557.8 734.8 542.8 735.3 504.3 735.9 540.3 736.5 512.1 737.0 525.5 737.6 508.7 738.2 551.7 738.7 520.1 739.3 522.1 739.8 517.1 740.4 518.0 741.0 520.9 741.5 515.5 742.1 513.4 742.6 532.3 743.2 494.4 743.8 522.1 744.3 533.1 744.9 509.8 745.5 546.8 746.0 502.0 746.6 528.7 747.1 521.5 747.7 522.0 748.3 513.9 748.8 534.1 749.4 531.2 750.0 516.5 750.5 533.9 751.1 524.2 751.6 525.9 752.2 529.9 752.8 535.8 753.3 538.1 753.9 531.2 754.4 544.3 755.0 543.1 755.6 469.0 756.1 523.2 756.7 506.4 757.3 518.3 757.8 510.0 758.4 521.1 758.9 504.6 759.5 519.6 760.1 518.1 760.6 543.7 761.2 504.9 761.7 526.8 762.3 523.6 762.9 515.6 763.4 518.6 764.0 523.4 764.6 499.2 765.1 537.7 765.7 555.3 766.2 528.5 766.8 558.4 767.4 526.2 767.9 499.0 768.5 493.3 769.0 541.1 769.6 515.7 770.2 543.0 770.7 516.8 771.3 496.6 771.9 533.4 772.4 493.2 773.0 517.6 773.5 469.2 774.1 532.6 774.7 537.3 775.2 496.9 775.8 505.0 776.3 510.7 776.9 535.0 777.5 518.8 778.0 530.7 778.6 491.5 779.2 509.6 779.7 532.7 780.3 535.5 780.8 545.4 781.4 531.4 782.0 521.3 782.5 513.1 783.1 500.4 783.6 529.3 784.2 496.6 784.8 553.6 785.3 522.3 785.9 508.5 786.5 529.5 787.0 516.1 787.6 505.1 788.1 530.3 788.7 516.7 789.3 499.2 789.8 540.8 790.4 499.0 790.9 522.5 791.5 544.8 792.1 513.3 792.6 507.6 793.2 523.3 793.8 513.7 794.3 510.9 794.9 518.8 795.4 517.4 796.0 503.9 796.6 505.2 797.1 519.9 797.7 550.3 798.2 541.6 798.8 526.5 799.4 497.7 799.9 510.3 800.5 484.5 801.1 511.0 801.6 511.7 802.2 525.3 802.7 495.9 803.3 542.6 803.9 513.1 804.4 522.1 805.0 528.9 805.5 501.5 806.1 506.9 806.7 512.1 807.2 525.2 807.8 544.1 808.4 542.4 808.9 560.1 809.5 542.6 810.0 514.0 810.6 492.5 811.2 538.9 811.7 495.8 812.3 481.9 812.8 498.4 813.4 485.9 814.0 520.1 814.5 528.3 815.1 514.3 815.7 500.8 816.2 510.6 816.8 515.7 817.3 503.9 817.9 534.5 818.5 504.0 819.0 551.9 819.6 490.8 820.2 491.4 820.7 470.8 821.3 534.8 821.8 529.1 822.4 536.9 823.0 543.9 823.5 556.9 824.1 503.9 824.6 523.0 825.2 521.5 825.8 549.2 826.3 516.2 826.9 477.9 827.5 516.0 828.0 502.9 828.6 539.3 829.1 498.0 829.7 519.5 830.3 516.8 830.8 512.1 831.4 523.5 831.9 505.9 832.5 520.9 833.1 526.8 833.6 537.8 834.2 539.1 834.8 502.3 835.3 497.7 835.9 520.7 836.4 522.3 837.0 529.1 837.6 515.4 838.1 491.1 838.7 513.7 839.2 528.4 839.8 498.0 840.4 504.0 840.9 548.8 841.5 527.0 842.1 493.9 842.6 511.0 843.2 519.5 843.7 510.4 844.3 538.9 844.9 538.8 845.4 520.5 846.0 516.1 846.5 485.8 847.1 520.3 847.7 512.5 848.2 487.2 848.8 529.0 849.4 523.2 849.9 517.5 850.5 513.1 851.0 515.1 851.6 504.7 852.2 539.2 852.7 541.3 853.3 520.0 853.8 546.3 854.4 486.7 855.0 532.7 855.5 528.9 856.1 507.3 856.7 512.7 857.2 508.0 857.8 519.4 858.3 541.8 858.9 522.0 859.5 531.0 860.0 547.8 860.6 524.7 861.1 500.9 861.7 535.8 862.3 532.6 862.8 533.0 863.4 505.2 864.0 553.6 864.5 510.9 865.1 517.8 865.6 521.6 866.2 536.3 866.8 524.7 867.3 480.9 867.9 515.9 868.4 527.3 869.0 504.1 869.6 541.7 870.1 498.2 870.7 522.0 871.3 467.8 871.8 474.5 872.4 508.7 872.9 511.8 873.5 527.2 874.1 509.0 874.6 506.0 875.2 543.5 875.7 545.8 876.3 509.8 876.9 530.4 877.4 517.3 878.0 518.1 878.6 517.3 879.1 524.8 879.7 508.7 880.2 492.0 880.8 488.0 881.4 527.0 881.9 518.4 882.5 519.0 883.0 546.1 883.6 546.9 884.2 523.0 884.7 512.1 885.3 506.1 885.9 532.5 886.4 508.6 887.0 523.1 887.5 528.9 888.1 502.1 888.7 549.5 889.2 558.5 889.8 482.3 890.4 521.9 890.9 506.1 891.5 523.0 892.0 533.4 892.6 541.1 893.2 551.2 893.7 517.5 894.3 539.4 894.8 523.3 895.4 516.0 896.0 522.4 896.5 519.6 897.1 492.0 897.7 515.9 898.2 516.7 898.8 524.2 899.3 493.0 899.9 496.2 900.5 531.6 901.0 514.0 901.6 523.7 902.1 529.0 902.7 536.9 903.3 485.2 903.8 510.7 904.4 555.8 905.0 500.6 905.5 485.8 906.1 518.8 906.6 522.1 907.2 518.1 907.8 503.1 908.3 530.8 908.9 513.4 909.4 546.5 910.0 498.3 910.6 540.6 911.1 527.8 911.7 513.5 912.3 501.7 912.8 533.8 913.4 533.2 913.9 491.5 914.5 532.5 915.1 535.7 915.6 530.4 916.2 508.4 916.7 508.0 917.3 501.9 917.9 513.3 918.4 528.7 919.0 512.8 919.6 506.8 920.1 541.1 920.7 532.2 921.2 521.7 921.8 488.8 922.4 526.8 922.9 520.0 923.5 520.4 924.0 514.3 924.6 509.0 925.2 538.9 925.7 565.8 926.3 506.3 926.9 555.6 927.4 515.5 928.0 513.4 928.5 507.7 929.1 539.2 929.7 514.9 930.2 508.3 930.8 507.9 931.3 496.8 931.9 538.4 932.5 530.4 933.0 526.1 933.6 521.9 934.2 501.4 934.7 505.2 935.3 519.1 935.8 486.1 936.4 509.5 937.0 540.9 937.5 495.6 938.1 543.3 938.6 542.8 939.2 528.6 939.8 529.5 940.3 523.1 940.9 521.1 941.5 535.1 942.0 534.2 942.6 508.5 943.1 515.8 943.7 525.4 944.3 535.6 944.8 520.8 945.4 538.5 945.9 543.6 946.5 501.8 947.1 508.1 947.6 527.4 948.2 489.5 948.8 523.0 949.3 508.7 949.9 511.8 950.4 518.8 951.0 518.5 951.6 490.6 952.1 503.2 952.7 551.7 953.2 509.4 953.8 556.7 954.4 538.7 954.9 512.2 955.5 539.5 956.1 496.3 956.6 527.1 957.2 509.3 957.7 515.0 958.3 505.2 958.9 494.6 959.4 545.3 960.0 521.4 960.6 516.7 961.1 500.2 961.7 509.9 962.2 525.3 962.8 543.8 963.4 547.5 963.9 536.5 964.5 517.1 965.0 517.5 965.6 492.0 966.2 514.9 966.7 505.5 967.3 544.2 967.9 515.8 968.4 529.4 969.0 531.1 969.5 496.1 970.1 520.7 970.7 522.0 971.2 520.4 971.8 543.7 972.3 548.0 972.9 482.2 973.5 519.5 974.0 520.7 974.6 516.4 975.2 528.7 975.7 525.7 976.3 535.8 976.8 514.3 977.4 523.4 978.0 500.6 978.5 489.8 979.1 539.2 979.6 507.7 980.2 528.1 980.8 476.5 981.3 516.7 981.9 501.7 982.5 529.4 983.0 495.9 983.6 533.6 984.1 542.1 984.7 560.1 985.3 521.7 985.8 528.0 986.4 517.5 986.9 536.9 987.5 521.4 988.1 521.5 988.6 539.9 989.2 482.2 989.8 475.6 990.3 515.5 990.9 510.3 991.4 508.1 992.0 506.8 992.6 534.6 993.1 515.1 993.7 484.3 994.2 523.5 994.8 525.0 995.4 536.4 995.9 527.9 996.5 556.0 997.1 521.0 997.6 499.3 998.2 514.0 998.7 517.0 999.3 519.0 999.9 518.9 1000.4 538.4 1001.0 551.6 1001.5 482.5 1002.1 510.3 1002.7 556.0 1003.2 487.7 1003.8 527.5 1004.4 501.1 1004.9 522.0 1005.5 531.5 1006.0 503.7 1006.6 526.2 1007.2 560.0 1007.7 509.3 1008.3 521.6 1008.8 521.3 1009.4 525.8 1010.0 512.0 1010.5 489.9 1011.1 500.4 1011.7 514.1 1012.2 518.1 1012.8 533.1 1013.3 483.9 1013.9 552.5 1014.5 537.5 1015.0 522.9 1015.6 517.4 1016.1 514.8 1016.7 527.2 1017.3 481.3 1017.8 495.3 1018.4 551.5 1019.0 536.7 1019.5 543.5 1020.1 491.5 1020.6 527.8 1021.2 546.6 1021.8 525.2 1022.3 542.5 1022.9 519.0 1023.4 506.4 1024.0 539.9 1024.6 515.4 1025.1 513.8 1025.7 532.6 1026.3 510.4 1026.8 531.5 1027.4 507.0 1027.9 522.2 1028.5 527.7 1029.1 491.4 1029.6 500.3 1030.2 525.2 1030.8 569.1 1031.3 514.6 1031.9 528.9 1032.4 512.2 1033.0 519.8 1033.6 525.3 1034.1 526.5 1034.7 492.1 1035.2 490.1 1035.8 494.2 1036.4 540.2 1036.9 527.1 1037.5 517.2 1038.1 553.1 1038.6 500.0 1039.2 540.0 1039.7 501.6 1040.3 531.0 1040.9 513.4 1041.4 550.5 1042.0 562.1 1042.5 535.0 1043.1 545.4 1043.7 544.7 1044.2 530.7 1044.8 516.9 1045.4 506.7 1045.9 538.9 1046.5 548.0 1047.0 524.8 1047.6 541.9 1048.2 544.3 1048.7 531.6 1049.3 501.8 1049.8 518.3 1050.4 557.9 1051.0 484.0 1051.5 546.5 1052.1 520.8 1052.7 537.8 1053.2 505.0 1053.8 515.8 1054.3 500.2 1054.9 519.2 1055.5 526.1 1056.0 499.6 1056.6 555.2 1057.1 545.5 1057.7 548.2 1058.3 526.6 1058.8 532.2 1059.4 538.4 1060.0 509.7 1060.5 513.4 1061.1 532.0 1061.6 547.5 1062.2 479.3 1062.8 516.9 1063.3 533.4 1063.9 519.9 1064.4 516.2 1065.0 534.2 1065.6 508.1 1066.1 520.0 1066.7 531.0 1067.3 500.0 1067.8 530.0 1068.4 496.3 1068.9 519.3 1069.5 526.4 1070.1 498.5 1070.6 528.4 1071.2 511.1 1071.7 494.8 1072.3 528.3 1072.9 532.3 1073.4 506.6 1074.0 502.1 1074.6 557.7 1075.1 511.5 1075.7 499.0 1076.2 531.2 1076.8 501.6 1077.4 527.1 1077.9 532.8 1078.5 526.9 1079.0 506.8 1079.6 527.8 1080.2 531.0 1080.7 520.5 1081.3 505.5 1081.9 555.2 1082.4 499.6 1083.0 492.9 1083.5 539.7 1084.1 522.7 1084.7 512.8 1085.2 519.4 1085.8 445.3 1086.3 518.7 1086.9 531.5 1087.5 528.7 1088.0 515.0 1088.6 534.8 1089.2 532.3 1089.7 530.9 1090.3 487.3 1090.8 509.1 1091.4 541.7 1092.0 511.7 1092.5 564.1 1093.1 521.1 1093.6 509.1 1094.2 514.2 1094.8 510.4 1095.3 516.7 1095.9 532.7 1096.5 524.4 1097.0 525.1 1097.6 545.9 1098.1 519.2 1098.7 537.8 1099.3 507.9 1099.8 472.9 1100.4 475.7 1101.0 464.1 1101.5 527.2 1102.1 527.7 1102.6 507.1 1103.2 535.8 1103.8 507.2 1104.3 529.8 1104.9 513.3 1105.4 526.8 1106.0 487.5 1106.6 496.4 1107.1 503.5 1107.7 541.2 1108.3 495.0 1108.8 526.7 1109.4 542.8 1109.9 513.2 1110.5 498.3 1111.1 545.1 1111.6 503.8 1112.2 523.3 1112.7 522.6 1113.3 509.4 1113.9 525.1 1114.4 531.1 1115.0 497.3 1115.6 559.7 1116.1 499.1 1116.7 541.6 1117.2 494.6 1117.8 539.8 1118.4 491.2 1118.9 548.5 1119.5 481.9 1120.0 515.8 1120.6 522.5 1121.2 524.4 1121.7 498.2 1122.3 521.8 1122.9 506.5 1123.4 515.5 1124.0 538.0 1124.5 483.9 1125.1 521.5 1125.7 512.7 1126.2 513.4 1126.8 517.9 1127.3 483.5 1127.9 511.0 1128.5 523.4 1129.0 516.9 1129.6 524.2 1130.2 538.3 1130.7 496.2 1131.3 535.9 1131.8 493.9 1132.4 516.6 1133.0 502.2 1133.5 518.8 1134.1 524.0 1134.6 470.0 1135.2 525.4 1135.8 535.2 1136.3 510.1 1136.9 490.3 1137.5 541.0 1138.0 528.2 1138.6 501.5 1139.1 499.9 1139.7 507.4 1140.3 526.1 1140.8 514.2 1141.4 530.9 1141.9 509.5 1142.5 518.2 1143.1 512.9 1143.6 522.3 1144.2 504.6 1144.8 517.4 1145.3 531.9 1145.9 489.9 1146.4 514.0 1147.0 523.5 1147.6 521.6 1148.1 488.6 1148.7 516.9 1149.2 512.9 1149.8 533.2 1150.4 525.0 1150.9 529.4 1151.5 534.1 1152.1 537.7 1152.6 525.4 1153.2 541.8 1153.7 507.5 1154.3 504.8 1154.9 535.6 1155.4 512.2 1156.0 532.7 1156.5 514.3 1157.1 512.2 1157.7 548.8 1158.2 560.3 1158.8 511.9 1159.4 511.9 1159.9 521.6 1160.5 531.0 1161.0 534.0 1161.6 562.6 1162.2 494.3 1162.7 558.2 1163.3 517.9 1163.8 526.0 1164.4 516.6 1165.0 543.4 1165.5 537.0 1166.1 514.2 1166.7 541.8 1167.2 521.1 1167.8 545.0 1168.3 519.6 1168.9 514.0 1169.5 522.3 1170.0 512.8 1170.6 542.6 1171.2 532.3 1171.7 529.3 1172.3 495.8 1172.8 533.2 1173.4 523.1 1174.0 500.5 1174.5 519.9 1175.1 506.6 1175.6 541.5 1176.2 505.1 1176.8 523.7 1177.3 514.4 1177.9 511.0 1178.5 554.8 1179.0 502.6 1179.6 531.3 1180.1 502.3 1180.7 528.9 1181.3 520.3 1181.8 549.7 1182.4 543.6 1182.9 504.6 1183.5 538.5 1184.1 519.7 1184.6 525.4 1185.2 543.3 1185.8 528.3 1186.3 527.0 1186.9 513.3 1187.4 531.4 1188.0 534.9 1188.6 497.6 1189.1 496.7 1189.7 522.7 1190.2 541.0 1190.8 516.4 1191.4 532.8 1191.9 496.7 1192.5 524.3 1193.1 534.9 1193.6 529.2 1194.2 539.8 1194.7 524.9 1195.3 545.2 1195.9 520.0 1196.4 508.5 1197.0 515.0 1197.5 539.6 1198.1 516.9 1198.7 531.1 1199.2 547.8 1199.8 525.8 1200.4 508.2 1200.9 520.4 1201.5 530.2 1202.0 535.5" fill="none" stroke="#2a2eec" stroke-opacity="0.35" stroke-width="1.5" stroke-dasharray="5.55 2.4" clip-path="url(#cR3)"/>
<path d="M641.0 525.3 641.6 516.1 642.1 521.4 642.7 502.6 643.2 509.5 643.8 505.9 644.4 529.3 644.9 516.1 645.5 523.4 646.1 516.9 646.6 518.5 647.2 475.1 647.7 542.8 648.3 516.8 648.9 531.9 649.4 516.0 650.0 518.7 650.5 494.0 651.1 525.8 651.7 534.8 652.2 517.3 652.8 518.1 653.4 557.0 653.9 486.5 654.5 538.4 655.0 493.5 655.6 499.7 656.2 496.6 656.7 519.0 657.3 536.5 657.8 535.4 658.4 499.0 659.0 530.5 659.5 515.1 660.1 528.7 660.7 532.1 661.2 504.6 661.8 538.0 662.3 525.8 662.9 527.3 663.5 519.6 664.0 524.1 664.6 539.5 665.1 529.4 665.7 527.9 666.3 483.9 666.8 507.7 667.4 523.9 668.0 519.1 668.5 527.0 669.1 490.3 669.6 525.3 670.2 538.6 670.8 436.6 671.3 535.7 671.9 532.2 672.4 538.8 673.0 514.6 673.6 534.0 674.1 535.6 674.7 503.8 675.3 494.7 675.8 516.4 676.4 540.0 676.9 513.0 677.5 532.9 678.1 516.8 678.6 516.7 679.2 541.8 679.8 505.6 680.3 522.0 680.9 523.0 681.4 540.1 682.0 504.5 682.6 534.1 683.1 520.3 683.7 539.2 684.2 542.9 684.8 542.9 685.4 549.1 685.9 529.3 686.5 497.2 687.1 502.2 687.6 537.2 688.2 536.0 688.7 492.9 689.3 508.0 689.9 522.2 690.4 529.1 691.0 529.4 691.5 559.4 692.1 533.5 692.7 481.6 693.2 492.1 693.8 527.4 694.4 507.9 694.9 511.7 695.5 532.5 696.0 537.8 696.6 532.7 697.2 519.5 697.7 497.7 698.3 518.2 698.8 522.5 699.4 527.1 700.0 498.9 700.5 490.9 701.1 518.1 701.7 526.6 702.2 516.9 702.8 511.8 703.3 500.2 703.9 504.4 704.5 535.8 705.0 524.4 705.6 529.6 706.1 510.7 706.7 541.0 707.3 551.5 707.8 521.3 708.4 531.1 709.0 530.2 709.5 524.8 710.1 538.0 710.6 521.3 711.2 541.6 711.8 542.3 712.3 513.1 712.9 528.2 713.4 502.0 714.0 517.6 714.6 534.9 715.1 532.3 715.7 540.0 716.3 523.0 716.8 513.3 717.4 523.1 717.9 519.1 718.5 539.0 719.1 499.8 719.6 512.4 720.2 504.7 720.7 541.9 721.3 526.6 721.9 535.7 722.4 493.5 723.0 526.4 723.6 479.2 724.1 515.1 724.7 532.8 725.2 500.1 725.8 490.0 726.4 525.9 726.9 532.7 727.5 523.9 728.0 542.4 728.6 540.5 729.2 556.8 729.7 532.9 730.3 544.2 730.9 520.3 731.4 518.1 732.0 504.3 732.5 518.6 733.1 527.1 733.7 499.4 734.2 535.0 734.8 556.4 735.3 545.4 735.9 530.5 736.5 513.4 737.0 504.8 737.6 539.9 738.2 503.6 738.7 516.4 739.3 511.8 739.8 539.9 740.4 527.3 741.0 556.6 741.5 521.6 742.1 529.7 742.6 510.6 743.2 502.7 743.8 538.3 744.3 506.6 744.9 503.4 745.5 527.8 746.0 487.4 746.6 536.1 747.1 546.2 747.7 522.6 748.3 490.3 748.8 513.3 749.4 550.5 750.0 531.6 750.5 500.1 751.1 535.0 751.6 525.5 752.2 539.8 752.8 485.1 753.3 490.5 753.9 543.7 754.4 551.4 755.0 512.5 755.6 514.8 756.1 522.3 756.7 520.3 757.3 527.4 757.8 505.3 758.4 506.3 758.9 498.0 759.5 505.8 760.1 531.5 760.6 529.4 761.2 526.7 761.7 520.0 762.3 533.7 762.9 536.0 763.4 526.3 764.0 529.8 764.6 524.4 765.1 491.8 765.7 497.4 766.2 530.7 766.8 520.4 767.4 527.3 767.9 536.7 768.5 512.8 769.0 553.7 769.6 519.2 770.2 528.4 770.7 543.7 771.3 515.0 771.9 506.1 772.4 519.4 773.0 516.2 773.5 538.7 774.1 516.2 774.7 496.3 775.2 542.5 775.8 481.4 776.3 552.2 776.9 507.8 777.5 534.2 778.0 520.3 778.6 524.4 779.2 523.9 779.7 505.7 780.3 529.0 780.8 520.4 781.4 502.4 782.0 526.3 782.5 557.4 783.1 533.2 783.6 533.7 784.2 538.9 784.8 512.7 785.3 522.4 785.9 537.2 786.5 533.7 787.0 547.4 787.6 533.2 788.1 488.0 788.7 551.4 789.3 487.7 789.8 524.9 790.4 527.6 790.9 533.7 791.5 544.4 792.1 512.9 792.6 529.7 793.2 535.4 793.8 525.3 794.3 495.2 794.9 532.2 795.4 527.1 796.0 499.1 796.6 541.3 797.1 508.7 797.7 476.5 798.2 524.5 798.8 550.8 799.4 506.7 799.9 529.6 800.5 499.4 801.1 514.7 801.6 519.0 802.2 538.7 802.7 502.1 803.3 515.6 803.9 515.6 804.4 515.2 805.0 515.2 805.5 519.5 806.1 524.6 806.7 549.7 807.2 533.0 807.8 529.2 808.4 502.6 808.9 503.2 809.5 539.3 810.0 531.5 810.6 533.3 811.2 517.2 811.7 517.7 812.3 511.7 812.8 533.9 813.4 528.5 814.0 482.1 814.5 541.4 815.1 494.6 815.7 507.9 816.2 504.6 816.8 519.8 817.3 521.7 817.9 507.6 818.5 524.4 819.0 522.6 819.6 526.4 820.2 514.3 820.7 523.2 821.3 527.0 821.8 510.7 822.4 518.1 823.0 543.1 823.5 522.6 824.1 495.4 824.6 514.2 825.2 492.5 825.8 549.0 826.3 514.8 826.9 552.9 827.5 510.7 828.0 532.9 828.6 524.8 829.1 513.9 829.7 536.1 830.3 533.9 830.8 528.8 831.4 508.6 831.9 496.7 832.5 535.1 833.1 537.7 833.6 521.4 834.2 542.3 834.8 544.9 835.3 513.3 835.9 531.4 836.4 493.3 837.0 538.0 837.6 494.5 838.1 499.8 838.7 528.0 839.2 518.8 839.8 563.4 840.4 517.9 840.9 521.4 841.5 536.1 842.1 497.0 842.6 559.4 843.2 509.7 843.7 521.5 844.3 518.9 844.9 546.9 845.4 510.9 846.0 531.5 846.5 519.6 847.1 505.7 847.7 537.0 848.2 565.3 848.8 516.4 849.4 518.3 849.9 526.6 850.5 533.3 851.0 537.7 851.6 519.9 852.2 511.4 852.7 529.5 853.3 497.4 853.8 525.5 854.4 509.4 855.0 524.1 855.5 521.1 856.1 502.6 856.7 508.4 857.2 497.9 857.8 499.1 858.3 519.3 858.9 506.1 859.5 510.6 860.0 511.0 860.6 504.7 861.1 517.8 861.7 516.7 862.3 510.1 862.8 535.5 863.4 503.9 864.0 500.9 864.5 552.4 865.1 505.7 865.6 531.8 866.2 533.7 866.8 507.7 867.3 535.3 867.9 515.9 868.4 531.3 869.0 540.5 869.6 485.6 870.1 533.4 870.7 540.4 871.3 526.7 871.8 485.6 872.4 546.8 872.9 499.3 873.5 532.9 874.1 516.5 874.6 521.6 875.2 501.0 875.7 533.5 876.3 484.0 876.9 527.1 877.4 543.6 878.0 516.8 878.6 505.4 879.1 507.7 879.7 502.4 880.2 523.8 880.8 492.5 881.4 504.1 881.9 535.7 882.5 527.0 883.0 532.4 883.6 524.8 884.2 515.8 884.7 527.7 885.3 522.8 885.9 506.0 886.4 504.0 887.0 492.0 887.5 567.3 888.1 530.7 888.7 531.9 889.2 529.1 889.8 535.0 890.4 535.5 890.9 506.3 891.5 495.2 892.0 538.0 892.6 505.9 893.2 554.6 893.7 509.8 894.3 487.2 894.8 502.0 895.4 533.8 896.0 534.6 896.5 525.1 897.1 495.4 897.7 513.2 898.2 516.0 898.8 510.3 899.3 538.1 899.9 554.5 900.5 530.1 901.0 528.6 901.6 514.7 902.1 519.1 902.7 453.7 903.3 527.7 903.8 529.9 904.4 493.1 905.0 519.0 905.5 481.5 906.1 482.2 906.6 503.7 907.2 505.3 907.8 545.4 908.3 494.1 908.9 515.6 909.4 507.4 910.0 500.5 910.6 516.5 911.1 535.5 911.7 528.1 912.3 536.2 912.8 501.3 913.4 519.5 913.9 517.8 914.5 527.5 915.1 521.4 915.6 538.9 916.2 517.1 916.7 537.9 917.3 514.3 917.9 523.9 918.4 511.2 919.0 498.8 919.6 510.8 920.1 516.5 920.7 503.2 921.2 528.8 921.8 520.0 922.4 511.5 922.9 542.9 923.5 530.8 924.0 477.9 924.6 514.9 925.2 515.5 925.7 508.1 926.3 522.0 926.9 526.4 927.4 524.2 928.0 499.1 928.5 487.1 929.1 528.5 929.7 521.0 930.2 510.5 930.8 538.2 931.3 517.4 931.9 498.6 932.5 497.0 933.0 469.6 933.6 524.2 934.2 518.1 934.7 501.5 935.3 512.3 935.8 496.2 936.4 517.7 937.0 546.6 937.5 532.3 938.1 546.3 938.6 515.4 939.2 493.9 939.8 507.8 940.3 526.9 940.9 551.3 941.5 519.0 942.0 530.6 942.6 530.2 943.1 518.8 943.7 471.7 944.3 526.8 944.8 532.1 945.4 543.6 945.9 502.0 946.5 535.9 947.1 550.6 947.6 528.5 948.2 514.8 948.8 541.2 949.3 521.4 949.9 547.7 950.4 496.9 951.0 540.6 951.6 521.6 952.1 537.0 952.7 530.2 953.2 514.8 953.8 530.9 954.4 522.4 954.9 497.8 955.5 468.4 956.1 504.7 956.6 519.7 957.2 516.2 957.7 541.5 958.3 538.9 958.9 539.2 959.4 512.6 960.0 522.5 960.6 526.7 961.1 472.8 961.7 520.7 962.2 504.7 962.8 511.9 963.4 519.6 963.9 511.2 964.5 545.7 965.0 518.5 965.6 501.0 966.2 487.7 966.7 524.2 967.3 493.1 967.9 504.7 968.4 526.9 969.0 546.8 969.5 514.6 970.1 531.5 970.7 497.9 971.2 513.0 971.8 544.8 972.3 528.3 972.9 513.1 973.5 495.3 974.0 560.6 974.6 510.9 975.2 542.3 975.7 524.6 976.3 535.6 976.8 502.8 977.4 514.2 978.0 485.7 978.5 495.6 979.1 533.0 979.6 556.1 980.2 524.8 980.8 530.2 981.3 518.4 981.9 533.3 982.5 531.8 983.0 506.3 983.6 516.0 984.1 532.6 984.7 512.9 985.3 536.0 985.8 520.1 986.4 502.5 986.9 529.3 987.5 543.4 988.1 517.9 988.6 527.7 989.2 485.8 989.8 522.9 990.3 532.1 990.9 541.2 991.4 557.3 992.0 535.6 992.6 520.3 993.1 537.2 993.7 511.9 994.2 504.2 994.8 508.3 995.4 532.8 995.9 534.9 996.5 505.4 997.1 532.6 997.6 532.1 998.2 531.0 998.7 495.4 999.3 552.0 999.9 499.8 1000.4 504.3 1001.0 490.2 1001.5 512.5 1002.1 475.9 1002.7 506.7 1003.2 536.2 1003.8 545.1 1004.4 520.4 1004.9 512.6 1005.5 515.5 1006.0 502.0 1006.6 499.3 1007.2 560.2 1007.7 521.6 1008.3 521.4 1008.8 510.2 1009.4 535.2 1010.0 498.9 1010.5 520.1 1011.1 495.7 1011.7 532.4 1012.2 523.5 1012.8 543.6 1013.3 537.6 1013.9 526.9 1014.5 531.0 1015.0 515.6 1015.6 513.2 1016.1 521.4 1016.7 521.2 1017.3 540.5 1017.8 529.0 1018.4 525.5 1019.0 534.2 1019.5 507.3 1020.1 511.2 1020.6 535.8 1021.2 529.8 1021.8 523.0 1022.3 520.2 1022.9 493.1 1023.4 525.7 1024.0 532.7 1024.6 515.7 1025.1 510.5 1025.7 499.3 1026.3 539.0 1026.8 527.1 1027.4 518.7 1027.9 519.4 1028.5 548.1 1029.1 515.3 1029.6 494.9 1030.2 511.3 1030.8 525.3 1031.3 540.3 1031.9 539.6 1032.4 523.4 1033.0 535.8 1033.6 535.7 1034.1 549.7 1034.7 514.8 1035.2 507.3 1035.8 524.3 1036.4 511.9 1036.9 520.9 1037.5 491.4 1038.1 524.7 1038.6 523.4 1039.2 543.2 1039.7 524.1 1040.3 530.1 1040.9 531.6 1041.4 494.3 1042.0 508.9 1042.5 504.0 1043.1 517.4 1043.7 538.6 1044.2 522.3 1044.8 503.7 1045.4 537.4 1045.9 526.0 1046.5 523.2 1047.0 503.6 1047.6 522.2 1048.2 509.1 1048.7 510.8 1049.3 527.4 1049.8 518.8 1050.4 543.6 1051.0 531.0 1051.5 512.3 1052.1 514.8 1052.7 515.6 1053.2 521.3 1053.8 506.3 1054.3 510.0 1054.9 520.3 1055.5 548.0 1056.0 458.9 1056.6 475.2 1057.1 535.5 1057.7 491.7 1058.3 525.4 1058.8 498.1 1059.4 535.8 1060.0 521.3 1060.5 529.2 1061.1 507.0 1061.6 503.8 1062.2 518.7 1062.8 557.6 1063.3 519.5 1063.9 539.2 1064.4 490.5 1065.0 529.8 1065.6 555.6 1066.1 523.4 1066.7 543.4 1067.3 512.6 1067.8 542.3 1068.4 513.7 1068.9 548.4 1069.5 498.7 1070.1 522.1 1070.6 507.7 1071.2 525.4 1071.7 480.6 1072.3 525.3 1072.9 509.3 1073.4 523.6 1074.0 498.2 1074.6 546.0 1075.1 548.1 1075.7 512.2 1076.2 534.8 1076.8 539.1 1077.4 513.5 1077.9 522.6 1078.5 561.6 1079.0 520.5 1079.6 532.1 1080.2 540.7 1080.7 508.5 1081.3 511.9 1081.9 495.9 1082.4 531.9 1083.0 538.8 1083.5 470.1 1084.1 506.5 1084.7 509.3 1085.2 538.0 1085.8 530.7 1086.3 508.0 1086.9 568.8 1087.5 545.0 1088.0 517.9 1088.6 554.3 1089.2 510.2 1089.7 527.5 1090.3 551.8 1090.8 524.1 1091.4 523.4 1092.0 525.5 1092.5 513.1 1093.1 550.2 1093.6 533.5 1094.2 514.9 1094.8 519.4 1095.3 520.1 1095.9 465.6 1096.5 531.5 1097.0 534.5 1097.6 512.3 1098.1 527.7 1098.7 506.5 1099.3 527.3 1099.8 489.3 1100.4 535.4 1101.0 528.3 1101.5 506.9 1102.1 522.3 1102.6 506.0 1103.2 508.7 1103.8 506.4 1104.3 544.2 1104.9 505.9 1105.4 521.5 1106.0 516.5 1106.6 537.2 1107.1 512.8 1107.7 506.3 1108.3 515.0 1108.8 512.1 1109.4 518.5 1109.9 525.1 1110.5 512.2 1111.1 524.6 1111.6 523.6 1112.2 512.6 1112.7 502.4 1113.3 486.6 1113.9 499.2 1114.4 519.4 1115.0 534.9 1115.6 514.7 1116.1 538.4 1116.7 538.3 1117.2 552.4 1117.8 496.9 1118.4 498.9 1118.9 539.5 1119.5 518.7 1120.0 514.0 1120.6 490.5 1121.2 492.7 1121.7 536.2 1122.3 514.6 1122.9 547.2 1123.4 522.8 1124.0 519.9 1124.5 525.9 1125.1 540.4 1125.7 527.0 1126.2 477.5 1126.8 532.0 1127.3 520.7 1127.9 502.6 1128.5 504.9 1129.0 527.4 1129.6 492.2 1130.2 492.7 1130.7 516.7 1131.3 514.8 1131.8 522.3 1132.4 509.9 1133.0 514.9 1133.5 498.2 1134.1 548.6 1134.6 502.3 1135.2 522.5 1135.8 491.8 1136.3 497.2 1136.9 523.1 1137.5 520.6 1138.0 528.7 1138.6 537.9 1139.1 524.1 1139.7 505.4 1140.3 524.8 1140.8 543.2 1141.4 521.2 1141.9 539.4 1142.5 520.1 1143.1 508.4 1143.6 503.2 1144.2 499.1 1144.8 535.6 1145.3 562.1 1145.9 522.0 1146.4 525.6 1147.0 507.5 1147.6 508.7 1148.1 526.6 1148.7 520.5 1149.2 505.2 1149.8 533.4 1150.4 556.8 1150.9 515.5 1151.5 519.1 1152.1 531.0 1152.6 497.1 1153.2 524.2 1153.7 443.2 1154.3 517.6 1154.9 487.3 1155.4 540.6 1156.0 506.0 1156.5 543.7 1157.1 508.8 1157.7 530.5 1158.2 529.5 1158.8 509.0 1159.4 470.6 1159.9 551.2 1160.5 526.2 1161.0 536.3 1161.6 499.5 1162.2 520.8 1162.7 537.4 1163.3 505.9 1163.8 509.9 1164.4 524.2 1165.0 506.8 1165.5 515.8 1166.1 504.2 1166.7 540.9 1167.2 510.2 1167.8 504.4 1168.3 537.3 1168.9 446.4 1169.5 492.0 1170.0 517.1 1170.6 531.8 1171.2 526.2 1171.7 522.4 1172.3 513.3 1172.8 544.4 1173.4 541.2 1174.0 496.6 1174.5 544.6 1175.1 481.8 1175.6 524.5 1176.2 546.3 1176.8 537.4 1177.3 488.7 1177.9 517.7 1178.5 539.7 1179.0 497.2 1179.6 512.4 1180.1 533.1 1180.7 541.2 1181.3 547.9 1181.8 521.2 1182.4 512.3 1182.9 492.2 1183.5 491.3 1184.1 502.4 1184.6 546.4 1185.2 531.9 1185.8 511.6 1186.3 526.1 1186.9 519.3 1187.4 529.3 1188.0 521.3 1188.6 501.9 1189.1 511.7 1189.7 545.7 1190.2 529.5 1190.8 541.3 1191.4 548.9 1191.9 502.7 1192.5 521.9 1193.1 471.1 1193.6 508.6 1194.2 511.5 1194.7 530.3 1195.3 534.1 1195.9 506.4 1196.4 530.2 1197.0 490.2 1197.5 502.0 1198.1 502.1 1198.7 517.2 1199.2 536.9 1199.8 497.0 1200.4 530.8 1200.9 520.5 1201.5 505.4 1202.0 526.9" fill="none" stroke="#2a2eec" stroke-opacity="0.35" stroke-width="1.5" stroke-dasharray="1.5 2.475" clip-path="url(#cR3)"/>
<path d="M641.0 528.3 641.6 543.4 642.1 499.3 642.7 485.7 643.2 535.2 643.8 497.3 644.4 480.7 644.9 483.9 645.5 499.1 646.1 531.3 646.6 544.3 647.2 531.5 647.7 509.4 648.3 490.8 648.9 492.7 649.4 520.8 650.0 510.1 650.5 526.1 651.1 549.0 651.7 530.2 652.2 497.4 652.8 503.0 653.4 516.0 653.9 517.6 654.5 469.3 655.0 509.1 655.6 523.4 656.2 542.6 656.7 529.6 657.3 510.5 657.8 527.8 658.4 508.9 659.0 527.2 659.5 460.6 660.1 525.9 660.7 500.4 661.2 531.8 661.8 512.8 662.3 501.1 662.9 514.4 663.5 547.7 664.0 489.4 664.6 505.4 665.1 535.3 665.7 527.8 666.3 507.3 666.8 534.0 667.4 507.8 668.0 542.1 668.5 518.1 669.1 504.8 669.6 528.2 670.2 517.9 670.8 513.3 671.3 491.6 671.9 496.8 672.4 516.4 673.0 515.4 673.6 527.5 674.1 528.0 674.7 529.3 675.3 531.3 675.8 504.9 676.4 526.2 676.9 536.8 677.5 536.5 678.1 524.0 678.6 513.5 679.2 532.5 679.8 539.9 680.3 518.8 680.9 504.0 681.4 540.1 682.0 530.3 682.6 554.0 683.1 472.7 683.7 540.8 684.2 543.4 684.8 518.2 685.4 529.0 685.9 508.1 686.5 537.5 687.1 520.7 687.6 518.8 688.2 512.7 688.7 485.3 689.3 523.3 689.9 537.3 690.4 514.2 691.0 535.2 691.5 504.8 692.1 517.4 692.7 520.3 693.2 548.9 693.8 548.4 694.4 533.2 694.9 523.6 695.5 556.6 696.0 531.5 696.6 518.7 697.2 533.6 697.7 505.0 698.3 518.1 698.8 491.9 699.4 535.0 700.0 514.2 700.5 565.9 701.1 537.0 701.7 504.6 702.2 530.1 702.8 532.0 703.3 543.7 703.9 489.4 704.5 498.0 705.0 523.3 705.6 516.5 706.1 523.0 706.7 546.5 707.3 516.7 707.8 532.6 708.4 536.8 709.0 501.9 709.5 522.3 710.1 540.7 710.6 512.6 711.2 523.6 711.8 516.5 712.3 525.1 712.9 517.0 713.4 517.6 714.0 538.5 714.6 479.9 715.1 518.1 715.7 562.4 716.3 503.6 716.8 547.8 717.4 515.6 717.9 492.1 718.5 528.1 719.1 524.8 719.6 500.1 720.2 511.0 720.7 512.6 721.3 525.8 721.9 521.8 722.4 554.2 723.0 530.3 723.6 525.2 724.1 511.1 724.7 513.6 725.2 545.2 725.8 536.6 726.4 559.2 726.9 526.2 727.5 494.1 728.0 520.4 728.6 537.2 729.2 521.5 729.7 527.1 730.3 545.0 730.9 539.7 731.4 527.9 732.0 508.8 732.5 534.7 733.1 536.3 733.7 547.9 734.2 525.4 734.8 543.2 735.3 489.1 735.9 523.0 736.5 571.6 737.0 497.8 737.6 519.6 738.2 525.9 738.7 521.8 739.3 535.8 739.8 540.7 740.4 538.0 741.0 528.0 741.5 517.9 742.1 486.6 742.6 517.9 743.2 509.3 743.8 506.2 744.3 538.3 744.9 541.4 745.5 539.5 746.0 494.5 746.6 547.7 747.1 513.8 747.7 538.7 748.3 471.6 748.8 547.1 749.4 545.2 750.0 533.0 750.5 543.4 751.1 509.9 751.6 506.5 752.2 505.6 752.8 481.9 753.3 539.9 753.9 520.7 754.4 530.5 755.0 536.4 755.6 517.0 756.1 479.3 756.7 539.1 757.3 478.7 757.8 517.3 758.4 531.3 758.9 543.2 759.5 506.6 760.1 520.1 760.6 525.7 761.2 533.7 761.7 525.6 762.3 529.5 762.9 520.4 763.4 553.5 764.0 518.3 764.6 503.9 765.1 507.6 765.7 545.9 766.2 520.9 766.8 517.5 767.4 500.6 767.9 505.9 768.5 502.9 769.0 525.4 769.6 509.7 770.2 524.8 770.7 528.1 771.3 549.0 771.9 516.6 772.4 526.4 773.0 549.0 773.5 497.0 774.1 529.7 774.7 515.5 775.2 516.4 775.8 526.2 776.3 518.9 776.9 505.3 777.5 536.4 778.0 545.5 778.6 502.7 779.2 512.8 779.7 535.7 780.3 502.2 780.8 543.1 781.4 520.4 782.0 515.9 782.5 522.0 783.1 513.6 783.6 531.0 784.2 549.5 784.8 532.7 785.3 511.3 785.9 521.2 786.5 522.8 787.0 527.9 787.6 500.8 788.1 531.2 788.7 516.9 789.3 516.6 789.8 538.2 790.4 506.6 790.9 513.6 791.5 510.8 792.1 545.1 792.6 499.1 793.2 529.0 793.8 522.7 794.3 514.6 794.9 505.1 795.4 531.8 796.0 516.2 796.6 521.8 797.1 522.9 797.7 522.7 798.2 539.0 798.8 523.4 799.4 499.4 799.9 539.6 800.5 549.5 801.1 495.1 801.6 545.7 802.2 528.6 802.7 533.6 803.3 518.5 803.9 529.4 804.4 514.3 805.0 531.3 805.5 541.8 806.1 474.3 806.7 520.8 807.2 513.4 807.8 544.0 808.4 535.2 808.9 531.3 809.5 504.0 810.0 536.8 810.6 513.5 811.2 528.1 811.7 534.2 812.3 508.7 812.8 516.8 813.4 540.0 814.0 510.0 814.5 544.0 815.1 512.8 815.7 523.8 816.2 476.9 816.8 512.4 817.3 479.3 817.9 511.1 818.5 528.9 819.0 508.4 819.6 546.8 820.2 542.8 820.7 524.0 821.3 492.2 821.8 504.5 822.4 545.1 823.0 555.5 823.5 516.9 824.1 548.5 824.6 541.6 825.2 533.7 825.8 539.5 826.3 537.3 826.9 526.7 827.5 504.4 828.0 534.1 828.6 522.0 829.1 514.5 829.7 513.5 830.3 524.5 830.8 535.8 831.4 524.1 831.9 547.4 832.5 524.3 833.1 498.8 833.6 511.8 834.2 568.9 834.8 512.6 835.3 512.4 835.9 528.9 836.4 509.9 837.0 510.4 837.6 525.4 838.1 527.3 838.7 542.6 839.2 503.3 839.8 558.4 840.4 516.1 840.9 529.4 841.5 521.7 842.1 530.2 842.6 524.0 843.2 537.9 843.7 538.8 844.3 490.3 844.9 528.8 845.4 496.7 846.0 508.3 846.5 519.1 847.1 517.0 847.7 523.4 848.2 504.6 848.8 524.5 849.4 529.4 849.9 510.2 850.5 522.8 851.0 512.9 851.6 533.6 852.2 523.6 852.7 504.7 853.3 504.8 853.8 541.2 854.4 524.7 855.0 540.9 855.5 508.1 856.1 538.9 856.7 552.1 857.2 542.4 857.8 543.0 858.3 475.4 858.9 533.2 859.5 509.1 860.0 535.7 860.6 515.9 861.1 499.5 861.7 505.7 862.3 497.3 862.8 505.2 863.4 526.8 864.0 513.8 864.5 520.3 865.1 531.5 865.6 480.6 866.2 539.3 866.8 544.1 867.3 531.9 867.9 502.0 868.4 529.6 869.0 518.0 869.6 535.0 870.1 499.6 870.7 516.6 871.3 521.0 871.8 495.3 872.4 536.7 872.9 494.4 873.5 506.5 874.1 542.6 874.6 525.3 875.2 513.2 875.7 540.3 876.3 536.7 876.9 495.1 877.4 466.5 878.0 490.7 878.6 511.0 879.1 519.9 879.7 538.8 880.2 507.6 880.8 530.8 881.4 521.1 881.9 519.4 882.5 506.0 883.0 511.5 883.6 556.6 884.2 532.2 884.7 503.5 885.3 497.1 885.9 507.2 886.4 502.7 887.0 540.2 887.5 522.6 888.1 519.9 888.7 504.1 889.2 519.6 889.8 530.6 890.4 503.5 890.9 520.4 891.5 510.1 892.0 548.5 892.6 519.4 893.2 511.3 893.7 493.6 894.3 519.7 894.8 547.7 895.4 543.0 896.0 500.4 896.5 502.4 897.1 525.1 897.7 536.1 898.2 501.2 898.8 530.7 899.3 522.7 899.9 546.3 900.5 562.7 901.0 518.0 901.6 486.2 902.1 527.3 902.7 542.8 903.3 496.5 903.8 538.9 904.4 555.9 905.0 531.1 905.5 516.5 906.1 536.5 906.6 522.3 907.2 522.1 907.8 521.3 908.3 493.3 908.9 518.9 909.4 511.9 910.0 496.7 910.6 527.9 911.1 505.6 911.7 532.3 912.3 521.0 912.8 523.4 913.4 503.3 913.9 505.3 914.5 534.0 915.1 538.9 915.6 541.1 916.2 538.5 916.7 533.4 917.3 523.1 917.9 536.6 918.4 486.3 919.0 498.5 919.6 480.7 920.1 512.8 920.7 508.9 921.2 525.3 921.8 498.9 922.4 511.1 922.9 523.0 923.5 513.9 924.0 484.5 924.6 489.3 925.2 520.6 925.7 552.8 926.3 565.6 926.9 522.3 927.4 522.4 928.0 522.2 928.5 514.1 929.1 511.4 929.7 534.9 930.2 531.6 930.8 490.1 931.3 476.4 931.9 517.6 932.5 517.6 933.0 504.1 933.6 513.5 934.2 518.8 934.7 520.1 935.3 491.4 935.8 532.2 936.4 509.8 937.0 539.4 937.5 509.4 938.1 513.7 938.6 521.3 939.2 513.0 939.8 548.2 940.3 533.4 940.9 527.5 941.5 518.0 942.0 520.3 942.6 532.1 943.1 518.5 943.7 513.0 944.3 468.7 944.8 516.3 945.4 513.3 945.9 513.9 946.5 525.0 947.1 527.1 947.6 505.0 948.2 524.1 948.8 528.1 949.3 519.7 949.9 488.2 950.4 539.2 951.0 526.0 951.6 514.0 952.1 508.2 952.7 486.6 953.2 479.4 953.8 529.9 954.4 504.7 954.9 480.6 955.5 496.6 956.1 533.4 956.6 529.2 957.2 517.0 957.7 502.7 958.3 536.2 958.9 502.6 959.4 529.9 960.0 506.8 960.6 504.9 961.1 510.0 961.7 499.1 962.2 518.8 962.8 515.0 963.4 493.5 963.9 528.7 964.5 529.5 965.0 542.5 965.6 485.3 966.2 532.1 966.7 501.2 967.3 517.2 967.9 510.6 968.4 525.9 969.0 521.4 969.5 500.5 970.1 517.2 970.7 536.6 971.2 522.3 971.8 542.7 972.3 510.0 972.9 503.3 973.5 515.8 974.0 490.6 974.6 489.9 975.2 523.1 975.7 500.0 976.3 524.8 976.8 517.2 977.4 524.4 978.0 518.6 978.5 540.6 979.1 523.4 979.6 541.6 980.2 490.1 980.8 529.1 981.3 521.4 981.9 546.0 982.5 532.4 983.0 510.5 983.6 553.8 984.1 514.2 984.7 528.4 985.3 477.4 985.8 507.0 986.4 502.5 986.9 513.6 987.5 499.6 988.1 538.9 988.6 485.9 989.2 504.2 989.8 545.4 990.3 511.8 990.9 518.1 991.4 489.5 992.0 523.4 992.6 517.4 993.1 510.0 993.7 521.6 994.2 484.7 994.8 509.4 995.4 529.7 995.9 514.1 996.5 521.9 997.1 485.0 997.6 536.9 998.2 548.2 998.7 475.4 999.3 518.0 999.9 495.3 1000.4 517.2 1001.0 526.0 1001.5 507.2 1002.1 515.8 1002.7 528.6 1003.2 549.1 1003.8 511.6 1004.4 490.5 1004.9 494.8 1005.5 541.0 1006.0 490.0 1006.6 541.0 1007.2 526.1 1007.7 515.8 1008.3 516.1 1008.8 531.6 1009.4 522.8 1010.0 514.8 1010.5 514.9 1011.1 503.7 1011.7 499.2 1012.2 514.4 1012.8 529.5 1013.3 502.7 1013.9 517.1 1014.5 530.8 1015.0 555.9 1015.6 513.7 1016.1 504.4 1016.7 496.7 1017.3 534.3 1017.8 518.7 1018.4 546.7 1019.0 514.3 1019.5 512.8 1020.1 532.5 1020.6 507.9 1021.2 498.5 1021.8 497.6 1022.3 533.3 1022.9 516.8 1023.4 497.2 1024.0 520.5 1024.6 524.0 1025.1 521.8 1025.7 500.1 1026.3 521.3 1026.8 548.5 1027.4 504.4 1027.9 457.5 1028.5 508.3 1029.1 489.8 1029.6 510.6 1030.2 520.8 1030.8 534.5 1031.3 507.0 1031.9 516.7 1032.4 499.1 1033.0 513.7 1033.6 504.0 1034.1 550.6 1034.7 510.4 1035.2 505.0 1035.8 510.8 1036.4 490.3 1036.9 518.3 1037.5 504.3 1038.1 549.7 1038.6 502.4 1039.2 503.0 1039.7 532.8 1040.3 553.6 1040.9 534.9 1041.4 518.8 1042.0 486.1 1042.5 538.6 1043.1 510.1 1043.7 506.9 1044.2 508.2 1044.8 530.5 1045.4 506.2 1045.9 542.1 1046.5 550.9 1047.0 520.5 1047.6 534.2 1048.2 555.9 1048.7 493.4 1049.3 504.3 1049.8 507.7 1050.4 535.2 1051.0 531.4 1051.5 545.8 1052.1 519.4 1052.7 524.0 1053.2 519.7 1053.8 490.4 1054.3 528.2 1054.9 522.3 1055.5 544.3 1056.0 488.2 1056.6 495.1 1057.1 556.5 1057.7 555.3 1058.3 485.3 1058.8 479.6 1059.4 505.1 1060.0 490.4 1060.5 541.2 1061.1 517.2 1061.6 502.1 1062.2 521.8 1062.8 535.5 1063.3 521.5 1063.9 534.0 1064.4 479.7 1065.0 525.5 1065.6 531.1 1066.1 550.6 1066.7 489.4 1067.3 522.0 1067.8 507.9 1068.4 520.8 1068.9 513.5 1069.5 518.3 1070.1 529.7 1070.6 509.7 1071.2 533.3 1071.7 513.5 1072.3 511.7 1072.9 503.2 1073.4 534.8 1074.0 469.9 1074.6 515.0 1075.1 539.6 1075.7 547.6 1076.2 517.7 1076.8 521.1 1077.4 507.3 1077.9 546.3 1078.5 520.7 1079.0 511.6 1079.6 500.9 1080.2 549.6 1080.7 531.2 1081.3 534.3 1081.9 522.5 1082.4 525.7 1083.0 518.6 1083.5 536.6 1084.1 512.5 1084.7 546.9 1085.2 521.6 1085.8 477.0 1086.3 538.7 1086.9 484.6 1087.5 494.6 1088.0 529.3 1088.6 511.5 1089.2 509.3 1089.7 538.0 1090.3 555.7 1090.8 525.9 1091.4 543.8 1092.0 510.2 1092.5 549.9 1093.1 478.1 1093.6 471.0 1094.2 534.4 1094.8 554.9 1095.3 514.8 1095.9 530.6 1096.5 523.0 1097.0 548.3 1097.6 546.3 1098.1 511.1 1098.7 544.3 1099.3 555.0 1099.8 511.5 1100.4 509.9 1101.0 527.3 1101.5 540.0 1102.1 488.3 1102.6 528.0 1103.2 508.5 1103.8 544.7 1104.3 545.3 1104.9 517.3 1105.4 490.5 1106.0 539.6 1106.6 531.9 1107.1 528.6 1107.7 493.4 1108.3 521.8 1108.8 513.7 1109.4 503.3 1109.9 507.2 1110.5 487.5 1111.1 543.9 1111.6 515.4 1112.2 514.0 1112.7 542.5 1113.3 518.4 1113.9 516.1 1114.4 527.8 1115.0 533.0 1115.6 495.8 1116.1 515.8 1116.7 522.1 1117.2 515.7 1117.8 529.7 1118.4 516.2 1118.9 511.3 1119.5 536.0 1120.0 522.3 1120.6 522.0 1121.2 517.7 1121.7 528.1 1122.3 520.9 1122.9 529.3 1123.4 536.6 1124.0 530.4 1124.5 548.3 1125.1 509.2 1125.7 514.2 1126.2 536.7 1126.8 537.7 1127.3 536.7 1127.9 542.0 1128.5 541.0 1129.0 511.1 1129.6 526.7 1130.2 503.6 1130.7 511.4 1131.3 513.0 1131.8 543.8 1132.4 485.1 1133.0 524.3 1133.5 559.0 1134.1 525.7 1134.6 527.7 1135.2 510.2 1135.8 539.4 1136.3 518.5 1136.9 528.0 1137.5 497.2 1138.0 526.7 1138.6 511.7 1139.1 501.5 1139.7 535.8 1140.3 515.3 1140.8 520.8 1141.4 488.6 1141.9 509.3 1142.5 534.1 1143.1 482.8 1143.6 530.7 1144.2 521.7 1144.8 518.5 1145.3 509.5 1145.9 532.9 1146.4 525.1 1147.0 527.7 1147.6 517.0 1148.1 535.3 1148.7 528.6 1149.2 545.2 1149.8 485.5 1150.4 510.7 1150.9 495.8 1151.5 533.7 1152.1 550.9 1152.6 548.8 1153.2 542.9 1153.7 510.8 1154.3 528.0 1154.9 530.7 1155.4 543.0 1156.0 486.8 1156.5 544.7 1157.1 525.1 1157.7 526.1 1158.2 523.5 1158.8 523.8 1159.4 513.8 1159.9 464.2 1160.5 498.2 1161.0 514.6 1161.6 539.3 1162.2 489.8 1162.7 488.4 1163.3 530.9 1163.8 509.7 1164.4 559.1 1165.0 538.6 1165.5 498.0 1166.1 550.0 1166.7 507.4 1167.2 497.8 1167.8 545.3 1168.3 522.4 1168.9 489.4 1169.5 468.6 1170.0 518.3 1170.6 488.6 1171.2 534.6 1171.7 531.7 1172.3 510.6 1172.8 504.2 1173.4 515.4 1174.0 495.6 1174.5 501.7 1175.1 490.7 1175.6 502.2 1176.2 516.3 1176.8 514.1 1177.3 518.6 1177.9 513.6 1178.5 493.8 1179.0 495.7 1179.6 488.1 1180.1 497.3 1180.7 497.8 1181.3 531.3 1181.8 522.9 1182.4 525.0 1182.9 530.3 1183.5 558.3 1184.1 502.9 1184.6 536.6 1185.2 531.3 1185.8 531.1 1186.3 485.1 1186.9 509.3 1187.4 486.9 1188.0 518.2 1188.6 502.0 1189.1 501.8 1189.7 520.6 1190.2 514.9 1190.8 547.9 1191.4 537.4 1191.9 516.4 1192.5 557.5 1193.1 514.0 1193.6 515.4 1194.2 531.2 1194.7 503.5 1195.3 509.5 1195.9 496.1 1196.4 515.1 1197.0 506.9 1197.5 512.9 1198.1 543.0 1198.7 519.6 1199.2 521.9 1199.8 517.5 1200.4 518.8 1200.9 503.5 1201.5 520.7 1202.0 532.8" fill="none" stroke="#2a2eec" stroke-opacity="0.35" stroke-width="1.5" stroke-dasharray="9.6 2.4 1.5 2.4" clip-path="url(#cR3)"/>
<text x="72.40" y="198.5" text-anchor="middle" font-size="14" fill="#262626" textLength="41.6" lengthAdjust="spacingAndGlyphs">−0.04</text>
<text x="184.40" y="198.5" text-anchor="middle" font-size="14" fill="#262626" textLength="41.6" lengthAdjust="spacingAndGlyphs">−0.02</text>
<text x="296.40" y="198.5" text-anchor="middle" font-size="14" fill="#262626" textLength="30.2" lengthAdjust="spacingAndGlyphs">0.00</text>
<text x="408.40" y="198.5" text-anchor="middle" font-size="14" fill="#262626" textLength="30.2" lengthAdjust="spacingAndGlyphs">0.02</text>
<text x="520.40" y="198.5" text-anchor="middle" font-size="14" fill="#262626" textLength="30.2" lengthAdjust="spacingAndGlyphs">0.04</text>
<text x="114.40" y="398.5" text-anchor="middle" font-size="14" fill="#262626" textLength="30.2" lengthAdjust="spacingAndGlyphs">0.96</text>
<text x="232.50" y="398.5" text-anchor="middle" font-size="14" fill="#262626" textLength="30.2" lengthAdjust="spacingAndGlyphs">0.98</text>
<text x="350.60" y="398.5" text-anchor="middle" font-size="14" fill="#262626" textLength="30.2" lengthAdjust="spacingAndGlyphs">1.00</text>
<text x="468.70" y="398.5" text-anchor="middle" font-size="14" fill="#262626" textLength="30.2" lengthAdjust="spacingAndGlyphs">1.02</text>
<text x="48.60" y="598.5" text-anchor="middle" font-size="14" fill="#262626" textLength="30.2" lengthAdjust="spacingAndGlyphs">0.10</text>
<text x="126.43" y="598.5" text-anchor="middle" font-size="14" fill="#262626" textLength="30.2" lengthAdjust="spacingAndGlyphs">0.11</text>
<text x="204.26" y="598.5" text-anchor="middle" font-size="14" fill="#262626" textLength="30.2" lengthAdjust="spacingAndGlyphs">0.12</text>
<text x="282.09" y="598.5" text-anchor="middle" font-size="14" fill="#262626" textLength="30.2" lengthAdjust="spacingAndGlyphs">0.13</text>
<text x="359.92" y="598.5" text-anchor="middle" font-size="14" fill="#262626" textLength="30.2" lengthAdjust="spacingAndGlyphs">0.14</text>
<text x="437.75" y="598.5" text-anchor="middle" font-size="14" fill="#262626" textLength="30.2" lengthAdjust="spacingAndGlyphs">0.15</text>
<text x="515.58" y="598.5" text-anchor="middle" font-size="14" fill="#262626" textLength="30.2" lengthAdjust="spacingAndGlyphs">0.16</text>
<text x="641.00" y="198.5" text-anchor="middle" font-size="14" fill="#262626" textLength="8.6" lengthAdjust="spacingAndGlyphs">0</text>
<text x="753.32" y="198.5" text-anchor="middle" font-size="14" fill="#262626" textLength="25.9" lengthAdjust="spacingAndGlyphs">200</text>
<text x="865.64" y="198.5" text-anchor="middle" font-size="14" fill="#262626" textLength="25.9" lengthAdjust="spacingAndGlyphs">400</text>
<text x="977.96" y="198.5" text-anchor="middle" font-size="14" fill="#262626" textLength="25.9" lengthAdjust="spacingAndGlyphs">600</text>
<text x="1090.28" y="198.5" text-anchor="middle" font-size="14" fill="#262626" textLength="25.9" lengthAdjust="spacingAndGlyphs">800</text>
<text x="641.00" y="398.5" text-anchor="middle" font-size="14" fill="#262626" textLength="8.6" lengthAdjust="spacingAndGlyphs">0</text>
<text x="753.32" y="398.5" text-anchor="middle" font-size="14" fill="#262626" textLength="25.9" lengthAdjust="spacingAndGlyphs">200</text>
<text x="865.64" y="398.5" text-anchor="middle" font-size="14" fill="#262626" textLength="25.9" lengthAdjust="spacingAndGlyphs">400</text>
<text x="977.96" y="398.5" text-anchor="middle" font-size="14" fill="#262626" textLength="25.9" lengthAdjust="spacingAndGlyphs">600</text>
<text x="1090.28" y="398.5" text-anchor="middle" font-size="14" fill="#262626" textLength="25.9" lengthAdjust="spacingAndGlyphs">800</text>
<text x="641.00" y="598.5" text-anchor="middle" font-size="14" fill="#262626" textLength="8.6" lengthAdjust="spacingAndGlyphs">0</text>
<text x="753.32" y="598.5" text-anchor="middle" font-size="14" fill="#262626" textLength="25.9" lengthAdjust="spacingAndGlyphs">200</text>
<text x="865.64" y="598.5" text-anchor="middle" font-size="14" fill="#262626" textLength="25.9" lengthAdjust="spacingAndGlyphs">400</text>
<text x="977.96" y="598.5" text-anchor="middle" font-size="14" fill="#262626" textLength="25.9" lengthAdjust="spacingAndGlyphs">600</text>
<text x="1090.28" y="598.5" text-anchor="middle" font-size="14" fill="#262626" textLength="25.9" lengthAdjust="spacingAndGlyphs">800</text>
<text x="635" y="72.67" text-anchor="end" font-size="14" fill="#262626" textLength="38.9" lengthAdjust="spacingAndGlyphs">0.025</text>
<text x="635" y="110.30" text-anchor="end" font-size="14" fill="#262626" textLength="38.9" lengthAdjust="spacingAndGlyphs">0.000</text>
<text x="635" y="147.93" text-anchor="end" font-size="14" fill="#262626" textLength="50.2" lengthAdjust="spacingAndGlyphs">−0.025</text>
<text x="635" y="185.55" text-anchor="end" font-size="14" fill="#262626" textLength="50.2" lengthAdjust="spacingAndGlyphs">−0.050</text>
<text x="635" y="263.80" text-anchor="end" font-size="14" fill="#262626" textLength="30.2" lengthAdjust="spacingAndGlyphs">1.02</text>
<text x="635" y="295.80" text-anchor="end" font-size="14" fill="#262626" textLength="30.2" lengthAdjust="spacingAndGlyphs">1.00</text>
<text x="635" y="327.80" text-anchor="end" font-size="14" fill="#262626" textLength="30.2" lengthAdjust="spacingAndGlyphs">0.98</text>
<text x="635" y="359.80" text-anchor="end" font-size="14" fill="#262626" textLength="30.2" lengthAdjust="spacingAndGlyphs">0.96</text>
<text x="635" y="450.63" text-anchor="end" font-size="14" fill="#262626" textLength="30.2" lengthAdjust="spacingAndGlyphs">0.16</text>
<text x="635" y="492.97" text-anchor="end" font-size="14" fill="#262626" textLength="30.2" lengthAdjust="spacingAndGlyphs">0.14</text>
<text x="635" y="535.30" text-anchor="end" font-size="14" fill="#262626" textLength="30.2" lengthAdjust="spacingAndGlyphs">0.12</text>
<text x="635" y="577.63" text-anchor="end" font-size="14" fill="#262626" textLength="30.2" lengthAdjust="spacingAndGlyphs">0.10</text>
<text x="291.0" y="22.3" text-anchor="middle" font-size="17.5" fill="#262626">a</text>
<text x="921.5" y="22.3" text-anchor="middle" font-size="17.5" fill="#262626">a</text>
<text x="291.0" y="222.3" text-anchor="middle" font-size="17.5" fill="#262626">b</text>
<text x="921.5" y="222.3" text-anchor="middle" font-size="17.5" fill="#262626">b</text>
<text x="291.0" y="422.3" text-anchor="middle" font-size="17.5" fill="#262626">sigma</text>
<text x="921.5" y="422.3" text-anchor="middle" font-size="17.5" fill="#262626">sigma</text></svg></body></html>
